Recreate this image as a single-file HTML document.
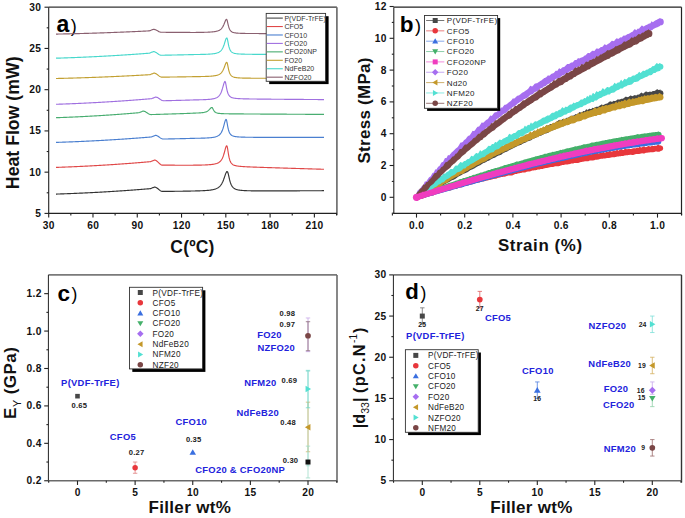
<!DOCTYPE html>
<html><head><meta charset="utf-8"><style>
html,body{margin:0;padding:0;background:#fff;}
body{width:685px;height:518px;overflow:hidden;}
svg{display:block;}
text{font-family:"Liberation Sans", sans-serif;}
</style></head><body>
<svg width="685" height="518" viewBox="0 0 685 518">
<rect width="685" height="518" fill="#fff"/>
<line x1="48.70" y1="7.20" x2="336.90" y2="7.20" stroke="#333" stroke-width="1.2"/>
<line x1="336.90" y1="7.20" x2="336.90" y2="215.20" stroke="#666" stroke-width="1.6"/>
<line x1="48.70" y1="7.20" x2="48.70" y2="213.40" stroke="#222" stroke-width="1.1"/>
<line x1="48.20" y1="213.40" x2="336.90" y2="213.40" stroke="#222" stroke-width="1.2"/>
<line x1="44.50" y1="213.40" x2="48.70" y2="213.40" stroke="#222" stroke-width="1.1"/>
<line x1="44.50" y1="172.16" x2="48.70" y2="172.16" stroke="#222" stroke-width="1.1"/>
<line x1="44.50" y1="130.92" x2="48.70" y2="130.92" stroke="#222" stroke-width="1.1"/>
<line x1="44.50" y1="89.68" x2="48.70" y2="89.68" stroke="#222" stroke-width="1.1"/>
<line x1="44.50" y1="48.44" x2="48.70" y2="48.44" stroke="#222" stroke-width="1.1"/>
<line x1="44.50" y1="7.20" x2="48.70" y2="7.20" stroke="#222" stroke-width="1.1"/>
<line x1="46.70" y1="192.78" x2="48.70" y2="192.78" stroke="#222" stroke-width="1.1"/>
<line x1="46.70" y1="151.54" x2="48.70" y2="151.54" stroke="#222" stroke-width="1.1"/>
<line x1="46.70" y1="110.30" x2="48.70" y2="110.30" stroke="#222" stroke-width="1.1"/>
<line x1="46.70" y1="69.06" x2="48.70" y2="69.06" stroke="#222" stroke-width="1.1"/>
<line x1="46.70" y1="27.82" x2="48.70" y2="27.82" stroke="#222" stroke-width="1.1"/>
<line x1="48.70" y1="213.40" x2="48.70" y2="217.60" stroke="#222" stroke-width="1.1"/>
<line x1="92.98" y1="213.40" x2="92.98" y2="217.60" stroke="#222" stroke-width="1.1"/>
<line x1="137.26" y1="213.40" x2="137.26" y2="217.60" stroke="#222" stroke-width="1.1"/>
<line x1="181.54" y1="213.40" x2="181.54" y2="217.60" stroke="#222" stroke-width="1.1"/>
<line x1="225.82" y1="213.40" x2="225.82" y2="217.60" stroke="#222" stroke-width="1.1"/>
<line x1="270.10" y1="213.40" x2="270.10" y2="217.60" stroke="#222" stroke-width="1.1"/>
<line x1="314.38" y1="213.40" x2="314.38" y2="217.60" stroke="#222" stroke-width="1.1"/>
<line x1="70.84" y1="213.40" x2="70.84" y2="215.40" stroke="#222" stroke-width="1.1"/>
<line x1="115.12" y1="213.40" x2="115.12" y2="215.40" stroke="#222" stroke-width="1.1"/>
<line x1="159.40" y1="213.40" x2="159.40" y2="215.40" stroke="#222" stroke-width="1.1"/>
<line x1="203.68" y1="213.40" x2="203.68" y2="215.40" stroke="#222" stroke-width="1.1"/>
<line x1="247.96" y1="213.40" x2="247.96" y2="215.40" stroke="#222" stroke-width="1.1"/>
<line x1="292.24" y1="213.40" x2="292.24" y2="215.40" stroke="#222" stroke-width="1.1"/>
<line x1="336.52" y1="213.40" x2="336.52" y2="215.40" stroke="#222" stroke-width="1.1"/>
<text x="41.35" y="216.90" font-size="10.2" font-weight="bold" text-anchor="end" fill="#111" letter-spacing="0.35">5</text>
<text x="41.35" y="175.66" font-size="10.2" font-weight="bold" text-anchor="end" fill="#111" letter-spacing="0.35">10</text>
<text x="41.35" y="134.42" font-size="10.2" font-weight="bold" text-anchor="end" fill="#111" letter-spacing="0.35">15</text>
<text x="41.35" y="93.18" font-size="10.2" font-weight="bold" text-anchor="end" fill="#111" letter-spacing="0.35">20</text>
<text x="41.35" y="51.94" font-size="10.2" font-weight="bold" text-anchor="end" fill="#111" letter-spacing="0.35">25</text>
<text x="41.35" y="10.70" font-size="10.2" font-weight="bold" text-anchor="end" fill="#111" letter-spacing="0.35">30</text>
<text x="48.88" y="228.90" font-size="10.2" font-weight="bold" text-anchor="middle" fill="#111" letter-spacing="0.35">30</text>
<text x="93.16" y="228.90" font-size="10.2" font-weight="bold" text-anchor="middle" fill="#111" letter-spacing="0.35">60</text>
<text x="137.44" y="228.90" font-size="10.2" font-weight="bold" text-anchor="middle" fill="#111" letter-spacing="0.35">90</text>
<text x="181.72" y="228.90" font-size="10.2" font-weight="bold" text-anchor="middle" fill="#111" letter-spacing="0.35">120</text>
<text x="226.00" y="228.90" font-size="10.2" font-weight="bold" text-anchor="middle" fill="#111" letter-spacing="0.35">150</text>
<text x="270.28" y="228.90" font-size="10.2" font-weight="bold" text-anchor="middle" fill="#111" letter-spacing="0.35">180</text>
<text x="314.56" y="228.90" font-size="10.2" font-weight="bold" text-anchor="middle" fill="#111" letter-spacing="0.35">210</text>
<text x="170.30" y="252.80" font-size="17.5" font-weight="bold" fill="#111" letter-spacing="0.194" >C(ºC)</text>
<text transform="translate(18.60,189.15) rotate(-90)" font-size="17.7" font-weight="bold" fill="#111" letter-spacing="0.007" >Heat Flow (mW)</text>
<text x="56.51" y="31.60" font-size="23" font-weight="bold" fill="#000" letter-spacing="0.000" >a</text>
<text x="70.71" y="31.90" font-size="18" font-weight="normal" fill="#000" letter-spacing="0.000" >)</text>
<path d="M56.00,194.09 L56.50,194.07 L57.00,194.06 L57.50,194.04 L58.00,194.02 L58.50,194.01 L59.00,193.99 L59.50,193.97 L60.00,193.96 L60.50,193.94 L61.00,193.92 L61.50,193.91 L62.00,193.89 L62.50,193.87 L63.00,193.85 L63.50,193.84 L64.00,193.82 L64.50,193.80 L65.00,193.78 L65.50,193.76 L66.00,193.74 L66.50,193.73 L67.00,193.71 L67.50,193.69 L68.00,193.67 L68.50,193.65 L69.00,193.63 L69.50,193.61 L70.00,193.59 L70.50,193.57 L71.00,193.55 L71.50,193.53 L72.00,193.51 L72.50,193.49 L73.00,193.47 L73.50,193.45 L74.00,193.43 L74.50,193.41 L75.00,193.39 L75.50,193.37 L76.00,193.35 L76.50,193.33 L77.00,193.30 L77.50,193.28 L78.00,193.26 L78.50,193.24 L79.00,193.22 L79.50,193.19 L80.00,193.17 L80.50,193.15 L81.00,193.13 L81.50,193.10 L82.00,193.08 L82.50,193.06 L83.00,193.04 L83.50,193.01 L84.00,192.99 L84.50,192.97 L85.00,192.94 L85.50,192.92 L86.00,192.89 L86.50,192.87 L87.00,192.85 L87.50,192.82 L88.00,192.80 L88.50,192.77 L89.00,192.75 L89.50,192.72 L90.00,192.70 L90.50,192.67 L91.00,192.65 L91.50,192.62 L92.00,192.60 L92.50,192.57 L93.00,192.54 L93.50,192.52 L94.00,192.49 L94.50,192.47 L95.00,192.44 L95.50,192.41 L96.00,192.39 L96.50,192.36 L97.00,192.33 L97.50,192.31 L98.00,192.28 L98.50,192.25 L99.00,192.22 L99.50,192.20 L100.00,192.17 L100.50,192.14 L101.00,192.11 L101.50,192.08 L102.00,192.06 L102.50,192.03 L103.00,192.00 L103.50,191.97 L104.00,191.94 L104.50,191.91 L105.00,191.88 L105.50,191.85 L106.00,191.82 L106.50,191.79 L107.00,191.76 L107.50,191.73 L108.00,191.70 L108.50,191.67 L109.00,191.64 L109.50,191.61 L110.00,191.58 L110.50,191.55 L111.00,191.52 L111.50,191.49 L112.00,191.46 L112.50,191.43 L113.00,191.40 L113.50,191.36 L114.00,191.33 L114.50,191.30 L115.00,191.27 L115.50,191.24 L116.00,191.21 L116.50,191.17 L117.00,191.14 L117.50,191.11 L118.00,191.07 L118.50,191.04 L119.00,191.01 L119.50,190.98 L120.00,190.94 L120.50,190.91 L121.00,190.88 L121.50,190.84 L122.00,190.81 L122.50,190.77 L123.00,190.74 L123.50,190.70 L124.00,190.67 L124.50,190.64 L125.00,190.60 L125.50,190.57 L126.00,190.53 L126.50,190.50 L127.00,190.46 L127.50,190.43 L128.00,190.39 L128.50,190.35 L129.00,190.32 L129.50,190.28 L130.00,190.25 L130.50,190.21 L131.00,190.17 L131.50,190.14 L132.00,190.10 L132.50,190.06 L133.00,190.03 L133.50,189.99 L134.00,189.95 L134.50,189.91 L135.00,189.88 L135.50,189.84 L136.00,189.80 L136.50,189.76 L137.00,189.72 L137.50,189.69 L138.00,189.65 L138.50,189.61 L139.00,189.57 L139.50,189.53 L140.00,189.49 L140.50,189.45 L141.00,189.41 L141.50,189.37 L142.00,189.33 L142.50,189.29 L143.00,189.25 L143.50,189.21 L144.00,189.17 L144.50,189.13 L145.00,189.09 L145.50,189.05 L146.00,189.01 L146.50,188.97 L147.00,188.93 L147.50,188.89 L148.00,188.85 L148.50,188.81 L149.00,188.76 L149.50,188.72 L150.00,188.68 L150.50,188.64 L151.00,188.44 L151.50,188.24 L152.00,188.04 L152.50,187.83 L153.00,187.63 L153.50,187.43 L154.00,187.23 L154.50,187.03 L155.00,187.08 L155.50,187.22 L156.00,187.43 L156.50,187.71 L157.00,188.05 L157.50,188.42 L158.00,188.81 L158.50,189.22 L159.00,189.63 L159.50,190.03 L160.00,190.40 L160.50,190.73 L161.00,191.01 L161.50,191.23 L162.00,191.36 L162.50,191.41 L163.00,191.41 L163.50,191.40 L164.00,191.40 L164.50,191.40 L165.00,191.39 L165.50,191.39 L166.00,191.38 L166.50,191.38 L167.00,191.37 L167.50,191.37 L168.00,191.36 L168.50,191.36 L169.00,191.35 L169.50,191.35 L170.00,191.34 L170.50,191.34 L171.00,191.33 L171.50,191.33 L172.00,191.32 L172.50,191.32 L173.00,191.31 L173.50,191.31 L174.00,191.30 L174.50,191.30 L175.00,191.29 L175.50,191.28 L176.00,191.28 L176.50,191.27 L177.00,191.27 L177.50,191.26 L178.00,191.25 L178.50,191.25 L179.00,191.24 L179.50,191.24 L180.00,191.23 L180.50,191.22 L181.00,191.22 L181.50,191.21 L182.00,191.20 L182.50,191.20 L183.00,191.19 L183.50,191.18 L184.00,191.17 L184.50,191.17 L185.00,191.16 L185.50,191.15 L186.00,191.14 L186.50,191.13 L187.00,191.13 L187.50,191.12 L188.00,191.11 L188.50,191.10 L189.00,191.09 L189.50,191.08 L190.00,191.07 L190.50,191.06 L191.00,191.05 L191.50,191.04 L192.00,191.03 L192.50,191.02 L193.00,191.00 L193.50,190.99 L194.00,190.98 L194.50,190.97 L195.00,190.95 L195.50,190.94 L196.00,190.93 L196.50,190.92 L197.00,190.91 L197.50,190.89 L198.00,190.88 L198.50,190.87 L199.00,190.85 L199.50,190.83 L200.00,190.82 L200.50,190.80 L201.00,190.78 L201.50,190.76 L202.00,190.74 L202.50,190.72 L203.00,190.69 L203.50,190.67 L204.00,190.64 L204.50,190.61 L205.00,190.58 L205.50,190.55 L206.00,190.52 L206.50,190.48 L207.00,190.44 L207.50,190.40 L208.00,190.35 L208.50,190.31 L209.00,190.25 L209.50,190.20 L210.00,190.14 L210.50,190.07 L211.00,190.00 L211.50,189.92 L212.00,189.83 L212.50,189.74 L213.00,189.64 L213.50,189.52 L214.00,189.40 L214.50,189.26 L215.00,189.11 L215.50,188.94 L216.00,188.76 L216.50,188.55 L217.00,188.31 L217.50,188.05 L218.00,187.75 L218.50,187.41 L219.00,187.03 L219.50,186.59 L220.00,186.09 L220.50,185.52 L221.00,184.87 L221.50,184.12 L222.00,183.26 L222.50,182.27 L223.00,181.16 L223.50,179.92 L224.00,178.55 L224.50,177.08 L225.00,175.59 L225.50,174.15 L226.00,172.90 L226.50,171.97 L227.00,171.50 L227.50,171.67 L228.00,172.93 L228.50,174.94 L229.00,177.21 L229.50,179.39 L230.00,181.30 L230.50,182.91 L231.00,184.22 L231.50,185.29 L232.00,186.15 L232.50,186.86 L233.00,187.43 L233.50,187.90 L234.00,188.30 L234.50,188.62 L235.00,188.90 L235.50,189.13 L236.00,189.33 L236.50,189.51 L237.00,189.66 L237.50,189.78 L238.00,189.90 L238.50,190.00 L239.00,190.08 L239.50,190.16 L240.00,190.23 L240.50,190.29 L241.00,190.35 L241.50,190.40 L242.00,190.44 L242.50,190.48 L243.00,190.52 L243.50,190.55 L244.00,190.58 L244.50,190.61 L245.00,190.63 L245.50,190.65 L246.00,190.67 L246.50,190.69 L247.00,190.71 L247.50,190.73 L248.00,190.74 L248.50,190.75 L249.00,190.77 L249.50,190.78 L250.00,190.79 L250.50,190.80 L251.00,190.81 L251.50,190.82 L252.00,190.82 L252.50,190.83 L253.00,190.84 L253.50,190.84 L254.00,190.85 L254.50,190.85 L255.00,190.86 L255.50,190.86 L256.00,190.87 L256.50,190.87 L257.00,190.87 L257.50,190.88 L258.00,190.88 L258.50,190.88 L259.00,190.88 L259.50,190.89 L260.00,190.89 L260.50,190.89 L261.00,190.89 L261.50,190.89 L262.00,190.89 L262.50,190.89 L263.00,190.89 L263.50,190.90 L264.00,190.90 L264.50,190.90 L265.00,190.90 L265.50,190.90 L266.00,190.90 L266.50,190.90 L267.00,190.90 L267.50,190.90 L268.00,190.90 L268.50,190.90 L269.00,190.90 L269.50,190.90 L270.00,190.89 L270.50,190.89 L271.00,190.89 L271.50,190.89 L272.00,190.89 L272.50,190.89 L273.00,190.89 L273.50,190.89 L274.00,190.89 L274.50,190.89 L275.00,190.89 L275.50,190.88 L276.00,190.88 L276.50,190.88 L277.00,190.88 L277.50,190.88 L278.00,190.88 L278.50,190.88 L279.00,190.87 L279.50,190.87 L280.00,190.87 L280.50,190.87 L281.00,190.87 L281.50,190.87 L282.00,190.87 L282.50,190.86 L283.00,190.86 L283.50,190.86 L284.00,190.86 L284.50,190.86 L285.00,190.86 L285.50,190.85 L286.00,190.85 L286.50,190.85 L287.00,190.85 L287.50,190.85 L288.00,190.84 L288.50,190.84 L289.00,190.84 L289.50,190.84 L290.00,190.84 L290.50,190.83 L291.00,190.83 L291.50,190.83 L292.00,190.83 L292.50,190.83 L293.00,190.82 L293.50,190.82 L294.00,190.82 L294.50,190.82 L295.00,190.82 L295.50,190.81 L296.00,190.81 L296.50,190.81 L297.00,190.81 L297.50,190.81 L298.00,190.80 L298.50,190.80 L299.00,190.80 L299.50,190.80 L300.00,190.79 L300.50,190.79 L301.00,190.79 L301.50,190.79 L302.00,190.79 L302.50,190.78 L303.00,190.78 L303.50,190.78 L304.00,190.78 L304.50,190.77 L305.00,190.77 L305.50,190.77 L306.00,190.77 L306.50,190.77 L307.00,190.76 L307.50,190.76 L308.00,190.76 L308.50,190.76 L309.00,190.75 L309.50,190.75 L310.00,190.75 L310.50,190.75 L311.00,190.75 L311.50,190.74 L312.00,190.74 L312.50,190.74 L313.00,190.74 L313.50,190.73 L314.00,190.73 L314.50,190.73 L315.00,190.73 L315.50,190.72 L316.00,190.72 L316.50,190.72 L317.00,190.72 L317.50,190.71 L318.00,190.71 L318.50,190.71 L319.00,190.71 L319.50,190.71 L320.00,190.70 L320.50,190.70 L321.00,190.70 L321.50,190.70 L322.00,190.69 L322.50,190.69 L323.00,190.69 L323.50,190.69 L324.00,190.68" fill="none" stroke="#333333" stroke-width="1.15" stroke-linejoin="round"/>
<path d="M56.00,167.39 L56.50,167.38 L57.00,167.36 L57.50,167.34 L58.00,167.32 L58.50,167.31 L59.00,167.29 L59.50,167.27 L60.00,167.25 L60.50,167.24 L61.00,167.22 L61.50,167.20 L62.00,167.18 L62.50,167.16 L63.00,167.15 L63.50,167.13 L64.00,167.11 L64.50,167.09 L65.00,167.07 L65.50,167.05 L66.00,167.03 L66.50,167.01 L67.00,166.99 L67.50,166.97 L68.00,166.95 L68.50,166.93 L69.00,166.91 L69.50,166.89 L70.00,166.87 L70.50,166.85 L71.00,166.83 L71.50,166.81 L72.00,166.79 L72.50,166.77 L73.00,166.74 L73.50,166.72 L74.00,166.70 L74.50,166.68 L75.00,166.66 L75.50,166.63 L76.00,166.61 L76.50,166.59 L77.00,166.57 L77.50,166.54 L78.00,166.52 L78.50,166.50 L79.00,166.47 L79.50,166.45 L80.00,166.43 L80.50,166.40 L81.00,166.38 L81.50,166.36 L82.00,166.33 L82.50,166.31 L83.00,166.28 L83.50,166.26 L84.00,166.24 L84.50,166.21 L85.00,166.19 L85.50,166.16 L86.00,166.14 L86.50,166.11 L87.00,166.08 L87.50,166.06 L88.00,166.03 L88.50,166.01 L89.00,165.98 L89.50,165.95 L90.00,165.93 L90.50,165.90 L91.00,165.88 L91.50,165.85 L92.00,165.82 L92.50,165.79 L93.00,165.77 L93.50,165.74 L94.00,165.71 L94.50,165.68 L95.00,165.66 L95.50,165.63 L96.00,165.60 L96.50,165.57 L97.00,165.54 L97.50,165.52 L98.00,165.49 L98.50,165.46 L99.00,165.43 L99.50,165.40 L100.00,165.37 L100.50,165.34 L101.00,165.31 L101.50,165.28 L102.00,165.25 L102.50,165.22 L103.00,165.19 L103.50,165.16 L104.00,165.13 L104.50,165.10 L105.00,165.07 L105.50,165.04 L106.00,165.01 L106.50,164.98 L107.00,164.95 L107.50,164.91 L108.00,164.88 L108.50,164.85 L109.00,164.82 L109.50,164.79 L110.00,164.75 L110.50,164.72 L111.00,164.69 L111.50,164.66 L112.00,164.62 L112.50,164.59 L113.00,164.56 L113.50,164.53 L114.00,164.49 L114.50,164.46 L115.00,164.43 L115.50,164.39 L116.00,164.36 L116.50,164.32 L117.00,164.29 L117.50,164.26 L118.00,164.22 L118.50,164.19 L119.00,164.15 L119.50,164.12 L120.00,164.08 L120.50,164.05 L121.00,164.01 L121.50,163.97 L122.00,163.94 L122.50,163.90 L123.00,163.87 L123.50,163.83 L124.00,163.80 L124.50,163.76 L125.00,163.72 L125.50,163.69 L126.00,163.65 L126.50,163.61 L127.00,163.57 L127.50,163.54 L128.00,163.50 L128.50,163.46 L129.00,163.42 L129.50,163.39 L130.00,163.35 L130.50,163.31 L131.00,163.27 L131.50,163.23 L132.00,163.20 L132.50,163.16 L133.00,163.12 L133.50,163.08 L134.00,163.04 L134.50,163.00 L135.00,162.96 L135.50,162.92 L136.00,162.88 L136.50,162.84 L137.00,162.80 L137.50,162.76 L138.00,162.72 L138.50,162.68 L139.00,162.64 L139.50,162.60 L140.00,162.56 L140.50,162.52 L141.00,162.48 L141.50,162.43 L142.00,162.39 L142.50,162.35 L143.00,162.31 L143.50,162.27 L144.00,162.22 L144.50,162.18 L145.00,162.14 L145.50,162.10 L146.00,162.05 L146.50,162.01 L147.00,161.97 L147.50,161.92 L148.00,161.88 L148.50,161.84 L149.00,161.79 L149.50,161.75 L150.00,161.71 L150.50,161.66 L151.00,161.46 L151.50,161.26 L152.00,161.06 L152.50,160.86 L153.00,160.66 L153.50,160.46 L154.00,160.26 L154.50,160.06 L155.00,160.11 L155.50,160.28 L156.00,160.53 L156.50,160.85 L157.00,161.24 L157.50,161.67 L158.00,162.13 L158.50,162.60 L159.00,163.08 L159.50,163.54 L160.00,163.97 L160.50,164.35 L161.00,164.68 L161.50,164.93 L162.00,165.09 L162.50,165.15 L163.00,165.15 L163.50,165.15 L164.00,165.15 L164.50,165.16 L165.00,165.16 L165.50,165.16 L166.00,165.16 L166.50,165.16 L167.00,165.17 L167.50,165.17 L168.00,165.17 L168.50,165.17 L169.00,165.17 L169.50,165.18 L170.00,165.18 L170.50,165.18 L171.00,165.18 L171.50,165.18 L172.00,165.19 L172.50,165.19 L173.00,165.19 L173.50,165.19 L174.00,165.19 L174.50,165.19 L175.00,165.20 L175.50,165.20 L176.00,165.20 L176.50,165.20 L177.00,165.20 L177.50,165.20 L178.00,165.20 L178.50,165.20 L179.00,165.21 L179.50,165.21 L180.00,165.21 L180.50,165.21 L181.00,165.21 L181.50,165.21 L182.00,165.21 L182.50,165.21 L183.00,165.21 L183.50,165.21 L184.00,165.21 L184.50,165.21 L185.00,165.21 L185.50,165.21 L186.00,165.21 L186.50,165.21 L187.00,165.21 L187.50,165.21 L188.00,165.21 L188.50,165.21 L189.00,165.21 L189.50,165.21 L190.00,165.21 L190.50,165.21 L191.00,165.21 L191.50,165.20 L192.00,165.20 L192.50,165.20 L193.00,165.20 L193.50,165.19 L194.00,165.19 L194.50,165.19 L195.00,165.18 L195.50,165.18 L196.00,165.17 L196.50,165.16 L197.00,165.16 L197.50,165.15 L198.00,165.14 L198.50,165.13 L199.00,165.12 L199.50,165.11 L200.00,165.10 L200.50,165.09 L201.00,165.07 L201.50,165.06 L202.00,165.05 L202.50,165.03 L203.00,165.02 L203.50,165.00 L204.00,164.99 L204.50,164.97 L205.00,164.95 L205.50,164.93 L206.00,164.90 L206.50,164.88 L207.00,164.85 L207.50,164.83 L208.00,164.80 L208.50,164.76 L209.00,164.73 L209.50,164.69 L210.00,164.65 L210.50,164.60 L211.00,164.56 L211.50,164.50 L212.00,164.44 L212.50,164.38 L213.00,164.31 L213.50,164.23 L214.00,164.14 L214.50,164.04 L215.00,163.94 L215.50,163.81 L216.00,163.68 L216.50,163.52 L217.00,163.34 L217.50,163.14 L218.00,162.91 L218.50,162.65 L219.00,162.34 L219.50,161.98 L220.00,161.56 L220.50,161.07 L221.00,160.48 L221.50,159.79 L222.00,158.96 L222.50,157.97 L223.00,156.79 L223.50,155.40 L224.00,153.79 L224.50,151.98 L225.00,150.06 L225.50,148.21 L226.00,146.69 L226.50,145.82 L227.00,145.94 L227.50,148.03 L228.00,151.26 L228.50,154.47 L229.00,157.13 L229.50,159.17 L230.00,160.71 L230.50,161.86 L231.00,162.73 L231.50,163.40 L232.00,163.92 L232.50,164.33 L233.00,164.66 L233.50,164.93 L234.00,165.16 L234.50,165.35 L235.00,165.51 L235.50,165.64 L236.00,165.76 L236.50,165.86 L237.00,165.95 L237.50,166.04 L238.00,166.11 L238.50,166.18 L239.00,166.23 L239.50,166.29 L240.00,166.34 L240.50,166.39 L241.00,166.43 L241.50,166.47 L242.00,166.51 L242.50,166.55 L243.00,166.58 L243.50,166.61 L244.00,166.64 L244.50,166.67 L245.00,166.70 L245.50,166.73 L246.00,166.76 L246.50,166.78 L247.00,166.81 L247.50,166.83 L248.00,166.85 L248.50,166.88 L249.00,166.90 L249.50,166.92 L250.00,166.94 L250.50,166.96 L251.00,166.98 L251.50,167.01 L252.00,167.03 L252.50,167.05 L253.00,167.06 L253.50,167.08 L254.00,167.10 L254.50,167.12 L255.00,167.14 L255.50,167.16 L256.00,167.18 L256.50,167.19 L257.00,167.21 L257.50,167.23 L258.00,167.25 L258.50,167.27 L259.00,167.28 L259.50,167.30 L260.00,167.32 L260.50,167.33 L261.00,167.35 L261.50,167.37 L262.00,167.39 L262.50,167.40 L263.00,167.42 L263.50,167.44 L264.00,167.45 L264.50,167.47 L265.00,167.48 L265.50,167.50 L266.00,167.52 L266.50,167.53 L267.00,167.55 L267.50,167.57 L268.00,167.58 L268.50,167.60 L269.00,167.61 L269.50,167.63 L270.00,167.65 L270.50,167.66 L271.00,167.68 L271.50,167.69 L272.00,167.71 L272.50,167.72 L273.00,167.74 L273.50,167.76 L274.00,167.77 L274.50,167.79 L275.00,167.80 L275.50,167.82 L276.00,167.83 L276.50,167.85 L277.00,167.87 L277.50,167.88 L278.00,167.90 L278.50,167.91 L279.00,167.93 L279.50,167.94 L280.00,167.96 L280.50,167.97 L281.00,167.99 L281.50,168.01 L282.00,168.02 L282.50,168.04 L283.00,168.05 L283.50,168.07 L284.00,168.08 L284.50,168.10 L285.00,168.11 L285.50,168.13 L286.00,168.14 L286.50,168.16 L287.00,168.17 L287.50,168.19 L288.00,168.20 L288.50,168.22 L289.00,168.23 L289.50,168.25 L290.00,168.27 L290.50,168.28 L291.00,168.30 L291.50,168.31 L292.00,168.33 L292.50,168.34 L293.00,168.36 L293.50,168.37 L294.00,168.39 L294.50,168.40 L295.00,168.42 L295.50,168.43 L296.00,168.45 L296.50,168.46 L297.00,168.48 L297.50,168.49 L298.00,168.51 L298.50,168.52 L299.00,168.54 L299.50,168.55 L300.00,168.57 L300.50,168.58 L301.00,168.60 L301.50,168.61 L302.00,168.63 L302.50,168.64 L303.00,168.66 L303.50,168.67 L304.00,168.69 L304.50,168.70 L305.00,168.72 L305.50,168.74 L306.00,168.75 L306.50,168.77 L307.00,168.78 L307.50,168.80 L308.00,168.81 L308.50,168.83 L309.00,168.84 L309.50,168.86 L310.00,168.87 L310.50,168.89 L311.00,168.90 L311.50,168.92 L312.00,168.93 L312.50,168.95 L313.00,168.96 L313.50,168.98 L314.00,168.99 L314.50,169.01 L315.00,169.02 L315.50,169.04 L316.00,169.05 L316.50,169.07 L317.00,169.08 L317.50,169.10 L318.00,169.11 L318.50,169.13 L319.00,169.14 L319.50,169.16 L320.00,169.17 L320.50,169.19 L321.00,169.20 L321.50,169.22 L322.00,169.23 L322.50,169.25 L323.00,169.26 L323.50,169.28 L324.00,169.29" fill="none" stroke="#e04848" stroke-width="1.15" stroke-linejoin="round"/>
<path d="M56.00,142.39 L56.50,142.38 L57.00,142.36 L57.50,142.35 L58.00,142.33 L58.50,142.31 L59.00,142.30 L59.50,142.28 L60.00,142.26 L60.50,142.25 L61.00,142.23 L61.50,142.21 L62.00,142.20 L62.50,142.18 L63.00,142.16 L63.50,142.14 L64.00,142.13 L64.50,142.11 L65.00,142.09 L65.50,142.07 L66.00,142.05 L66.50,142.04 L67.00,142.02 L67.50,142.00 L68.00,141.98 L68.50,141.96 L69.00,141.94 L69.50,141.92 L70.00,141.90 L70.50,141.88 L71.00,141.86 L71.50,141.84 L72.00,141.83 L72.50,141.81 L73.00,141.78 L73.50,141.76 L74.00,141.74 L74.50,141.72 L75.00,141.70 L75.50,141.68 L76.00,141.66 L76.50,141.64 L77.00,141.62 L77.50,141.60 L78.00,141.58 L78.50,141.56 L79.00,141.53 L79.50,141.51 L80.00,141.49 L80.50,141.47 L81.00,141.45 L81.50,141.42 L82.00,141.40 L82.50,141.38 L83.00,141.35 L83.50,141.33 L84.00,141.31 L84.50,141.29 L85.00,141.26 L85.50,141.24 L86.00,141.22 L86.50,141.19 L87.00,141.17 L87.50,141.14 L88.00,141.12 L88.50,141.10 L89.00,141.07 L89.50,141.05 L90.00,141.02 L90.50,141.00 L91.00,140.97 L91.50,140.95 L92.00,140.92 L92.50,140.90 L93.00,140.87 L93.50,140.85 L94.00,140.82 L94.50,140.79 L95.00,140.77 L95.50,140.74 L96.00,140.72 L96.50,140.69 L97.00,140.66 L97.50,140.64 L98.00,140.61 L98.50,140.58 L99.00,140.56 L99.50,140.53 L100.00,140.50 L100.50,140.47 L101.00,140.45 L101.50,140.42 L102.00,140.39 L102.50,140.36 L103.00,140.33 L103.50,140.31 L104.00,140.28 L104.50,140.25 L105.00,140.22 L105.50,140.19 L106.00,140.16 L106.50,140.13 L107.00,140.10 L107.50,140.07 L108.00,140.04 L108.50,140.02 L109.00,139.99 L109.50,139.96 L110.00,139.93 L110.50,139.90 L111.00,139.86 L111.50,139.83 L112.00,139.80 L112.50,139.77 L113.00,139.74 L113.50,139.71 L114.00,139.68 L114.50,139.65 L115.00,139.62 L115.50,139.59 L116.00,139.55 L116.50,139.52 L117.00,139.49 L117.50,139.46 L118.00,139.43 L118.50,139.39 L119.00,139.36 L119.50,139.33 L120.00,139.30 L120.50,139.26 L121.00,139.23 L121.50,139.20 L122.00,139.16 L122.50,139.13 L123.00,139.10 L123.50,139.06 L124.00,139.03 L124.50,139.00 L125.00,138.96 L125.50,138.93 L126.00,138.89 L126.50,138.86 L127.00,138.82 L127.50,138.79 L128.00,138.75 L128.50,138.72 L129.00,138.68 L129.50,138.65 L130.00,138.61 L130.50,138.58 L131.00,138.54 L131.50,138.50 L132.00,138.47 L132.50,138.43 L133.00,138.40 L133.50,138.36 L134.00,138.32 L134.50,138.29 L135.00,138.25 L135.50,138.21 L136.00,138.18 L136.50,138.14 L137.00,138.10 L137.50,138.06 L138.00,138.03 L138.50,137.99 L139.00,137.95 L139.50,137.91 L140.00,137.87 L140.50,137.84 L141.00,137.80 L141.50,137.76 L142.00,137.72 L142.50,137.68 L143.00,137.64 L143.50,137.60 L144.00,137.56 L144.50,137.52 L145.00,137.48 L145.50,137.44 L146.00,137.40 L146.50,137.36 L147.00,137.32 L147.50,137.28 L148.00,137.24 L148.50,137.20 L149.00,137.16 L149.50,137.12 L150.00,137.08 L150.50,137.04 L151.00,137.00 L151.50,136.92 L152.00,136.72 L152.50,136.52 L153.00,136.32 L153.50,136.12 L154.00,135.92 L154.50,135.72 L155.00,135.52 L155.50,135.36 L156.00,135.42 L156.50,135.55 L157.00,135.74 L157.50,135.99 L158.00,136.27 L158.50,136.59 L159.00,136.93 L159.50,137.27 L160.00,137.62 L160.50,137.95 L161.00,138.25 L161.50,138.52 L162.00,138.75 L162.50,138.92 L163.00,139.02 L163.50,139.05 L164.00,139.04 L164.50,139.03 L165.00,139.02 L165.50,139.01 L166.00,138.99 L166.50,138.98 L167.00,138.97 L167.50,138.96 L168.00,138.95 L168.50,138.94 L169.00,138.93 L169.50,138.92 L170.00,138.91 L170.50,138.90 L171.00,138.89 L171.50,138.88 L172.00,138.87 L172.50,138.86 L173.00,138.85 L173.50,138.84 L174.00,138.82 L174.50,138.81 L175.00,138.80 L175.50,138.79 L176.00,138.78 L176.50,138.77 L177.00,138.76 L177.50,138.75 L178.00,138.74 L178.50,138.72 L179.00,138.71 L179.50,138.70 L180.00,138.69 L180.50,138.68 L181.00,138.67 L181.50,138.66 L182.00,138.64 L182.50,138.63 L183.00,138.62 L183.50,138.61 L184.00,138.60 L184.50,138.58 L185.00,138.57 L185.50,138.56 L186.00,138.55 L186.50,138.53 L187.00,138.52 L187.50,138.51 L188.00,138.49 L188.50,138.48 L189.00,138.47 L189.50,138.45 L190.00,138.44 L190.50,138.43 L191.00,138.41 L191.50,138.40 L192.00,138.38 L192.50,138.37 L193.00,138.35 L193.50,138.34 L194.00,138.32 L194.50,138.31 L195.00,138.29 L195.50,138.29 L196.00,138.28 L196.50,138.27 L197.00,138.26 L197.50,138.26 L198.00,138.25 L198.50,138.24 L199.00,138.23 L199.50,138.22 L200.00,138.21 L200.50,138.20 L201.00,138.18 L201.50,138.17 L202.00,138.16 L202.50,138.14 L203.00,138.13 L203.50,138.11 L204.00,138.09 L204.50,138.08 L205.00,138.06 L205.50,138.03 L206.00,138.01 L206.50,137.99 L207.00,137.96 L207.50,137.93 L208.00,137.90 L208.50,137.87 L209.00,137.83 L209.50,137.79 L210.00,137.75 L210.50,137.70 L211.00,137.65 L211.50,137.60 L212.00,137.53 L212.50,137.47 L213.00,137.39 L213.50,137.31 L214.00,137.21 L214.50,137.11 L215.00,136.99 L215.50,136.86 L216.00,136.70 L216.50,136.53 L217.00,136.34 L217.50,136.11 L218.00,135.85 L218.50,135.54 L219.00,135.19 L219.50,134.77 L220.00,134.27 L220.50,133.68 L221.00,132.98 L221.50,132.13 L222.00,131.12 L222.50,129.92 L223.00,128.50 L223.50,126.86 L224.00,125.04 L224.50,123.16 L225.00,121.40 L225.50,120.05 L226.00,119.39 L226.50,119.99 L227.00,122.32 L227.50,125.23 L228.00,127.87 L228.50,129.96 L229.00,131.54 L229.50,132.72 L230.00,133.60 L230.50,134.27 L231.00,134.78 L231.50,135.19 L232.00,135.50 L232.50,135.76 L233.00,135.97 L233.50,136.14 L234.00,136.29 L234.50,136.41 L235.00,136.51 L235.50,136.60 L236.00,136.67 L236.50,136.74 L237.00,136.79 L237.50,136.85 L238.00,136.89 L238.50,136.93 L239.00,136.96 L239.50,136.99 L240.00,137.02 L240.50,137.05 L241.00,137.07 L241.50,137.09 L242.00,137.11 L242.50,137.13 L243.00,137.14 L243.50,137.16 L244.00,137.17 L244.50,137.18 L245.00,137.19 L245.50,137.20 L246.00,137.21 L246.50,137.22 L247.00,137.23 L247.50,137.24 L248.00,137.25 L248.50,137.25 L249.00,137.26 L249.50,137.27 L250.00,137.27 L250.50,137.28 L251.00,137.28 L251.50,137.29 L252.00,137.29 L252.50,137.29 L253.00,137.30 L253.50,137.30 L254.00,137.30 L254.50,137.31 L255.00,137.31 L255.50,137.31 L256.00,137.32 L256.50,137.32 L257.00,137.32 L257.50,137.32 L258.00,137.33 L258.50,137.33 L259.00,137.33 L259.50,137.33 L260.00,137.34 L260.50,137.34 L261.00,137.34 L261.50,137.34 L262.00,137.34 L262.50,137.34 L263.00,137.35 L263.50,137.35 L264.00,137.35 L264.50,137.35 L265.00,137.35 L265.50,137.35 L266.00,137.35 L266.50,137.35 L267.00,137.36 L267.50,137.36 L268.00,137.36 L268.50,137.36 L269.00,137.36 L269.50,137.36 L270.00,137.36 L270.50,137.36 L271.00,137.36 L271.50,137.36 L272.00,137.36 L272.50,137.37 L273.00,137.37 L273.50,137.37 L274.00,137.37 L274.50,137.37 L275.00,137.37 L275.50,137.37 L276.00,137.37 L276.50,137.37 L277.00,137.37 L277.50,137.37 L278.00,137.37 L278.50,137.37 L279.00,137.37 L279.50,137.37 L280.00,137.37 L280.50,137.37 L281.00,137.38 L281.50,137.38 L282.00,137.38 L282.50,137.38 L283.00,137.38 L283.50,137.38 L284.00,137.38 L284.50,137.38 L285.00,137.38 L285.50,137.38 L286.00,137.38 L286.50,137.38 L287.00,137.38 L287.50,137.38 L288.00,137.38 L288.50,137.38 L289.00,137.38 L289.50,137.38 L290.00,137.38 L290.50,137.38 L291.00,137.38 L291.50,137.38 L292.00,137.38 L292.50,137.38 L293.00,137.38 L293.50,137.38 L294.00,137.38 L294.50,137.38 L295.00,137.38 L295.50,137.38 L296.00,137.38 L296.50,137.39 L297.00,137.39 L297.50,137.39 L298.00,137.39 L298.50,137.39 L299.00,137.39 L299.50,137.39 L300.00,137.39 L300.50,137.39 L301.00,137.39 L301.50,137.39 L302.00,137.39 L302.50,137.39 L303.00,137.39 L303.50,137.39 L304.00,137.39 L304.50,137.39 L305.00,137.39 L305.50,137.39 L306.00,137.39 L306.50,137.39 L307.00,137.39 L307.50,137.39 L308.00,137.39 L308.50,137.39 L309.00,137.39 L309.50,137.39 L310.00,137.39 L310.50,137.39 L311.00,137.39 L311.50,137.39 L312.00,137.39 L312.50,137.39 L313.00,137.39 L313.50,137.39 L314.00,137.39 L314.50,137.39 L315.00,137.39 L315.50,137.39 L316.00,137.39 L316.50,137.39 L317.00,137.39 L317.50,137.39 L318.00,137.39 L318.50,137.39 L319.00,137.39 L319.50,137.39 L320.00,137.39 L320.50,137.39 L321.00,137.39 L321.50,137.39 L322.00,137.39 L322.50,137.39 L323.00,137.39 L323.50,137.39 L324.00,137.39" fill="none" stroke="#4a7fd0" stroke-width="1.15" stroke-linejoin="round"/>
<path d="M56.00,104.29 L56.50,104.28 L57.00,104.26 L57.50,104.24 L58.00,104.23 L58.50,104.21 L59.00,104.19 L59.50,104.18 L60.00,104.16 L60.50,104.14 L61.00,104.12 L61.50,104.11 L62.00,104.09 L62.50,104.07 L63.00,104.05 L63.50,104.04 L64.00,104.02 L64.50,104.00 L65.00,103.98 L65.50,103.96 L66.00,103.94 L66.50,103.92 L67.00,103.90 L67.50,103.89 L68.00,103.87 L68.50,103.85 L69.00,103.83 L69.50,103.81 L70.00,103.79 L70.50,103.77 L71.00,103.75 L71.50,103.73 L72.00,103.71 L72.50,103.68 L73.00,103.66 L73.50,103.64 L74.00,103.62 L74.50,103.60 L75.00,103.58 L75.50,103.56 L76.00,103.54 L76.50,103.51 L77.00,103.49 L77.50,103.47 L78.00,103.45 L78.50,103.43 L79.00,103.40 L79.50,103.38 L80.00,103.36 L80.50,103.34 L81.00,103.31 L81.50,103.29 L82.00,103.27 L82.50,103.24 L83.00,103.22 L83.50,103.20 L84.00,103.17 L84.50,103.15 L85.00,103.12 L85.50,103.10 L86.00,103.08 L86.50,103.05 L87.00,103.03 L87.50,103.00 L88.00,102.98 L88.50,102.95 L89.00,102.93 L89.50,102.90 L90.00,102.88 L90.50,102.85 L91.00,102.82 L91.50,102.80 L92.00,102.77 L92.50,102.75 L93.00,102.72 L93.50,102.69 L94.00,102.67 L94.50,102.64 L95.00,102.61 L95.50,102.59 L96.00,102.56 L96.50,102.53 L97.00,102.50 L97.50,102.48 L98.00,102.45 L98.50,102.42 L99.00,102.39 L99.50,102.36 L100.00,102.34 L100.50,102.31 L101.00,102.28 L101.50,102.25 L102.00,102.22 L102.50,102.19 L103.00,102.16 L103.50,102.13 L104.00,102.10 L104.50,102.08 L105.00,102.05 L105.50,102.02 L106.00,101.99 L106.50,101.96 L107.00,101.93 L107.50,101.90 L108.00,101.86 L108.50,101.83 L109.00,101.80 L109.50,101.77 L110.00,101.74 L110.50,101.71 L111.00,101.68 L111.50,101.65 L112.00,101.62 L112.50,101.58 L113.00,101.55 L113.50,101.52 L114.00,101.49 L114.50,101.46 L115.00,101.42 L115.50,101.39 L116.00,101.36 L116.50,101.32 L117.00,101.29 L117.50,101.26 L118.00,101.23 L118.50,101.19 L119.00,101.16 L119.50,101.12 L120.00,101.09 L120.50,101.06 L121.00,101.02 L121.50,100.99 L122.00,100.95 L122.50,100.92 L123.00,100.88 L123.50,100.85 L124.00,100.81 L124.50,100.78 L125.00,100.74 L125.50,100.71 L126.00,100.67 L126.50,100.64 L127.00,100.60 L127.50,100.57 L128.00,100.53 L128.50,100.49 L129.00,100.46 L129.50,100.42 L130.00,100.38 L130.50,100.35 L131.00,100.31 L131.50,100.27 L132.00,100.24 L132.50,100.20 L133.00,100.16 L133.50,100.12 L134.00,100.09 L134.50,100.05 L135.00,100.01 L135.50,99.97 L136.00,99.93 L136.50,99.89 L137.00,99.86 L137.50,99.82 L138.00,99.78 L138.50,99.74 L139.00,99.70 L139.50,99.66 L140.00,99.62 L140.50,99.58 L141.00,99.54 L141.50,99.50 L142.00,99.46 L142.50,99.42 L143.00,99.38 L143.50,99.34 L144.00,99.30 L144.50,99.26 L145.00,99.22 L145.50,99.18 L146.00,99.14 L146.50,99.09 L147.00,99.05 L147.50,99.01 L148.00,98.97 L148.50,98.93 L149.00,98.88 L149.50,98.84 L150.00,98.80 L150.50,98.76 L151.00,98.71 L151.50,98.67 L152.00,98.50 L152.50,98.30 L153.00,98.10 L153.50,97.90 L154.00,97.70 L154.50,97.50 L155.00,97.30 L155.50,97.10 L156.00,97.09 L156.50,97.19 L157.00,97.36 L157.50,97.58 L158.00,97.86 L158.50,98.16 L159.00,98.49 L159.50,98.83 L160.00,99.18 L160.50,99.52 L161.00,99.83 L161.50,100.12 L162.00,100.37 L162.50,100.56 L163.00,100.69 L163.50,100.75 L164.00,100.74 L164.50,100.73 L165.00,100.71 L165.50,100.70 L166.00,100.69 L166.50,100.68 L167.00,100.67 L167.50,100.65 L168.00,100.64 L168.50,100.63 L169.00,100.62 L169.50,100.60 L170.00,100.59 L170.50,100.58 L171.00,100.57 L171.50,100.56 L172.00,100.54 L172.50,100.53 L173.00,100.52 L173.50,100.51 L174.00,100.49 L174.50,100.48 L175.00,100.47 L175.50,100.45 L176.00,100.44 L176.50,100.43 L177.00,100.42 L177.50,100.40 L178.00,100.39 L178.50,100.38 L179.00,100.36 L179.50,100.35 L180.00,100.34 L180.50,100.32 L181.00,100.31 L181.50,100.30 L182.00,100.28 L182.50,100.27 L183.00,100.26 L183.50,100.24 L184.00,100.23 L184.50,100.21 L185.00,100.20 L185.50,100.19 L186.00,100.17 L186.50,100.16 L187.00,100.14 L187.50,100.13 L188.00,100.11 L188.50,100.10 L189.00,100.08 L189.50,100.07 L190.00,100.05 L190.50,100.04 L191.00,100.02 L191.50,100.00 L192.00,99.99 L192.50,99.97 L193.00,99.95 L193.50,99.94 L194.00,99.92 L194.50,99.90 L195.00,99.88 L195.50,99.88 L196.00,99.87 L196.50,99.86 L197.00,99.85 L197.50,99.84 L198.00,99.83 L198.50,99.82 L199.00,99.81 L199.50,99.80 L200.00,99.79 L200.50,99.78 L201.00,99.76 L201.50,99.75 L202.00,99.73 L202.50,99.72 L203.00,99.70 L203.50,99.68 L204.00,99.66 L204.50,99.64 L205.00,99.62 L205.50,99.60 L206.00,99.57 L206.50,99.54 L207.00,99.51 L207.50,99.48 L208.00,99.44 L208.50,99.40 L209.00,99.36 L209.50,99.32 L210.00,99.26 L210.50,99.21 L211.00,99.15 L211.50,99.08 L212.00,99.00 L212.50,98.92 L213.00,98.83 L213.50,98.72 L214.00,98.60 L214.50,98.47 L215.00,98.32 L215.50,98.15 L216.00,97.95 L216.50,97.73 L217.00,97.46 L217.50,97.16 L218.00,96.80 L218.50,96.38 L219.00,95.87 L219.50,95.28 L220.00,94.57 L220.50,93.71 L221.00,92.69 L221.50,91.48 L222.00,90.05 L222.50,88.41 L223.00,86.61 L223.50,84.78 L224.00,83.12 L224.50,81.91 L225.00,81.40 L225.50,82.37 L226.00,84.83 L226.50,87.65 L227.00,90.11 L227.50,92.04 L228.00,93.49 L228.50,94.57 L229.00,95.38 L229.50,96.00 L230.00,96.48 L230.50,96.85 L231.00,97.15 L231.50,97.40 L232.00,97.59 L232.50,97.76 L233.00,97.90 L233.50,98.01 L234.00,98.11 L234.50,98.20 L235.00,98.28 L235.50,98.34 L236.00,98.40 L236.50,98.45 L237.00,98.50 L237.50,98.54 L238.00,98.57 L238.50,98.61 L239.00,98.64 L239.50,98.66 L240.00,98.69 L240.50,98.71 L241.00,98.73 L241.50,98.75 L242.00,98.77 L242.50,98.79 L243.00,98.81 L243.50,98.82 L244.00,98.84 L244.50,98.85 L245.00,98.86 L245.50,98.87 L246.00,98.89 L246.50,98.90 L247.00,98.91 L247.50,98.92 L248.00,98.93 L248.50,98.94 L249.00,98.94 L249.50,98.95 L250.00,98.96 L250.50,98.97 L251.00,98.98 L251.50,98.98 L252.00,98.99 L252.50,99.00 L253.00,99.01 L253.50,99.01 L254.00,99.02 L254.50,99.03 L255.00,99.03 L255.50,99.04 L256.00,99.04 L256.50,99.05 L257.00,99.06 L257.50,99.06 L258.00,99.07 L258.50,99.07 L259.00,99.08 L259.50,99.08 L260.00,99.09 L260.50,99.09 L261.00,99.10 L261.50,99.10 L262.00,99.11 L262.50,99.11 L263.00,99.12 L263.50,99.12 L264.00,99.13 L264.50,99.13 L265.00,99.14 L265.50,99.14 L266.00,99.15 L266.50,99.15 L267.00,99.16 L267.50,99.16 L268.00,99.16 L268.50,99.17 L269.00,99.17 L269.50,99.18 L270.00,99.18 L270.50,99.19 L271.00,99.19 L271.50,99.20 L272.00,99.20 L272.50,99.20 L273.00,99.21 L273.50,99.21 L274.00,99.22 L274.50,99.22 L275.00,99.22 L275.50,99.23 L276.00,99.23 L276.50,99.24 L277.00,99.24 L277.50,99.24 L278.00,99.25 L278.50,99.25 L279.00,99.26 L279.50,99.26 L280.00,99.26 L280.50,99.27 L281.00,99.27 L281.50,99.28 L282.00,99.28 L282.50,99.28 L283.00,99.29 L283.50,99.29 L284.00,99.30 L284.50,99.30 L285.00,99.30 L285.50,99.31 L286.00,99.31 L286.50,99.32 L287.00,99.32 L287.50,99.32 L288.00,99.33 L288.50,99.33 L289.00,99.33 L289.50,99.34 L290.00,99.34 L290.50,99.35 L291.00,99.35 L291.50,99.35 L292.00,99.36 L292.50,99.36 L293.00,99.37 L293.50,99.37 L294.00,99.37 L294.50,99.38 L295.00,99.38 L295.50,99.38 L296.00,99.39 L296.50,99.39 L297.00,99.40 L297.50,99.40 L298.00,99.40 L298.50,99.41 L299.00,99.41 L299.50,99.41 L300.00,99.42 L300.50,99.42 L301.00,99.42 L301.50,99.43 L302.00,99.43 L302.50,99.44 L303.00,99.44 L303.50,99.44 L304.00,99.45 L304.50,99.45 L305.00,99.45 L305.50,99.46 L306.00,99.46 L306.50,99.47 L307.00,99.47 L307.50,99.47 L308.00,99.48 L308.50,99.48 L309.00,99.48 L309.50,99.49 L310.00,99.49 L310.50,99.49 L311.00,99.50 L311.50,99.50 L312.00,99.51 L312.50,99.51 L313.00,99.51 L313.50,99.52 L314.00,99.52 L314.50,99.52 L315.00,99.53 L315.50,99.53 L316.00,99.53 L316.50,99.54 L317.00,99.54 L317.50,99.55 L318.00,99.55 L318.50,99.55 L319.00,99.56 L319.50,99.56 L320.00,99.56 L320.50,99.57 L321.00,99.57 L321.50,99.57 L322.00,99.58 L322.50,99.58 L323.00,99.59 L323.50,99.59 L324.00,99.59" fill="none" stroke="#a070e0" stroke-width="1.15" stroke-linejoin="round"/>
<path d="M56.00,117.70 L56.50,117.68 L57.00,117.66 L57.50,117.65 L58.00,117.63 L58.50,117.61 L59.00,117.59 L59.50,117.58 L60.00,117.56 L60.50,117.54 L61.00,117.52 L61.50,117.51 L62.00,117.49 L62.50,117.47 L63.00,117.45 L63.50,117.43 L64.00,117.41 L64.50,117.39 L65.00,117.37 L65.50,117.35 L66.00,117.33 L66.50,117.31 L67.00,117.29 L67.50,117.27 L68.00,117.25 L68.50,117.23 L69.00,117.21 L69.50,117.19 L70.00,117.17 L70.50,117.15 L71.00,117.13 L71.50,117.11 L72.00,117.08 L72.50,117.06 L73.00,117.04 L73.50,117.02 L74.00,117.00 L74.50,116.97 L75.00,116.95 L75.50,116.93 L76.00,116.90 L76.50,116.88 L77.00,116.86 L77.50,116.83 L78.00,116.81 L78.50,116.79 L79.00,116.76 L79.50,116.74 L80.00,116.71 L80.50,116.69 L81.00,116.67 L81.50,116.64 L82.00,116.62 L82.50,116.59 L83.00,116.56 L83.50,116.54 L84.00,116.51 L84.50,116.49 L85.00,116.46 L85.50,116.44 L86.00,116.41 L86.50,116.38 L87.00,116.36 L87.50,116.33 L88.00,116.30 L88.50,116.28 L89.00,116.25 L89.50,116.22 L90.00,116.19 L90.50,116.17 L91.00,116.14 L91.50,116.11 L92.00,116.08 L92.50,116.05 L93.00,116.02 L93.50,116.00 L94.00,115.97 L94.50,115.94 L95.00,115.91 L95.50,115.88 L96.00,115.85 L96.50,115.82 L97.00,115.79 L97.50,115.76 L98.00,115.73 L98.50,115.70 L99.00,115.67 L99.50,115.64 L100.00,115.61 L100.50,115.58 L101.00,115.55 L101.50,115.51 L102.00,115.48 L102.50,115.45 L103.00,115.42 L103.50,115.39 L104.00,115.36 L104.50,115.32 L105.00,115.29 L105.50,115.26 L106.00,115.22 L106.50,115.19 L107.00,115.16 L107.50,115.13 L108.00,115.09 L108.50,115.06 L109.00,115.02 L109.50,114.99 L110.00,114.96 L110.50,114.92 L111.00,114.89 L111.50,114.85 L112.00,114.82 L112.50,114.78 L113.00,114.75 L113.50,114.71 L114.00,114.68 L114.50,114.64 L115.00,114.61 L115.50,114.57 L116.00,114.53 L116.50,114.50 L117.00,114.46 L117.50,114.43 L118.00,114.39 L118.50,114.35 L119.00,114.31 L119.50,114.28 L120.00,114.24 L120.50,114.20 L121.00,114.16 L121.50,114.13 L122.00,114.09 L122.50,114.05 L123.00,114.01 L123.50,113.97 L124.00,113.93 L124.50,113.90 L125.00,113.86 L125.50,113.82 L126.00,113.78 L126.50,113.74 L127.00,113.70 L127.50,113.66 L128.00,113.62 L128.50,113.58 L129.00,113.54 L129.50,113.50 L130.00,113.46 L130.50,113.42 L131.00,113.38 L131.50,113.33 L132.00,113.29 L132.50,113.25 L133.00,113.21 L133.50,113.17 L134.00,113.13 L134.50,113.08 L135.00,113.04 L135.50,113.00 L136.00,112.96 L136.50,112.91 L137.00,112.87 L137.50,112.83 L138.00,112.78 L138.50,112.74 L139.00,112.70 L139.50,112.53 L140.00,112.33 L140.50,112.13 L141.00,111.93 L141.50,111.73 L142.00,111.53 L142.50,111.33 L143.00,111.13 L143.50,111.11 L144.00,111.21 L144.50,111.37 L145.00,111.58 L145.50,111.84 L146.00,112.13 L146.50,112.44 L147.00,112.77 L147.50,113.10 L148.00,113.41 L148.50,113.71 L149.00,113.99 L149.50,114.22 L150.00,114.40 L150.50,114.53 L151.00,114.58 L151.50,114.57 L152.00,114.55 L152.50,114.54 L153.00,114.52 L153.50,114.51 L154.00,114.49 L154.50,114.48 L155.00,114.46 L155.50,114.45 L156.00,114.43 L156.50,114.42 L157.00,114.40 L157.50,114.39 L158.00,114.37 L158.50,114.36 L159.00,114.34 L159.50,114.33 L160.00,114.31 L160.50,114.30 L161.00,114.28 L161.50,114.27 L162.00,114.25 L162.50,114.24 L163.00,114.22 L163.50,114.20 L164.00,114.19 L164.50,114.17 L165.00,114.16 L165.50,114.14 L166.00,114.13 L166.50,114.11 L167.00,114.10 L167.50,114.08 L168.00,114.07 L168.50,114.05 L169.00,114.03 L169.50,114.02 L170.00,114.00 L170.50,113.99 L171.00,113.97 L171.50,113.96 L172.00,113.94 L172.50,113.92 L173.00,113.91 L173.50,113.89 L174.00,113.88 L174.50,113.86 L175.00,113.84 L175.50,113.83 L176.00,113.81 L176.50,113.80 L177.00,113.78 L177.50,113.76 L178.00,113.75 L178.50,113.73 L179.00,113.71 L179.50,113.70 L180.00,113.68 L180.50,113.66 L181.00,113.65 L181.50,113.63 L182.00,113.61 L182.50,113.59 L183.00,113.58 L183.50,113.56 L184.00,113.54 L184.50,113.52 L185.00,113.51 L185.50,113.49 L186.00,113.47 L186.50,113.45 L187.00,113.43 L187.50,113.41 L188.00,113.39 L188.50,113.37 L189.00,113.35 L189.50,113.33 L190.00,113.31 L190.50,113.29 L191.00,113.27 L191.50,113.25 L192.00,113.23 L192.50,113.20 L193.00,113.18 L193.50,113.15 L194.00,113.13 L194.50,113.10 L195.00,113.08 L195.50,113.06 L196.00,113.05 L196.50,113.03 L197.00,113.01 L197.50,113.00 L198.00,112.97 L198.50,112.95 L199.00,112.93 L199.50,112.90 L200.00,112.86 L200.50,112.83 L201.00,112.79 L201.50,112.74 L202.00,112.69 L202.50,112.63 L203.00,112.56 L203.50,112.49 L204.00,112.40 L204.50,112.29 L205.00,112.17 L205.50,112.03 L206.00,111.86 L206.50,111.65 L207.00,111.41 L207.50,111.13 L208.00,110.79 L208.50,110.39 L209.00,109.92 L209.50,109.39 L210.00,108.83 L210.50,108.27 L211.00,107.80 L211.50,107.51 L212.00,107.47 L212.50,108.00 L213.00,108.96 L213.50,109.96 L214.00,110.81 L214.50,111.47 L215.00,111.97 L215.50,112.34 L216.00,112.62 L216.50,112.83 L217.00,113.00 L217.50,113.13 L218.00,113.23 L218.50,113.32 L219.00,113.38 L219.50,113.44 L220.00,113.49 L220.50,113.53 L221.00,113.57 L221.50,113.60 L222.00,113.62 L222.50,113.65 L223.00,113.67 L223.50,113.69 L224.00,113.70 L224.50,113.72 L225.00,113.73 L225.50,113.74 L226.00,113.76 L226.50,113.77 L227.00,113.78 L227.50,113.78 L228.00,113.79 L228.50,113.80 L229.00,113.81 L229.50,113.82 L230.00,113.82 L230.50,113.83 L231.00,113.84 L231.50,113.84 L232.00,113.85 L232.50,113.85 L233.00,113.86 L233.50,113.86 L234.00,113.87 L234.50,113.87 L235.00,113.88 L235.50,113.88 L236.00,113.89 L236.50,113.89 L237.00,113.90 L237.50,113.90 L238.00,113.90 L238.50,113.91 L239.00,113.91 L239.50,113.92 L240.00,113.92 L240.50,113.92 L241.00,113.93 L241.50,113.93 L242.00,113.93 L242.50,113.94 L243.00,113.94 L243.50,113.94 L244.00,113.95 L244.50,113.95 L245.00,113.95 L245.50,113.96 L246.00,113.96 L246.50,113.96 L247.00,113.97 L247.50,113.97 L248.00,113.97 L248.50,113.98 L249.00,113.98 L249.50,113.98 L250.00,113.99 L250.50,113.99 L251.00,113.99 L251.50,114.00 L252.00,114.00 L252.50,114.00 L253.00,114.01 L253.50,114.01 L254.00,114.01 L254.50,114.01 L255.00,114.02 L255.50,114.02 L256.00,114.02 L256.50,114.03 L257.00,114.03 L257.50,114.03 L258.00,114.04 L258.50,114.04 L259.00,114.04 L259.50,114.04 L260.00,114.05 L260.50,114.05 L261.00,114.05 L261.50,114.06 L262.00,114.06 L262.50,114.06 L263.00,114.06 L263.50,114.07 L264.00,114.07 L264.50,114.07 L265.00,114.08 L265.50,114.08 L266.00,114.08 L266.50,114.08 L267.00,114.09 L267.50,114.09 L268.00,114.09 L268.50,114.10 L269.00,114.10 L269.50,114.10 L270.00,114.10 L270.50,114.11 L271.00,114.11 L271.50,114.11 L272.00,114.11 L272.50,114.12 L273.00,114.12 L273.50,114.12 L274.00,114.13 L274.50,114.13 L275.00,114.13 L275.50,114.13 L276.00,114.14 L276.50,114.14 L277.00,114.14 L277.50,114.15 L278.00,114.15 L278.50,114.15 L279.00,114.15 L279.50,114.16 L280.00,114.16 L280.50,114.16 L281.00,114.16 L281.50,114.17 L282.00,114.17 L282.50,114.17 L283.00,114.18 L283.50,114.18 L284.00,114.18 L284.50,114.18 L285.00,114.19 L285.50,114.19 L286.00,114.19 L286.50,114.19 L287.00,114.20 L287.50,114.20 L288.00,114.20 L288.50,114.21 L289.00,114.21 L289.50,114.21 L290.00,114.21 L290.50,114.22 L291.00,114.22 L291.50,114.22 L292.00,114.22 L292.50,114.23 L293.00,114.23 L293.50,114.23 L294.00,114.24 L294.50,114.24 L295.00,114.24 L295.50,114.24 L296.00,114.25 L296.50,114.25 L297.00,114.25 L297.50,114.25 L298.00,114.26 L298.50,114.26 L299.00,114.26 L299.50,114.27 L300.00,114.27 L300.50,114.27 L301.00,114.27 L301.50,114.28 L302.00,114.28 L302.50,114.28 L303.00,114.28 L303.50,114.29 L304.00,114.29 L304.50,114.29 L305.00,114.30 L305.50,114.30 L306.00,114.30 L306.50,114.30 L307.00,114.31 L307.50,114.31 L308.00,114.31 L308.50,114.31 L309.00,114.32 L309.50,114.32 L310.00,114.32 L310.50,114.33 L311.00,114.33 L311.50,114.33 L312.00,114.33 L312.50,114.34 L313.00,114.34 L313.50,114.34 L314.00,114.34 L314.50,114.35 L315.00,114.35 L315.50,114.35 L316.00,114.35 L316.50,114.36 L317.00,114.36 L317.50,114.36 L318.00,114.37 L318.50,114.37 L319.00,114.37 L319.50,114.37 L320.00,114.38 L320.50,114.38 L321.00,114.38 L321.50,114.38 L322.00,114.39 L322.50,114.39 L323.00,114.39 L323.50,114.40 L324.00,114.40" fill="none" stroke="#48ad70" stroke-width="1.15" stroke-linejoin="round"/>
<path d="M56.00,78.49 L56.50,78.48 L57.00,78.47 L57.50,78.46 L58.00,78.45 L58.50,78.44 L59.00,78.43 L59.50,78.41 L60.00,78.40 L60.50,78.39 L61.00,78.38 L61.50,78.37 L62.00,78.35 L62.50,78.34 L63.00,78.33 L63.50,78.32 L64.00,78.30 L64.50,78.29 L65.00,78.28 L65.50,78.26 L66.00,78.25 L66.50,78.24 L67.00,78.23 L67.50,78.21 L68.00,78.20 L68.50,78.19 L69.00,78.17 L69.50,78.16 L70.00,78.14 L70.50,78.13 L71.00,78.12 L71.50,78.10 L72.00,78.09 L72.50,78.07 L73.00,78.06 L73.50,78.04 L74.00,78.03 L74.50,78.02 L75.00,78.00 L75.50,77.99 L76.00,77.97 L76.50,77.96 L77.00,77.94 L77.50,77.93 L78.00,77.91 L78.50,77.89 L79.00,77.88 L79.50,77.86 L80.00,77.85 L80.50,77.83 L81.00,77.82 L81.50,77.80 L82.00,77.78 L82.50,77.77 L83.00,77.75 L83.50,77.73 L84.00,77.72 L84.50,77.70 L85.00,77.68 L85.50,77.67 L86.00,77.65 L86.50,77.63 L87.00,77.62 L87.50,77.60 L88.00,77.58 L88.50,77.56 L89.00,77.55 L89.50,77.53 L90.00,77.51 L90.50,77.49 L91.00,77.48 L91.50,77.46 L92.00,77.44 L92.50,77.42 L93.00,77.40 L93.50,77.38 L94.00,77.37 L94.50,77.35 L95.00,77.33 L95.50,77.31 L96.00,77.29 L96.50,77.27 L97.00,77.25 L97.50,77.23 L98.00,77.21 L98.50,77.20 L99.00,77.18 L99.50,77.16 L100.00,77.14 L100.50,77.12 L101.00,77.10 L101.50,77.08 L102.00,77.06 L102.50,77.04 L103.00,77.02 L103.50,77.00 L104.00,76.98 L104.50,76.96 L105.00,76.93 L105.50,76.91 L106.00,76.89 L106.50,76.87 L107.00,76.85 L107.50,76.83 L108.00,76.81 L108.50,76.79 L109.00,76.77 L109.50,76.74 L110.00,76.72 L110.50,76.70 L111.00,76.68 L111.50,76.66 L112.00,76.64 L112.50,76.61 L113.00,76.59 L113.50,76.57 L114.00,76.55 L114.50,76.52 L115.00,76.50 L115.50,76.48 L116.00,76.46 L116.50,76.43 L117.00,76.41 L117.50,76.39 L118.00,76.36 L118.50,76.34 L119.00,76.32 L119.50,76.29 L120.00,76.27 L120.50,76.25 L121.00,76.22 L121.50,76.20 L122.00,76.17 L122.50,76.15 L123.00,76.13 L123.50,76.10 L124.00,76.08 L124.50,76.05 L125.00,76.03 L125.50,76.00 L126.00,75.98 L126.50,75.95 L127.00,75.93 L127.50,75.90 L128.00,75.88 L128.50,75.85 L129.00,75.83 L129.50,75.80 L130.00,75.78 L130.50,75.75 L131.00,75.73 L131.50,75.70 L132.00,75.67 L132.50,75.65 L133.00,75.62 L133.50,75.60 L134.00,75.57 L134.50,75.54 L135.00,75.52 L135.50,75.49 L136.00,75.46 L136.50,75.44 L137.00,75.41 L137.50,75.38 L138.00,75.35 L138.50,75.33 L139.00,75.30 L139.50,75.27 L140.00,75.24 L140.50,75.22 L141.00,75.19 L141.50,75.16 L142.00,75.13 L142.50,75.11 L143.00,75.08 L143.50,75.05 L144.00,75.02 L144.50,74.99 L145.00,74.96 L145.50,74.93 L146.00,74.91 L146.50,74.88 L147.00,74.85 L147.50,74.82 L148.00,74.79 L148.50,74.76 L149.00,74.73 L149.50,74.70 L150.00,74.67 L150.50,74.47 L151.00,74.27 L151.50,74.07 L152.00,73.87 L152.50,73.67 L153.00,73.47 L153.50,73.27 L154.00,73.07 L154.50,73.11 L155.00,73.24 L155.50,73.45 L156.00,73.71 L156.50,74.02 L157.00,74.36 L157.50,74.73 L158.00,75.11 L158.50,75.50 L159.00,75.87 L159.50,76.21 L160.00,76.52 L160.50,76.78 L161.00,76.99 L161.50,77.11 L162.00,77.16 L162.50,77.15 L163.00,77.15 L163.50,77.14 L164.00,77.13 L164.50,77.13 L165.00,77.12 L165.50,77.11 L166.00,77.11 L166.50,77.10 L167.00,77.09 L167.50,77.09 L168.00,77.08 L168.50,77.07 L169.00,77.07 L169.50,77.06 L170.00,77.05 L170.50,77.04 L171.00,77.04 L171.50,77.03 L172.00,77.02 L172.50,77.02 L173.00,77.01 L173.50,77.00 L174.00,77.00 L174.50,76.99 L175.00,76.98 L175.50,76.97 L176.00,76.97 L176.50,76.96 L177.00,76.95 L177.50,76.94 L178.00,76.94 L178.50,76.93 L179.00,76.92 L179.50,76.91 L180.00,76.91 L180.50,76.90 L181.00,76.89 L181.50,76.88 L182.00,76.88 L182.50,76.87 L183.00,76.86 L183.50,76.85 L184.00,76.84 L184.50,76.83 L185.00,76.83 L185.50,76.82 L186.00,76.81 L186.50,76.80 L187.00,76.79 L187.50,76.78 L188.00,76.77 L188.50,76.77 L189.00,76.76 L189.50,76.75 L190.00,76.74 L190.50,76.73 L191.00,76.72 L191.50,76.71 L192.00,76.70 L192.50,76.69 L193.00,76.68 L193.50,76.67 L194.00,76.66 L194.50,76.65 L195.00,76.64 L195.50,76.63 L196.00,76.63 L196.50,76.62 L197.00,76.61 L197.50,76.61 L198.00,76.60 L198.50,76.59 L199.00,76.59 L199.50,76.58 L200.00,76.57 L200.50,76.56 L201.00,76.55 L201.50,76.54 L202.00,76.53 L202.50,76.52 L203.00,76.51 L203.50,76.50 L204.00,76.49 L204.50,76.47 L205.00,76.46 L205.50,76.44 L206.00,76.42 L206.50,76.41 L207.00,76.39 L207.50,76.37 L208.00,76.34 L208.50,76.32 L209.00,76.29 L209.50,76.26 L210.00,76.23 L210.50,76.20 L211.00,76.16 L211.50,76.12 L212.00,76.08 L212.50,76.03 L213.00,75.97 L213.50,75.91 L214.00,75.85 L214.50,75.77 L215.00,75.69 L215.50,75.60 L216.00,75.49 L216.50,75.38 L217.00,75.24 L217.50,75.09 L218.00,74.92 L218.50,74.72 L219.00,74.49 L219.50,74.22 L220.00,73.90 L220.50,73.53 L221.00,73.09 L221.50,72.57 L222.00,71.95 L222.50,71.21 L223.00,70.33 L223.50,69.30 L224.00,68.11 L224.50,66.77 L225.00,65.36 L225.50,64.00 L226.00,62.90 L226.50,62.30 L227.00,62.45 L227.50,64.09 L228.00,66.58 L228.50,69.05 L229.00,71.10 L229.50,72.67 L230.00,73.84 L230.50,74.72 L231.00,75.39 L231.50,75.89 L232.00,76.28 L232.50,76.59 L233.00,76.83 L233.50,77.03 L234.00,77.19 L234.50,77.32 L235.00,77.43 L235.50,77.53 L236.00,77.61 L236.50,77.67 L237.00,77.73 L237.50,77.78 L238.00,77.83 L238.50,77.87 L239.00,77.90 L239.50,77.93 L240.00,77.96 L240.50,77.98 L241.00,78.00 L241.50,78.02 L242.00,78.04 L242.50,78.06 L243.00,78.07 L243.50,78.08 L244.00,78.10 L244.50,78.11 L245.00,78.12 L245.50,78.13 L246.00,78.14 L246.50,78.14 L247.00,78.15 L247.50,78.16 L248.00,78.17 L248.50,78.17 L249.00,78.18 L249.50,78.18 L250.00,78.19 L250.50,78.19 L251.00,78.20 L251.50,78.20 L252.00,78.20 L252.50,78.21 L253.00,78.21 L253.50,78.21 L254.00,78.22 L254.50,78.22 L255.00,78.22 L255.50,78.23 L256.00,78.23 L256.50,78.23 L257.00,78.23 L257.50,78.24 L258.00,78.24 L258.50,78.24 L259.00,78.24 L259.50,78.24 L260.00,78.24 L260.50,78.25 L261.00,78.25 L261.50,78.25 L262.00,78.25 L262.50,78.25 L263.00,78.25 L263.50,78.25 L264.00,78.26 L264.50,78.26 L265.00,78.26 L265.50,78.26 L266.00,78.26 L266.50,78.26 L267.00,78.26 L267.50,78.26 L268.00,78.26 L268.50,78.26 L269.00,78.27 L269.50,78.27 L270.00,78.27 L270.50,78.27 L271.00,78.27 L271.50,78.27 L272.00,78.27 L272.50,78.27 L273.00,78.27 L273.50,78.27 L274.00,78.27 L274.50,78.27 L275.00,78.27 L275.50,78.27 L276.00,78.27 L276.50,78.28 L277.00,78.28 L277.50,78.28 L278.00,78.28 L278.50,78.28 L279.00,78.28 L279.50,78.28 L280.00,78.28 L280.50,78.28 L281.00,78.28 L281.50,78.28 L282.00,78.28 L282.50,78.28 L283.00,78.28 L283.50,78.28 L284.00,78.28 L284.50,78.28 L285.00,78.28 L285.50,78.28 L286.00,78.28 L286.50,78.28 L287.00,78.28 L287.50,78.28 L288.00,78.28 L288.50,78.28 L289.00,78.28 L289.50,78.28 L290.00,78.28 L290.50,78.28 L291.00,78.29 L291.50,78.29 L292.00,78.29 L292.50,78.29 L293.00,78.29 L293.50,78.29 L294.00,78.29 L294.50,78.29 L295.00,78.29 L295.50,78.29 L296.00,78.29 L296.50,78.29 L297.00,78.29 L297.50,78.29 L298.00,78.29 L298.50,78.29 L299.00,78.29 L299.50,78.29 L300.00,78.29 L300.50,78.29 L301.00,78.29 L301.50,78.29 L302.00,78.29 L302.50,78.29 L303.00,78.29 L303.50,78.29 L304.00,78.29 L304.50,78.29 L305.00,78.29 L305.50,78.29 L306.00,78.29 L306.50,78.29 L307.00,78.29 L307.50,78.29 L308.00,78.29 L308.50,78.29 L309.00,78.29 L309.50,78.29 L310.00,78.29 L310.50,78.29 L311.00,78.29 L311.50,78.29 L312.00,78.29 L312.50,78.29 L313.00,78.29 L313.50,78.29 L314.00,78.29 L314.50,78.29 L315.00,78.29 L315.50,78.29 L316.00,78.29 L316.50,78.29 L317.00,78.29 L317.50,78.29 L318.00,78.29 L318.50,78.29 L319.00,78.29 L319.50,78.29 L320.00,78.29 L320.50,78.29 L321.00,78.29 L321.50,78.29 L322.00,78.29 L322.50,78.29 L323.00,78.29 L323.50,78.29 L324.00,78.29" fill="none" stroke="#c2a032" stroke-width="1.15" stroke-linejoin="round"/>
<path d="M56.00,58.19 L56.50,58.18 L57.00,58.16 L57.50,58.15 L58.00,58.13 L58.50,58.12 L59.00,58.10 L59.50,58.09 L60.00,58.07 L60.50,58.06 L61.00,58.04 L61.50,58.02 L62.00,58.01 L62.50,57.99 L63.00,57.97 L63.50,57.96 L64.00,57.94 L64.50,57.92 L65.00,57.91 L65.50,57.89 L66.00,57.87 L66.50,57.86 L67.00,57.84 L67.50,57.82 L68.00,57.80 L68.50,57.78 L69.00,57.77 L69.50,57.75 L70.00,57.73 L70.50,57.71 L71.00,57.69 L71.50,57.67 L72.00,57.66 L72.50,57.64 L73.00,57.62 L73.50,57.60 L74.00,57.58 L74.50,57.56 L75.00,57.54 L75.50,57.52 L76.00,57.50 L76.50,57.48 L77.00,57.46 L77.50,57.44 L78.00,57.42 L78.50,57.40 L79.00,57.38 L79.50,57.36 L80.00,57.34 L80.50,57.32 L81.00,57.29 L81.50,57.27 L82.00,57.25 L82.50,57.23 L83.00,57.21 L83.50,57.19 L84.00,57.16 L84.50,57.14 L85.00,57.12 L85.50,57.10 L86.00,57.08 L86.50,57.05 L87.00,57.03 L87.50,57.01 L88.00,56.98 L88.50,56.96 L89.00,56.94 L89.50,56.91 L90.00,56.89 L90.50,56.87 L91.00,56.84 L91.50,56.82 L92.00,56.80 L92.50,56.77 L93.00,56.75 L93.50,56.72 L94.00,56.70 L94.50,56.67 L95.00,56.65 L95.50,56.62 L96.00,56.60 L96.50,56.57 L97.00,56.55 L97.50,56.52 L98.00,56.50 L98.50,56.47 L99.00,56.45 L99.50,56.42 L100.00,56.39 L100.50,56.37 L101.00,56.34 L101.50,56.31 L102.00,56.29 L102.50,56.26 L103.00,56.23 L103.50,56.21 L104.00,56.18 L104.50,56.15 L105.00,56.13 L105.50,56.10 L106.00,56.07 L106.50,56.04 L107.00,56.01 L107.50,55.99 L108.00,55.96 L108.50,55.93 L109.00,55.90 L109.50,55.87 L110.00,55.84 L110.50,55.82 L111.00,55.79 L111.50,55.76 L112.00,55.73 L112.50,55.70 L113.00,55.67 L113.50,55.64 L114.00,55.61 L114.50,55.58 L115.00,55.55 L115.50,55.52 L116.00,55.49 L116.50,55.46 L117.00,55.43 L117.50,55.40 L118.00,55.37 L118.50,55.34 L119.00,55.31 L119.50,55.27 L120.00,55.24 L120.50,55.21 L121.00,55.18 L121.50,55.15 L122.00,55.12 L122.50,55.08 L123.00,55.05 L123.50,55.02 L124.00,54.99 L124.50,54.96 L125.00,54.92 L125.50,54.89 L126.00,54.86 L126.50,54.82 L127.00,54.79 L127.50,54.76 L128.00,54.72 L128.50,54.69 L129.00,54.66 L129.50,54.62 L130.00,54.59 L130.50,54.56 L131.00,54.52 L131.50,54.49 L132.00,54.45 L132.50,54.42 L133.00,54.38 L133.50,54.35 L134.00,54.31 L134.50,54.28 L135.00,54.24 L135.50,54.21 L136.00,54.17 L136.50,54.14 L137.00,54.10 L137.50,54.06 L138.00,54.03 L138.50,53.99 L139.00,53.96 L139.50,53.92 L140.00,53.88 L140.50,53.85 L141.00,53.81 L141.50,53.77 L142.00,53.74 L142.50,53.70 L143.00,53.66 L143.50,53.62 L144.00,53.59 L144.50,53.55 L145.00,53.51 L145.50,53.47 L146.00,53.43 L146.50,53.39 L147.00,53.36 L147.50,53.32 L148.00,53.28 L148.50,53.24 L149.00,53.20 L149.50,53.13 L150.00,52.93 L150.50,52.73 L151.00,52.53 L151.50,52.33 L152.00,52.13 L152.50,51.93 L153.00,51.73 L153.50,51.57 L154.00,51.63 L154.50,51.76 L155.00,51.95 L155.50,52.20 L156.00,52.48 L156.50,52.80 L157.00,53.14 L157.50,53.48 L158.00,53.82 L158.50,54.15 L159.00,54.46 L159.50,54.73 L160.00,54.96 L160.50,55.13 L161.00,55.23 L161.50,55.26 L162.00,55.25 L162.50,55.24 L163.00,55.23 L163.50,55.22 L164.00,55.21 L164.50,55.20 L165.00,55.19 L165.50,55.18 L166.00,55.17 L166.50,55.16 L167.00,55.15 L167.50,55.14 L168.00,55.13 L168.50,55.12 L169.00,55.11 L169.50,55.10 L170.00,55.09 L170.50,55.08 L171.00,55.07 L171.50,55.06 L172.00,55.05 L172.50,55.04 L173.00,55.03 L173.50,55.02 L174.00,55.01 L174.50,55.00 L175.00,54.99 L175.50,54.98 L176.00,54.97 L176.50,54.96 L177.00,54.95 L177.50,54.94 L178.00,54.93 L178.50,54.92 L179.00,54.91 L179.50,54.90 L180.00,54.89 L180.50,54.87 L181.00,54.86 L181.50,54.85 L182.00,54.84 L182.50,54.83 L183.00,54.82 L183.50,54.81 L184.00,54.80 L184.50,54.79 L185.00,54.78 L185.50,54.76 L186.00,54.75 L186.50,54.74 L187.00,54.73 L187.50,54.72 L188.00,54.71 L188.50,54.69 L189.00,54.68 L189.50,54.67 L190.00,54.66 L190.50,54.64 L191.00,54.63 L191.50,54.62 L192.00,54.60 L192.50,54.59 L193.00,54.58 L193.50,54.56 L194.00,54.55 L194.50,54.54 L195.00,54.52 L195.50,54.52 L196.00,54.51 L196.50,54.50 L197.00,54.50 L197.50,54.49 L198.00,54.48 L198.50,54.48 L199.00,54.47 L199.50,54.46 L200.00,54.45 L200.50,54.44 L201.00,54.43 L201.50,54.42 L202.00,54.41 L202.50,54.40 L203.00,54.38 L203.50,54.37 L204.00,54.36 L204.50,54.34 L205.00,54.33 L205.50,54.31 L206.00,54.29 L206.50,54.27 L207.00,54.25 L207.50,54.23 L208.00,54.20 L208.50,54.17 L209.00,54.15 L209.50,54.11 L210.00,54.08 L210.50,54.04 L211.00,54.00 L211.50,53.96 L212.00,53.91 L212.50,53.86 L213.00,53.80 L213.50,53.73 L214.00,53.66 L214.50,53.58 L215.00,53.49 L215.50,53.39 L216.00,53.27 L216.50,53.15 L217.00,53.00 L217.50,52.83 L218.00,52.64 L218.50,52.42 L219.00,52.16 L219.50,51.86 L220.00,51.51 L220.50,51.10 L221.00,50.61 L221.50,50.03 L222.00,49.33 L222.50,48.49 L223.00,47.50 L223.50,46.32 L224.00,44.95 L224.50,43.41 L225.00,41.76 L225.50,40.15 L226.00,38.82 L226.50,38.00 L227.00,38.01 L227.50,39.64 L228.00,42.21 L228.50,44.78 L229.00,46.90 L229.50,48.53 L230.00,49.74 L230.50,50.65 L231.00,51.33 L231.50,51.85 L232.00,52.26 L232.50,52.58 L233.00,52.83 L233.50,53.04 L234.00,53.21 L234.50,53.35 L235.00,53.46 L235.50,53.56 L236.00,53.65 L236.50,53.72 L237.00,53.78 L237.50,53.84 L238.00,53.88 L238.50,53.93 L239.00,53.96 L239.50,54.00 L240.00,54.03 L240.50,54.05 L241.00,54.08 L241.50,54.10 L242.00,54.12 L242.50,54.13 L243.00,54.15 L243.50,54.16 L244.00,54.18 L244.50,54.19 L245.00,54.20 L245.50,54.21 L246.00,54.22 L246.50,54.23 L247.00,54.24 L247.50,54.25 L248.00,54.25 L248.50,54.26 L249.00,54.27 L249.50,54.27 L250.00,54.28 L250.50,54.28 L251.00,54.29 L251.50,54.29 L252.00,54.30 L252.50,54.30 L253.00,54.30 L253.50,54.31 L254.00,54.31 L254.50,54.31 L255.00,54.32 L255.50,54.32 L256.00,54.32 L256.50,54.32 L257.00,54.33 L257.50,54.33 L258.00,54.33 L258.50,54.33 L259.00,54.34 L259.50,54.34 L260.00,54.34 L260.50,54.34 L261.00,54.34 L261.50,54.34 L262.00,54.35 L262.50,54.35 L263.00,54.35 L263.50,54.35 L264.00,54.35 L264.50,54.35 L265.00,54.35 L265.50,54.36 L266.00,54.36 L266.50,54.36 L267.00,54.36 L267.50,54.36 L268.00,54.36 L268.50,54.36 L269.00,54.36 L269.50,54.36 L270.00,54.36 L270.50,54.37 L271.00,54.37 L271.50,54.37 L272.00,54.37 L272.50,54.37 L273.00,54.37 L273.50,54.37 L274.00,54.37 L274.50,54.37 L275.00,54.37 L275.50,54.37 L276.00,54.37 L276.50,54.37 L277.00,54.37 L277.50,54.37 L278.00,54.37 L278.50,54.38 L279.00,54.38 L279.50,54.38 L280.00,54.38 L280.50,54.38 L281.00,54.38 L281.50,54.38 L282.00,54.38 L282.50,54.38 L283.00,54.38 L283.50,54.38 L284.00,54.38 L284.50,54.38 L285.00,54.38 L285.50,54.38 L286.00,54.38 L286.50,54.38 L287.00,54.38 L287.50,54.38 L288.00,54.38 L288.50,54.38 L289.00,54.38 L289.50,54.38 L290.00,54.38 L290.50,54.38 L291.00,54.38 L291.50,54.38 L292.00,54.38 L292.50,54.38 L293.00,54.38 L293.50,54.38 L294.00,54.39 L294.50,54.39 L295.00,54.39 L295.50,54.39 L296.00,54.39 L296.50,54.39 L297.00,54.39 L297.50,54.39 L298.00,54.39 L298.50,54.39 L299.00,54.39 L299.50,54.39 L300.00,54.39 L300.50,54.39 L301.00,54.39 L301.50,54.39 L302.00,54.39 L302.50,54.39 L303.00,54.39 L303.50,54.39 L304.00,54.39 L304.50,54.39 L305.00,54.39 L305.50,54.39 L306.00,54.39 L306.50,54.39 L307.00,54.39 L307.50,54.39 L308.00,54.39 L308.50,54.39 L309.00,54.39 L309.50,54.39 L310.00,54.39 L310.50,54.39 L311.00,54.39 L311.50,54.39 L312.00,54.39 L312.50,54.39 L313.00,54.39 L313.50,54.39 L314.00,54.39 L314.50,54.39 L315.00,54.39 L315.50,54.39 L316.00,54.39 L316.50,54.39 L317.00,54.39 L317.50,54.39 L318.00,54.39 L318.50,54.39 L319.00,54.39 L319.50,54.39 L320.00,54.39 L320.50,54.39 L321.00,54.39 L321.50,54.39 L322.00,54.39 L322.50,54.39 L323.00,54.39 L323.50,54.39 L324.00,54.39" fill="none" stroke="#48d8cc" stroke-width="1.15" stroke-linejoin="round"/>
<path d="M56.00,34.09 L56.50,34.09 L57.00,34.08 L57.50,34.07 L58.00,34.06 L58.50,34.05 L59.00,34.04 L59.50,34.03 L60.00,34.02 L60.50,34.01 L61.00,34.00 L61.50,33.99 L62.00,33.98 L62.50,33.96 L63.00,33.95 L63.50,33.94 L64.00,33.93 L64.50,33.92 L65.00,33.91 L65.50,33.90 L66.00,33.89 L66.50,33.88 L67.00,33.87 L67.50,33.86 L68.00,33.84 L68.50,33.83 L69.00,33.82 L69.50,33.81 L70.00,33.80 L70.50,33.79 L71.00,33.77 L71.50,33.76 L72.00,33.75 L72.50,33.74 L73.00,33.73 L73.50,33.71 L74.00,33.70 L74.50,33.69 L75.00,33.68 L75.50,33.66 L76.00,33.65 L76.50,33.64 L77.00,33.62 L77.50,33.61 L78.00,33.60 L78.50,33.59 L79.00,33.57 L79.50,33.56 L80.00,33.55 L80.50,33.53 L81.00,33.52 L81.50,33.51 L82.00,33.49 L82.50,33.48 L83.00,33.46 L83.50,33.45 L84.00,33.44 L84.50,33.42 L85.00,33.41 L85.50,33.39 L86.00,33.38 L86.50,33.36 L87.00,33.35 L87.50,33.33 L88.00,33.32 L88.50,33.31 L89.00,33.29 L89.50,33.28 L90.00,33.26 L90.50,33.25 L91.00,33.23 L91.50,33.21 L92.00,33.20 L92.50,33.18 L93.00,33.17 L93.50,33.15 L94.00,33.14 L94.50,33.12 L95.00,33.11 L95.50,33.09 L96.00,33.07 L96.50,33.06 L97.00,33.04 L97.50,33.02 L98.00,33.01 L98.50,32.99 L99.00,32.98 L99.50,32.96 L100.00,32.94 L100.50,32.93 L101.00,32.91 L101.50,32.89 L102.00,32.87 L102.50,32.86 L103.00,32.84 L103.50,32.82 L104.00,32.81 L104.50,32.79 L105.00,32.77 L105.50,32.75 L106.00,32.73 L106.50,32.72 L107.00,32.70 L107.50,32.68 L108.00,32.66 L108.50,32.64 L109.00,32.63 L109.50,32.61 L110.00,32.59 L110.50,32.57 L111.00,32.55 L111.50,32.53 L112.00,32.52 L112.50,32.50 L113.00,32.48 L113.50,32.46 L114.00,32.44 L114.50,32.42 L115.00,32.40 L115.50,32.38 L116.00,32.36 L116.50,32.34 L117.00,32.32 L117.50,32.30 L118.00,32.28 L118.50,32.26 L119.00,32.24 L119.50,32.22 L120.00,32.20 L120.50,32.18 L121.00,32.16 L121.50,32.14 L122.00,32.12 L122.50,32.10 L123.00,32.08 L123.50,32.06 L124.00,32.04 L124.50,32.02 L125.00,32.00 L125.50,31.98 L126.00,31.96 L126.50,31.94 L127.00,31.91 L127.50,31.89 L128.00,31.87 L128.50,31.85 L129.00,31.83 L129.50,31.81 L130.00,31.79 L130.50,31.76 L131.00,31.74 L131.50,31.72 L132.00,31.70 L132.50,31.68 L133.00,31.65 L133.50,31.63 L134.00,31.61 L134.50,31.59 L135.00,31.56 L135.50,31.54 L136.00,31.52 L136.50,31.49 L137.00,31.47 L137.50,31.45 L138.00,31.43 L138.50,31.40 L139.00,31.38 L139.50,31.36 L140.00,31.33 L140.50,31.31 L141.00,31.29 L141.50,31.26 L142.00,31.24 L142.50,31.21 L143.00,31.19 L143.50,31.17 L144.00,31.14 L144.50,31.12 L145.00,31.09 L145.50,31.07 L146.00,31.04 L146.50,31.02 L147.00,30.99 L147.50,30.97 L148.00,30.94 L148.50,30.92 L149.00,30.89 L149.50,30.83 L150.00,30.63 L150.50,30.43 L151.00,30.23 L151.50,30.03 L152.00,29.83 L152.50,29.63 L153.00,29.43 L153.50,29.27 L154.00,29.32 L154.50,29.43 L155.00,29.58 L155.50,29.78 L156.00,30.01 L156.50,30.27 L157.00,30.54 L157.50,30.82 L158.00,31.10 L158.50,31.37 L159.00,31.62 L159.50,31.84 L160.00,32.02 L160.50,32.16 L161.00,32.24 L161.50,32.27 L162.00,32.27 L162.50,32.27 L163.00,32.28 L163.50,32.28 L164.00,32.28 L164.50,32.29 L165.00,32.29 L165.50,32.30 L166.00,32.30 L166.50,32.30 L167.00,32.31 L167.50,32.31 L168.00,32.32 L168.50,32.32 L169.00,32.32 L169.50,32.33 L170.00,32.33 L170.50,32.33 L171.00,32.34 L171.50,32.34 L172.00,32.34 L172.50,32.35 L173.00,32.35 L173.50,32.35 L174.00,32.36 L174.50,32.36 L175.00,32.37 L175.50,32.37 L176.00,32.37 L176.50,32.38 L177.00,32.38 L177.50,32.38 L178.00,32.38 L178.50,32.39 L179.00,32.39 L179.50,32.39 L180.00,32.40 L180.50,32.40 L181.00,32.40 L181.50,32.41 L182.00,32.41 L182.50,32.41 L183.00,32.41 L183.50,32.42 L184.00,32.42 L184.50,32.42 L185.00,32.42 L185.50,32.43 L186.00,32.43 L186.50,32.43 L187.00,32.43 L187.50,32.44 L188.00,32.44 L188.50,32.44 L189.00,32.44 L189.50,32.44 L190.00,32.44 L190.50,32.45 L191.00,32.45 L191.50,32.45 L192.00,32.45 L192.50,32.45 L193.00,32.45 L193.50,32.45 L194.00,32.45 L194.50,32.45 L195.00,32.45 L195.50,32.45 L196.00,32.44 L196.50,32.44 L197.00,32.43 L197.50,32.42 L198.00,32.42 L198.50,32.41 L199.00,32.41 L199.50,32.40 L200.00,32.39 L200.50,32.38 L201.00,32.37 L201.50,32.37 L202.00,32.36 L202.50,32.35 L203.00,32.34 L203.50,32.32 L204.00,32.31 L204.50,32.30 L205.00,32.29 L205.50,32.27 L206.00,32.25 L206.50,32.24 L207.00,32.22 L207.50,32.20 L208.00,32.18 L208.50,32.16 L209.00,32.13 L209.50,32.10 L210.00,32.08 L210.50,32.04 L211.00,32.01 L211.50,31.97 L212.00,31.93 L212.50,31.88 L213.00,31.83 L213.50,31.78 L214.00,31.71 L214.50,31.64 L215.00,31.57 L215.50,31.48 L216.00,31.38 L216.50,31.27 L217.00,31.14 L217.50,31.00 L218.00,30.83 L218.50,30.64 L219.00,30.42 L219.50,30.16 L220.00,29.85 L220.50,29.49 L221.00,29.07 L221.50,28.56 L222.00,27.96 L222.50,27.24 L223.00,26.38 L223.50,25.38 L224.00,24.24 L224.50,22.98 L225.00,21.68 L225.50,20.50 L226.00,19.64 L226.50,19.30 L227.00,19.90 L227.50,21.77 L228.00,24.06 L228.50,26.13 L229.00,27.78 L229.50,29.03 L230.00,29.96 L230.50,30.66 L231.00,31.19 L231.50,31.59 L232.00,31.91 L232.50,32.16 L233.00,32.36 L233.50,32.52 L234.00,32.65 L234.50,32.76 L235.00,32.86 L235.50,32.93 L236.00,33.00 L236.50,33.06 L237.00,33.11 L237.50,33.15 L238.00,33.19 L238.50,33.22 L239.00,33.25 L239.50,33.28 L240.00,33.30 L240.50,33.32 L241.00,33.34 L241.50,33.36 L242.00,33.37 L242.50,33.39 L243.00,33.40 L243.50,33.41 L244.00,33.42 L244.50,33.43 L245.00,33.44 L245.50,33.45 L246.00,33.45 L246.50,33.46 L247.00,33.47 L247.50,33.47 L248.00,33.48 L248.50,33.49 L249.00,33.49 L249.50,33.50 L250.00,33.50 L250.50,33.50 L251.00,33.51 L251.50,33.51 L252.00,33.51 L252.50,33.52 L253.00,33.52 L253.50,33.52 L254.00,33.53 L254.50,33.53 L255.00,33.53 L255.50,33.53 L256.00,33.54 L256.50,33.54 L257.00,33.54 L257.50,33.54 L258.00,33.54 L258.50,33.55 L259.00,33.55 L259.50,33.55 L260.00,33.55 L260.50,33.55 L261.00,33.55 L261.50,33.55 L262.00,33.56 L262.50,33.56 L263.00,33.56 L263.50,33.56 L264.00,33.56 L264.50,33.56 L265.00,33.56 L265.50,33.56 L266.00,33.56 L266.50,33.57 L267.00,33.57 L267.50,33.57 L268.00,33.57 L268.50,33.57 L269.00,33.57 L269.50,33.57 L270.00,33.57 L270.50,33.57 L271.00,33.57 L271.50,33.57 L272.00,33.57 L272.50,33.57 L273.00,33.57 L273.50,33.57 L274.00,33.58 L274.50,33.58 L275.00,33.58 L275.50,33.58 L276.00,33.58 L276.50,33.58 L277.00,33.58 L277.50,33.58 L278.00,33.58 L278.50,33.58 L279.00,33.58 L279.50,33.58 L280.00,33.58 L280.50,33.58 L281.00,33.58 L281.50,33.58 L282.00,33.58 L282.50,33.58 L283.00,33.58 L283.50,33.58 L284.00,33.58 L284.50,33.58 L285.00,33.58 L285.50,33.58 L286.00,33.58 L286.50,33.58 L287.00,33.58 L287.50,33.59 L288.00,33.59 L288.50,33.59 L289.00,33.59 L289.50,33.59 L290.00,33.59 L290.50,33.59 L291.00,33.59 L291.50,33.59 L292.00,33.59 L292.50,33.59 L293.00,33.59 L293.50,33.59 L294.00,33.59 L294.50,33.59 L295.00,33.59 L295.50,33.59 L296.00,33.59 L296.50,33.59 L297.00,33.59 L297.50,33.59 L298.00,33.59 L298.50,33.59 L299.00,33.59 L299.50,33.59 L300.00,33.59 L300.50,33.59 L301.00,33.59 L301.50,33.59 L302.00,33.59 L302.50,33.59 L303.00,33.59 L303.50,33.59 L304.00,33.59 L304.50,33.59 L305.00,33.59 L305.50,33.59 L306.00,33.59 L306.50,33.59 L307.00,33.59 L307.50,33.59 L308.00,33.59 L308.50,33.59 L309.00,33.59 L309.50,33.59 L310.00,33.59 L310.50,33.59 L311.00,33.59 L311.50,33.59 L312.00,33.59 L312.50,33.59 L313.00,33.59 L313.50,33.59 L314.00,33.59 L314.50,33.59 L315.00,33.59 L315.50,33.59 L316.00,33.59 L316.50,33.59 L317.00,33.59 L317.50,33.59 L318.00,33.59 L318.50,33.59 L319.00,33.59 L319.50,33.59 L320.00,33.59 L320.50,33.59 L321.00,33.59 L321.50,33.59 L322.00,33.59 L322.50,33.59 L323.00,33.59 L323.50,33.59 L324.00,33.59" fill="none" stroke="#8a6070" stroke-width="1.15" stroke-linejoin="round"/>
<rect x="269.2" y="16.2" width="59.400000000000034" height="67.89999999999999" fill="#000"/>
<rect x="266.2" y="13.4" width="59.400000000000034" height="67.89999999999999" fill="#fff" stroke="#333" stroke-width="0.9"/>
<line x1="266.80" y1="18.10" x2="282.80" y2="18.10" stroke="#444444" stroke-width="1.1"/>
<text x="284.40" y="20.70" font-size="7.0" font-weight="normal" text-anchor="start" fill="#333" letter-spacing="0.05">P(VDF-TrFE)</text>
<line x1="266.80" y1="26.54" x2="282.80" y2="26.54" stroke="#e04848" stroke-width="1.1"/>
<text x="284.40" y="29.14" font-size="7.0" font-weight="normal" text-anchor="start" fill="#333" letter-spacing="0.05">CFO5</text>
<line x1="266.80" y1="34.98" x2="282.80" y2="34.98" stroke="#4a7fd0" stroke-width="1.1"/>
<text x="284.40" y="37.58" font-size="7.0" font-weight="normal" text-anchor="start" fill="#333" letter-spacing="0.05">CFO10</text>
<line x1="266.80" y1="43.42" x2="282.80" y2="43.42" stroke="#a070e0" stroke-width="1.1"/>
<text x="284.40" y="46.02" font-size="7.0" font-weight="normal" text-anchor="start" fill="#333" letter-spacing="0.05">CFO20</text>
<line x1="266.80" y1="51.86" x2="282.80" y2="51.86" stroke="#48ad70" stroke-width="1.1"/>
<text x="284.40" y="54.46" font-size="7.0" font-weight="normal" text-anchor="start" fill="#333" letter-spacing="0.05">CFO20NP</text>
<line x1="266.80" y1="60.30" x2="282.80" y2="60.30" stroke="#c2a032" stroke-width="1.1"/>
<text x="284.40" y="62.90" font-size="7.0" font-weight="normal" text-anchor="start" fill="#333" letter-spacing="0.05">FO20</text>
<line x1="266.80" y1="68.74" x2="282.80" y2="68.74" stroke="#48d8cc" stroke-width="1.1"/>
<text x="284.40" y="71.34" font-size="7.0" font-weight="normal" text-anchor="start" fill="#333" letter-spacing="0.05">NdFeB20</text>
<line x1="266.80" y1="77.18" x2="282.80" y2="77.18" stroke="#8a6070" stroke-width="1.1"/>
<text x="284.40" y="79.78" font-size="7.0" font-weight="normal" text-anchor="start" fill="#333" letter-spacing="0.05">NZFO20</text>
<line x1="393.80" y1="7.20" x2="681.50" y2="7.20" stroke="#222" stroke-width="1.2"/>
<line x1="681.50" y1="7.20" x2="681.50" y2="215.20" stroke="#222" stroke-width="1.2"/>
<line x1="393.80" y1="7.20" x2="393.80" y2="213.40" stroke="#222" stroke-width="1.1"/>
<line x1="393.30" y1="213.40" x2="681.50" y2="213.40" stroke="#222" stroke-width="1.2"/>
<line x1="389.60" y1="197.30" x2="393.80" y2="197.30" stroke="#222" stroke-width="1.1"/>
<line x1="389.60" y1="165.50" x2="393.80" y2="165.50" stroke="#222" stroke-width="1.1"/>
<line x1="389.60" y1="133.70" x2="393.80" y2="133.70" stroke="#222" stroke-width="1.1"/>
<line x1="389.60" y1="101.90" x2="393.80" y2="101.90" stroke="#222" stroke-width="1.1"/>
<line x1="389.60" y1="70.10" x2="393.80" y2="70.10" stroke="#222" stroke-width="1.1"/>
<line x1="389.60" y1="38.30" x2="393.80" y2="38.30" stroke="#222" stroke-width="1.1"/>
<line x1="389.60" y1="6.50" x2="393.80" y2="6.50" stroke="#222" stroke-width="1.1"/>
<line x1="391.80" y1="213.20" x2="393.80" y2="213.20" stroke="#222" stroke-width="1.1"/>
<line x1="391.80" y1="181.40" x2="393.80" y2="181.40" stroke="#222" stroke-width="1.1"/>
<line x1="391.80" y1="149.60" x2="393.80" y2="149.60" stroke="#222" stroke-width="1.1"/>
<line x1="391.80" y1="117.80" x2="393.80" y2="117.80" stroke="#222" stroke-width="1.1"/>
<line x1="391.80" y1="86.00" x2="393.80" y2="86.00" stroke="#222" stroke-width="1.1"/>
<line x1="391.80" y1="54.20" x2="393.80" y2="54.20" stroke="#222" stroke-width="1.1"/>
<line x1="391.80" y1="22.40" x2="393.80" y2="22.40" stroke="#222" stroke-width="1.1"/>
<line x1="416.50" y1="213.40" x2="416.50" y2="217.60" stroke="#222" stroke-width="1.1"/>
<line x1="464.70" y1="213.40" x2="464.70" y2="217.60" stroke="#222" stroke-width="1.1"/>
<line x1="512.90" y1="213.40" x2="512.90" y2="217.60" stroke="#222" stroke-width="1.1"/>
<line x1="561.10" y1="213.40" x2="561.10" y2="217.60" stroke="#222" stroke-width="1.1"/>
<line x1="609.30" y1="213.40" x2="609.30" y2="217.60" stroke="#222" stroke-width="1.1"/>
<line x1="657.50" y1="213.40" x2="657.50" y2="217.60" stroke="#222" stroke-width="1.1"/>
<line x1="392.40" y1="213.40" x2="392.40" y2="215.40" stroke="#222" stroke-width="1.1"/>
<line x1="440.60" y1="213.40" x2="440.60" y2="215.40" stroke="#222" stroke-width="1.1"/>
<line x1="488.80" y1="213.40" x2="488.80" y2="215.40" stroke="#222" stroke-width="1.1"/>
<line x1="537.00" y1="213.40" x2="537.00" y2="215.40" stroke="#222" stroke-width="1.1"/>
<line x1="585.20" y1="213.40" x2="585.20" y2="215.40" stroke="#222" stroke-width="1.1"/>
<line x1="633.40" y1="213.40" x2="633.40" y2="215.40" stroke="#222" stroke-width="1.1"/>
<line x1="681.60" y1="213.40" x2="681.60" y2="215.40" stroke="#222" stroke-width="1.1"/>
<text x="386.75" y="200.80" font-size="10.2" font-weight="bold" text-anchor="end" fill="#111" letter-spacing="0.35">0</text>
<text x="386.75" y="169.00" font-size="10.2" font-weight="bold" text-anchor="end" fill="#111" letter-spacing="0.35">2</text>
<text x="386.75" y="137.20" font-size="10.2" font-weight="bold" text-anchor="end" fill="#111" letter-spacing="0.35">4</text>
<text x="386.75" y="105.40" font-size="10.2" font-weight="bold" text-anchor="end" fill="#111" letter-spacing="0.35">6</text>
<text x="386.75" y="73.60" font-size="10.2" font-weight="bold" text-anchor="end" fill="#111" letter-spacing="0.35">8</text>
<text x="386.75" y="41.80" font-size="10.2" font-weight="bold" text-anchor="end" fill="#111" letter-spacing="0.35">10</text>
<text x="386.75" y="10.00" font-size="10.2" font-weight="bold" text-anchor="end" fill="#111" letter-spacing="0.35">12</text>
<text x="416.68" y="228.90" font-size="10.2" font-weight="bold" text-anchor="middle" fill="#111" letter-spacing="0.35">0.0</text>
<text x="464.88" y="228.90" font-size="10.2" font-weight="bold" text-anchor="middle" fill="#111" letter-spacing="0.35">0.2</text>
<text x="513.07" y="228.90" font-size="10.2" font-weight="bold" text-anchor="middle" fill="#111" letter-spacing="0.35">0.4</text>
<text x="561.27" y="228.90" font-size="10.2" font-weight="bold" text-anchor="middle" fill="#111" letter-spacing="0.35">0.6</text>
<text x="609.47" y="228.90" font-size="10.2" font-weight="bold" text-anchor="middle" fill="#111" letter-spacing="0.35">0.8</text>
<text x="657.67" y="228.90" font-size="10.2" font-weight="bold" text-anchor="middle" fill="#111" letter-spacing="0.35">1.0</text>
<text x="497.89" y="251.00" font-size="16.9" font-weight="bold" fill="#111" letter-spacing="0.592" >Strain (%)</text>
<text transform="translate(369.60,163.51) rotate(-90)" font-size="17.0" font-weight="bold" fill="#111" letter-spacing="0.276" >Stress (MPa)</text>
<text x="399.64" y="31.90" font-size="22.5" font-weight="bold" fill="#000" letter-spacing="0.000" >b</text>
<text x="414.91" y="32.00" font-size="18" font-weight="normal" fill="#000" letter-spacing="0.000" >)</text>
<path d="M416.5,194.0 L417.0,193.5 L417.5,193.1 L418.0,192.9 L418.5,192.8 L419.0,192.4 L419.5,191.9 L420.0,191.3 L420.5,190.9 L421.0,191.0 L421.5,191.2 L422.0,190.6 L422.5,190.0 L423.0,189.4 L423.5,189.5 L424.0,189.8 L424.5,189.6 L425.0,189.2 L425.5,188.8 L426.0,188.4 L426.5,188.1 L427.0,188.0 L427.5,187.8 L428.0,187.4 L428.5,186.7 L429.0,186.0 L429.5,185.4 L430.0,185.0 L430.5,185.3 L431.0,185.6 L431.5,185.4 L432.0,184.8 L432.5,184.1 L433.0,183.5 L433.5,183.4 L434.0,183.5 L434.5,183.4 L435.0,183.0 L435.5,182.6 L436.0,182.2 L436.5,181.8 L437.0,181.6 L437.5,181.5 L438.0,181.4 L438.5,181.0 L439.0,180.3 L439.5,179.6 L440.0,179.4 L440.5,179.8 L441.0,180.0 L441.5,179.6 L442.0,179.2 L442.5,178.8 L443.0,178.7 L443.5,178.6 L444.0,178.3 L444.5,177.9 L445.0,177.6 L445.5,177.2 L446.0,176.8 L446.5,176.5 L447.0,176.3 L447.5,176.1 L448.1,175.9 L448.6,175.6 L449.1,175.2 L449.6,174.8 L450.1,174.4 L450.6,174.0 L451.1,173.8 L451.6,173.7 L452.1,173.6 L452.6,173.5 L453.1,173.1 L453.6,172.8 L454.1,172.5 L454.6,172.4 L455.1,172.3 L455.6,171.8 L456.1,171.3 L456.6,170.9 L457.1,170.4 L457.6,170.0 L458.1,169.9 L458.6,169.9 L459.1,169.9 L459.6,169.6 L460.1,169.2 L460.6,168.7 L461.1,168.2 L461.6,167.7 L462.1,167.7 L462.6,167.7 L463.1,167.7 L463.6,167.4 L464.1,166.9 L464.6,166.4 L465.1,165.8 L465.6,165.3 L466.1,165.0 L466.6,165.1 L467.1,165.2 L467.6,165.3 L468.1,165.0 L468.6,164.5 L469.1,164.0 L469.6,163.5 L470.1,163.0 L470.6,163.0 L471.1,163.0 L471.6,162.9 L472.1,162.6 L472.6,162.3 L473.1,161.9 L473.6,161.6 L474.1,161.2 L474.6,161.0 L475.1,160.9 L475.6,160.7 L476.1,160.5 L476.6,160.0 L477.1,159.6 L477.6,159.2 L478.1,159.2 L478.6,159.2 L479.1,158.9 L479.6,158.4 L480.1,157.9 L480.6,157.6 L481.1,157.8 L481.6,158.0 L482.1,157.5 L482.6,156.9 L483.1,156.3 L483.6,155.8 L484.1,155.2 L484.6,155.3 L485.1,155.4 L485.6,155.5 L486.1,155.4 L486.6,155.0 L487.1,154.6 L487.6,154.3 L488.1,153.9 L488.6,153.5 L489.1,153.4 L489.6,153.3 L490.1,153.2 L490.6,153.0 L491.1,152.5 L491.6,152.1 L492.1,151.6 L492.6,151.2 L493.1,151.0 L493.6,151.0 L494.1,151.1 L494.6,151.0 L495.1,150.5 L495.6,149.9 L496.1,149.4 L496.6,148.8 L497.1,148.3 L497.6,148.3 L498.1,148.5 L498.6,148.7 L499.1,148.8 L499.6,148.5 L500.1,148.2 L500.6,147.9 L501.1,147.6 L501.6,147.3 L502.1,147.1 L502.6,146.9 L503.1,146.7 L503.6,146.2 L504.1,145.6 L504.6,145.1 L505.1,144.5 L505.6,143.9 L506.1,144.0 L506.6,144.2 L507.1,144.4 L507.6,144.3 L508.1,143.9 L508.6,143.5 L509.1,143.1 L509.6,143.0 L510.2,143.0 L510.7,142.9 L511.2,142.5 L511.7,142.0 L512.2,141.5 L512.7,141.8 L513.2,142.0 L513.7,141.6 L514.2,141.3 L514.7,140.9 L515.2,140.7 L515.7,140.5 L516.2,140.2 L516.7,139.9 L517.2,139.5 L517.7,139.2 L518.2,139.2 L518.7,139.2 L519.2,139.0 L519.7,138.7 L520.2,138.4 L520.7,138.1 L521.2,137.8 L521.7,137.5 L522.2,137.4 L522.7,137.2 L523.2,137.0 L523.7,136.7 L524.2,136.1 L524.7,135.6 L525.2,135.0 L525.7,134.4 L526.2,134.5 L526.7,134.7 L527.2,134.9 L527.7,134.7 L528.2,134.4 L528.7,134.1 L529.2,133.8 L529.7,133.5 L530.2,133.3 L530.7,133.2 L531.2,133.1 L531.7,133.1 L532.2,132.7 L532.7,132.1 L533.2,131.5 L533.7,130.9 L534.2,130.6 L534.7,130.9 L535.2,131.1 L535.7,131.0 L536.2,130.7 L536.7,130.5 L537.2,130.2 L537.7,130.3 L538.2,130.3 L538.7,129.8 L539.2,129.3 L539.7,128.8 L540.2,128.5 L540.7,128.6 L541.2,128.7 L541.7,128.5 L542.2,128.3 L542.7,128.0 L543.2,127.8 L543.7,127.6 L544.2,127.5 L544.7,127.2 L545.2,126.7 L545.7,126.2 L546.2,125.8 L546.7,125.5 L547.2,125.6 L547.7,125.6 L548.2,125.4 L548.7,125.1 L549.2,124.7 L549.7,124.4 L550.2,124.0 L550.7,123.9 L551.2,123.9 L551.7,124.0 L552.2,124.0 L552.7,123.7 L553.2,123.5 L553.7,123.2 L554.2,123.0 L554.7,122.8 L555.2,122.6 L555.7,122.4 L556.2,122.2 L556.7,121.8 L557.2,121.3 L557.7,120.9 L558.2,120.4 L558.7,120.0 L559.2,119.8 L559.7,120.0 L560.2,120.2 L560.7,120.3 L561.2,120.0 L561.7,119.7 L562.2,119.3 L562.7,119.0 L563.2,119.0 L563.7,119.1 L564.2,119.2 L564.7,119.0 L565.2,118.7 L565.7,118.4 L566.2,118.1 L566.7,117.8 L567.2,117.8 L567.7,117.7 L568.2,117.6 L568.7,117.3 L569.2,117.0 L569.7,116.6 L570.2,116.3 L570.7,116.3 L571.2,116.3 L571.7,116.1 L572.3,115.8 L572.8,115.6 L573.3,115.5 L573.8,115.4 L574.3,115.1 L574.8,114.7 L575.3,114.2 L575.8,113.9 L576.3,114.2 L576.8,114.4 L577.3,114.0 L577.8,113.5 L578.3,113.1 L578.8,112.7 L579.3,112.3 L579.8,112.1 L580.3,112.2 L580.8,112.4 L581.3,112.5 L581.8,112.3 L582.3,111.9 L582.8,111.5 L583.3,111.1 L583.8,111.1 L584.3,111.3 L584.8,111.1 L585.3,110.4 L585.8,109.8 L586.3,109.2 L586.8,109.6 L587.3,109.9 L587.8,109.7 L588.3,109.4 L588.8,109.1 L589.3,108.8 L589.8,108.7 L590.3,108.9 L590.8,109.0 L591.3,108.9 L591.8,108.5 L592.3,108.0 L592.8,107.7 L593.3,107.9 L593.8,108.1 L594.3,107.8 L594.8,107.6 L595.3,107.3 L595.8,107.0 L596.3,106.8 L596.8,106.7 L597.3,106.7 L597.8,106.7 L598.3,106.7 L598.8,106.3 L599.3,106.0 L599.8,105.6 L600.3,105.2 L600.8,104.9 L601.3,104.5 L601.8,104.6 L602.3,104.8 L602.8,104.9 L603.3,104.9 L603.8,104.7 L604.3,104.5 L604.8,104.2 L605.3,104.0 L605.8,103.8 L606.3,103.7 L606.8,103.6 L607.3,103.4 L607.8,103.0 L608.3,102.6 L608.8,102.2 L609.3,101.8 L609.8,101.4 L610.3,101.3 L610.8,101.5 L611.3,101.7 L611.8,101.8 L612.3,101.8 L612.8,101.4 L613.3,101.1 L613.8,100.8 L614.3,100.9 L614.8,101.1 L615.3,101.1 L615.8,100.8 L616.3,100.4 L616.8,100.1 L617.3,99.7 L617.8,99.3 L618.3,99.4 L618.8,99.5 L619.3,99.6 L619.8,99.5 L620.3,99.3 L620.8,99.1 L621.3,98.8 L621.8,98.7 L622.3,98.7 L622.8,98.7 L623.3,98.4 L623.8,98.0 L624.3,97.7 L624.8,97.3 L625.3,97.0 L625.8,96.6 L626.3,96.7 L626.8,96.9 L627.3,97.1 L627.8,97.3 L628.3,97.0 L628.8,96.7 L629.3,96.3 L629.8,96.0 L630.3,95.6 L630.8,95.6 L631.3,95.8 L631.8,96.1 L632.3,96.3 L632.8,96.1 L633.3,95.8 L633.8,95.5 L634.4,95.2 L634.9,95.0 L635.4,95.2 L635.9,95.4 L636.4,95.4 L636.9,95.0 L637.4,94.7 L637.9,94.4 L638.4,94.6 L638.9,94.7 L639.4,94.3 L639.9,93.8 L640.4,93.3 L640.9,92.9 L641.4,92.4 L641.9,92.8 L642.4,93.2 L642.9,93.5 L643.4,93.4 L643.9,93.0 L644.4,92.6 L644.9,92.2 L645.4,91.8 L645.9,91.4 L646.4,91.5 L646.9,91.8 L647.4,92.0 L647.9,92.3 L648.4,92.1 L648.9,92.0 L649.4,91.8 L649.9,91.6 L650.4,91.7 L650.9,91.8 L651.4,91.9 L651.9,91.6 L652.4,91.3 L652.9,91.1 L653.4,91.0 L653.9,91.0 L654.4,91.0 L654.9,90.7 L655.4,90.4 L655.9,90.0 L656.4,89.7 L656.9,89.3 L657.4,89.3 L657.9,89.6 L658.4,89.9 L658.9,90.1 L659.4,90.0 L659.9,89.6 L660.4,89.2 L660.4,96.5 L659.9,96.8 L659.4,97.0 L658.9,97.1 L658.4,97.1 L657.9,97.2 L657.4,97.2 L656.9,97.2 L656.4,97.2 L655.9,97.3 L655.4,97.4 L654.9,97.5 L654.4,97.7 L653.9,97.7 L653.4,97.8 L652.9,97.9 L652.4,98.0 L651.9,98.1 L651.4,98.4 L650.9,98.7 L650.4,99.0 L649.9,99.1 L649.4,99.1 L648.9,99.0 L648.4,99.0 L647.9,99.0 L647.4,98.9 L646.9,99.1 L646.4,99.3 L645.9,99.4 L645.4,99.6 L644.9,99.8 L644.4,99.9 L643.9,99.9 L643.4,100.0 L642.9,100.1 L642.4,100.1 L641.9,100.2 L641.4,100.3 L640.9,100.5 L640.4,100.7 L639.9,101.0 L639.4,101.1 L638.9,101.2 L638.4,101.2 L637.9,101.3 L637.4,101.5 L636.9,101.8 L636.4,102.0 L635.9,102.2 L635.4,102.4 L634.9,102.6 L634.4,102.6 L633.8,102.7 L633.3,102.7 L632.8,102.7 L632.3,102.8 L631.8,102.8 L631.3,102.9 L630.8,102.9 L630.3,103.2 L629.8,103.4 L629.3,103.7 L628.8,103.9 L628.3,104.1 L627.8,104.1 L627.3,104.2 L626.8,104.3 L626.3,104.3 L625.8,104.4 L625.3,104.5 L624.8,104.6 L624.3,104.8 L623.8,105.0 L623.3,105.1 L622.8,105.3 L622.3,105.4 L621.8,105.5 L621.3,105.7 L620.8,105.8 L620.3,105.9 L619.8,106.1 L619.3,106.3 L618.8,106.4 L618.3,106.6 L617.8,106.7 L617.3,106.8 L616.8,107.0 L616.3,107.1 L615.8,107.2 L615.3,107.4 L614.8,107.5 L614.3,107.7 L613.8,107.9 L613.3,108.1 L612.8,108.3 L612.3,108.4 L611.8,108.6 L611.3,108.7 L610.8,108.8 L610.3,108.9 L609.8,109.2 L609.3,109.5 L608.8,109.7 L608.3,109.8 L607.8,109.9 L607.3,110.0 L606.8,110.1 L606.3,110.4 L605.8,110.7 L605.3,111.1 L604.8,111.4 L604.3,111.5 L603.8,111.5 L603.3,111.5 L602.8,111.6 L602.3,111.6 L601.8,111.6 L601.3,112.0 L600.8,112.4 L600.3,112.8 L599.8,112.9 L599.3,113.0 L598.8,113.0 L598.3,113.0 L597.8,113.1 L597.3,113.5 L596.8,113.9 L596.3,114.1 L595.8,114.1 L595.3,114.2 L594.8,114.2 L594.3,114.2 L593.8,114.6 L593.3,114.9 L592.8,115.2 L592.3,115.3 L591.8,115.4 L591.3,115.4 L590.8,115.5 L590.3,115.7 L589.8,116.0 L589.3,116.3 L588.8,116.6 L588.3,116.9 L587.8,116.9 L587.3,117.0 L586.8,117.1 L586.3,117.2 L585.8,117.2 L585.3,117.3 L584.8,117.5 L584.3,117.8 L583.8,118.1 L583.3,118.3 L582.8,118.4 L582.3,118.5 L581.8,118.6 L581.3,118.9 L580.8,119.1 L580.3,119.3 L579.8,119.5 L579.3,119.7 L578.8,119.9 L578.3,120.0 L577.8,120.3 L577.3,120.7 L576.8,121.0 L576.3,121.4 L575.8,121.6 L575.3,121.6 L574.8,121.7 L574.3,121.7 L573.8,121.8 L573.3,121.9 L572.8,122.0 L572.3,122.4 L571.7,122.7 L571.2,123.1 L570.7,123.4 L570.2,123.8 L569.7,123.9 L569.2,124.0 L568.7,124.1 L568.2,124.2 L567.7,124.3 L567.2,124.4 L566.7,124.5 L566.2,124.7 L565.7,125.1 L565.2,125.5 L564.7,125.9 L564.2,126.1 L563.7,126.2 L563.2,126.3 L562.7,126.3 L562.2,126.4 L561.7,126.5 L561.2,126.7 L560.7,127.0 L560.2,127.3 L559.7,127.6 L559.2,127.8 L558.7,128.0 L558.2,128.1 L557.7,128.3 L557.2,128.5 L556.7,128.6 L556.2,128.8 L555.7,128.9 L555.2,129.2 L554.7,129.5 L554.2,129.8 L553.7,130.1 L553.2,130.3 L552.7,130.5 L552.2,130.6 L551.7,130.8 L551.2,130.9 L550.7,131.1 L550.2,131.2 L549.7,131.6 L549.2,132.0 L548.7,132.4 L548.2,132.7 L547.7,133.0 L547.2,133.1 L546.7,133.2 L546.2,133.4 L545.7,133.5 L545.2,133.6 L544.7,133.7 L544.2,133.9 L543.7,134.2 L543.2,134.5 L542.7,134.8 L542.2,135.1 L541.7,135.4 L541.2,135.5 L540.7,135.7 L540.2,135.8 L539.7,136.0 L539.2,136.1 L538.7,136.3 L538.2,136.5 L537.7,136.7 L537.2,137.0 L536.7,137.3 L536.2,137.6 L535.7,137.8 L535.2,138.0 L534.7,138.2 L534.2,138.4 L533.7,138.5 L533.2,138.7 L532.7,139.0 L532.2,139.4 L531.7,139.8 L531.2,140.2 L530.7,140.5 L530.2,140.6 L529.7,140.8 L529.2,140.9 L528.7,141.0 L528.2,141.2 L527.7,141.3 L527.2,141.6 L526.7,141.9 L526.2,142.2 L525.7,142.5 L525.2,142.7 L524.7,142.9 L524.2,143.1 L523.7,143.3 L523.2,143.5 L522.7,143.7 L522.2,144.0 L521.7,144.4 L521.2,144.7 L520.7,144.9 L520.2,145.1 L519.7,145.3 L519.2,145.4 L518.7,145.6 L518.2,145.8 L517.7,146.1 L517.2,146.3 L516.7,146.5 L516.2,146.8 L515.7,147.0 L515.2,147.2 L514.7,147.5 L514.2,147.7 L513.7,148.0 L513.2,148.3 L512.7,148.5 L512.2,148.7 L511.7,149.0 L511.2,149.2 L510.7,149.4 L510.2,149.7 L509.6,150.0 L509.1,150.3 L508.6,150.6 L508.1,150.9 L507.6,151.3 L507.1,151.5 L506.6,151.7 L506.1,151.9 L505.6,152.1 L505.1,152.3 L504.6,152.5 L504.1,152.7 L503.6,152.9 L503.1,153.2 L502.6,153.6 L502.1,154.0 L501.6,154.4 L501.1,154.8 L500.6,155.0 L500.1,155.1 L499.6,155.3 L499.1,155.4 L498.6,155.5 L498.1,155.7 L497.6,155.9 L497.1,156.2 L496.6,156.6 L496.1,156.9 L495.6,157.2 L495.1,157.5 L494.6,157.7 L494.1,157.9 L493.6,158.1 L493.1,158.3 L492.6,158.5 L492.1,158.7 L491.6,158.9 L491.1,159.2 L490.6,159.6 L490.1,160.0 L489.6,160.3 L489.1,160.5 L488.6,160.7 L488.1,160.9 L487.6,161.1 L487.1,161.3 L486.6,161.7 L486.1,162.0 L485.6,162.3 L485.1,162.5 L484.6,162.7 L484.1,162.9 L483.6,163.1 L483.1,163.3 L482.6,163.6 L482.1,164.0 L481.6,164.3 L481.1,164.6 L480.6,164.9 L480.1,165.2 L479.6,165.4 L479.1,165.6 L478.6,165.9 L478.1,166.1 L477.6,166.4 L477.1,166.6 L476.6,166.9 L476.1,167.2 L475.6,167.6 L475.1,167.9 L474.6,168.2 L474.1,168.5 L473.6,168.7 L473.1,169.0 L472.6,169.2 L472.1,169.4 L471.6,169.6 L471.1,169.9 L470.6,170.1 L470.1,170.3 L469.6,170.7 L469.1,171.0 L468.6,171.4 L468.1,171.8 L467.6,172.1 L467.1,172.4 L466.6,172.6 L466.1,172.8 L465.6,173.0 L465.1,173.2 L464.6,173.4 L464.1,173.6 L463.6,173.8 L463.1,174.0 L462.6,174.3 L462.1,174.7 L461.6,175.0 L461.1,175.3 L460.6,175.6 L460.1,175.8 L459.6,176.1 L459.1,176.3 L458.6,176.6 L458.1,176.8 L457.6,177.2 L457.1,177.5 L456.6,177.9 L456.1,178.3 L455.6,178.7 L455.1,179.0 L454.6,179.2 L454.1,179.5 L453.6,179.7 L453.1,179.9 L452.6,180.1 L452.1,180.3 L451.6,180.6 L451.1,180.8 L450.6,181.1 L450.1,181.4 L449.6,181.7 L449.1,182.0 L448.6,182.3 L448.1,182.5 L447.5,182.8 L447.0,183.1 L446.5,183.4 L446.0,183.6 L445.5,183.9 L445.0,184.2 L444.5,184.5 L444.0,184.8 L443.5,185.1 L443.0,185.3 L442.5,185.5 L442.0,185.8 L441.5,186.0 L441.0,186.3 L440.5,186.7 L440.0,187.1 L439.5,187.5 L439.0,187.9 L438.5,188.3 L438.0,188.5 L437.5,188.7 L437.0,188.9 L436.5,189.2 L436.0,189.4 L435.5,189.6 L435.0,189.8 L434.5,190.0 L434.0,190.4 L433.5,190.7 L433.0,191.1 L432.5,191.4 L432.0,191.8 L431.5,192.1 L431.0,192.3 L430.5,192.6 L430.0,192.8 L429.5,193.1 L429.0,193.3 L428.5,193.6 L428.0,193.8 L427.5,194.1 L427.0,194.5 L426.5,194.8 L426.0,195.1 L425.5,195.5 L425.0,195.8 L424.5,196.0 L424.0,196.2 L423.5,196.5 L423.0,196.7 L422.5,197.0 L422.0,197.2 L421.5,197.4 L421.0,197.8 L420.5,198.2 L420.0,198.6 L419.5,199.0 L419.0,199.4 L418.5,199.6 L418.0,199.8 L417.5,200.0 L417.0,200.2 L416.5,200.4Z" fill="#474747"/>
<circle cx="416.5" cy="197.3" r="2.4" fill="#474747"/>
<circle cx="660.4" cy="93.2" r="3.0" fill="#474747"/>
<path d="M416.5,194.4 L417.0,194.2 L417.5,193.9 L418.0,193.7 L418.5,193.5 L419.0,193.4 L419.5,193.2 L420.0,193.1 L420.5,192.6 L421.0,192.1 L421.5,191.6 L422.0,191.8 L422.5,192.3 L423.0,192.2 L423.5,191.8 L424.0,191.4 L424.5,191.0 L425.0,191.0 L425.5,191.1 L426.0,191.2 L426.5,191.0 L427.0,190.8 L427.5,190.6 L428.0,190.5 L428.5,190.4 L429.0,190.4 L429.5,190.2 L430.0,190.0 L430.5,189.8 L431.0,189.6 L431.5,189.6 L432.0,189.6 L432.5,189.5 L433.0,189.1 L433.5,188.8 L434.0,188.6 L434.5,188.7 L435.0,188.6 L435.5,188.2 L436.0,187.7 L436.5,187.2 L437.0,187.0 L437.5,187.4 L438.0,187.7 L438.5,187.6 L439.0,187.4 L439.5,187.1 L440.0,186.9 L440.5,186.7 L441.0,186.7 L441.5,186.7 L442.0,186.6 L442.5,186.3 L443.0,186.0 L443.5,185.7 L444.0,185.9 L444.5,186.0 L445.0,185.7 L445.5,185.3 L446.0,185.0 L446.5,184.6 L447.0,184.3 L447.5,184.4 L448.1,184.6 L448.6,184.7 L449.1,184.5 L449.6,184.1 L450.1,183.6 L450.6,183.1 L451.1,182.7 L451.6,183.1 L452.1,183.5 L452.6,183.7 L453.1,183.4 L453.6,183.1 L454.1,182.8 L454.6,182.5 L455.1,182.2 L455.6,182.2 L456.1,182.3 L456.6,182.3 L457.1,182.4 L457.6,182.1 L458.1,181.8 L458.6,181.6 L459.1,181.3 L459.6,181.1 L460.1,181.0 L460.6,181.0 L461.1,181.1 L461.6,181.1 L462.1,180.8 L462.6,180.3 L463.1,179.9 L463.6,179.5 L464.1,179.1 L464.6,179.3 L465.1,179.6 L465.6,179.9 L466.1,179.9 L466.6,179.6 L467.1,179.2 L467.6,178.9 L468.1,178.6 L468.6,178.2 L469.1,178.4 L469.6,178.5 L470.1,178.7 L470.6,178.7 L471.1,178.4 L471.6,178.2 L472.1,177.9 L472.6,177.7 L473.1,177.9 L473.6,178.0 L474.1,178.0 L474.6,177.8 L475.1,177.5 L475.6,177.3 L476.1,177.2 L476.6,177.1 L477.1,177.0 L477.6,176.8 L478.1,176.6 L478.6,176.4 L479.1,176.5 L479.6,176.6 L480.1,176.5 L480.6,176.1 L481.1,175.7 L481.6,175.3 L482.1,174.9 L482.6,174.5 L483.1,174.6 L483.6,174.9 L484.1,175.1 L484.6,175.2 L485.1,175.0 L485.6,174.8 L486.1,174.5 L486.6,174.4 L487.1,174.5 L487.6,174.6 L488.1,174.5 L488.6,174.2 L489.1,174.0 L489.6,173.8 L490.1,173.7 L490.6,173.7 L491.1,173.7 L491.6,173.4 L492.1,172.9 L492.6,172.4 L493.1,171.9 L493.6,172.1 L494.1,172.5 L494.6,172.7 L495.1,172.5 L495.6,172.4 L496.1,172.2 L496.6,172.0 L497.1,171.9 L497.6,171.9 L498.1,171.9 L498.6,171.7 L499.1,171.5 L499.6,171.3 L500.1,171.1 L500.6,171.1 L501.1,171.3 L501.6,171.5 L502.1,171.2 L502.6,170.8 L503.1,170.5 L503.6,170.1 L504.1,170.2 L504.6,170.4 L505.1,170.5 L505.6,170.2 L506.1,169.8 L506.6,169.5 L507.1,169.5 L507.6,169.8 L508.1,170.1 L508.6,169.8 L509.1,169.6 L509.6,169.4 L510.2,169.2 L510.7,169.2 L511.2,169.2 L511.7,169.1 L512.2,168.9 L512.7,168.8 L513.2,168.7 L513.7,168.7 L514.2,168.5 L514.7,168.1 L515.2,167.7 L515.7,167.4 L516.2,167.5 L516.7,167.8 L517.2,167.8 L517.7,167.5 L518.2,167.2 L518.7,166.9 L519.2,166.7 L519.7,166.4 L520.2,166.6 L520.7,166.8 L521.2,166.9 L521.7,166.8 L522.2,166.6 L522.7,166.4 L523.2,166.2 L523.7,166.0 L524.2,165.8 L524.7,165.9 L525.2,166.0 L525.7,166.1 L526.2,166.1 L526.7,166.0 L527.2,165.8 L527.7,165.6 L528.2,165.5 L528.7,165.3 L529.2,165.2 L529.7,165.1 L530.2,165.1 L530.7,165.0 L531.2,165.0 L531.7,164.9 L532.2,164.7 L532.7,164.6 L533.2,164.5 L533.7,164.4 L534.2,164.3 L534.7,164.2 L535.2,164.1 L535.7,163.9 L536.2,163.6 L536.7,163.4 L537.2,163.1 L537.7,162.9 L538.2,162.8 L538.7,163.0 L539.2,163.1 L539.7,163.3 L540.2,163.2 L540.7,163.1 L541.2,162.9 L541.7,162.8 L542.2,162.7 L542.7,162.6 L543.2,162.6 L543.7,162.5 L544.2,162.5 L544.7,162.3 L545.2,161.9 L545.7,161.5 L546.2,161.2 L546.7,160.9 L547.2,161.2 L547.7,161.5 L548.2,161.7 L548.7,161.4 L549.2,161.2 L549.7,161.0 L550.2,160.7 L550.7,160.5 L551.2,160.5 L551.7,160.6 L552.2,160.7 L552.7,160.8 L553.2,160.6 L553.7,160.3 L554.2,160.0 L554.7,159.7 L555.2,159.5 L555.7,159.8 L556.2,160.0 L556.7,160.3 L557.2,160.2 L557.7,160.0 L558.2,159.8 L558.7,159.7 L559.2,159.8 L559.7,159.6 L560.2,159.1 L560.7,158.6 L561.2,158.3 L561.7,158.8 L562.2,159.3 L562.7,159.0 L563.2,158.7 L563.7,158.5 L564.2,158.2 L564.7,157.9 L565.2,158.1 L565.7,158.3 L566.2,158.5 L566.7,158.5 L567.2,158.4 L567.7,158.3 L568.2,158.2 L568.7,158.1 L569.2,158.0 L569.7,157.9 L570.2,157.8 L570.7,157.6 L571.2,157.3 L571.7,157.1 L572.3,156.9 L572.8,156.8 L573.3,156.9 L573.8,157.1 L574.3,157.2 L574.8,157.2 L575.3,157.0 L575.8,156.9 L576.3,156.8 L576.8,156.7 L577.3,156.6 L577.8,156.6 L578.3,156.5 L578.8,156.4 L579.3,156.3 L579.8,156.2 L580.3,156.1 L580.8,156.1 L581.3,156.2 L581.8,156.2 L582.3,156.0 L582.8,155.8 L583.3,155.6 L583.8,155.5 L584.3,155.3 L584.8,155.3 L585.3,155.3 L585.8,155.3 L586.3,155.2 L586.8,155.0 L587.3,154.8 L587.8,154.6 L588.3,154.4 L588.8,154.2 L589.3,154.2 L589.8,154.4 L590.3,154.5 L590.8,154.7 L591.3,154.5 L591.8,154.1 L592.3,153.8 L592.8,153.5 L593.3,153.3 L593.8,153.6 L594.3,153.8 L594.8,153.9 L595.3,153.6 L595.8,153.4 L596.3,153.1 L596.8,152.9 L597.3,152.8 L597.8,153.1 L598.3,153.4 L598.8,153.6 L599.3,153.3 L599.8,153.1 L600.3,152.8 L600.8,152.8 L601.3,152.9 L601.8,152.8 L602.3,152.5 L602.8,152.3 L603.3,152.0 L603.8,152.1 L604.3,152.4 L604.8,152.8 L605.3,152.5 L605.8,152.2 L606.3,151.9 L606.8,152.0 L607.3,152.1 L607.8,151.9 L608.3,151.7 L608.8,151.4 L609.3,151.1 L609.8,150.9 L610.3,150.9 L610.8,151.2 L611.3,151.5 L611.8,151.6 L612.3,151.4 L612.8,151.1 L613.3,150.8 L613.8,150.6 L614.3,150.6 L614.8,150.8 L615.3,151.0 L615.8,150.8 L616.3,150.3 L616.8,149.8 L617.3,149.7 L617.8,150.3 L618.3,150.8 L618.8,150.4 L619.3,150.1 L619.8,149.8 L620.3,149.5 L620.8,149.1 L621.3,148.9 L621.8,149.3 L622.3,149.6 L622.8,149.9 L623.3,150.1 L623.8,149.7 L624.3,149.3 L624.8,148.9 L625.3,148.5 L625.8,148.7 L626.3,149.0 L626.8,149.3 L627.3,149.2 L627.8,149.1 L628.3,148.9 L628.8,148.8 L629.3,148.8 L629.8,149.0 L630.3,149.1 L630.8,149.0 L631.3,148.9 L631.8,148.7 L632.3,148.6 L632.8,148.4 L633.3,148.3 L633.8,148.3 L634.4,148.3 L634.9,148.3 L635.4,148.4 L635.9,148.1 L636.4,147.8 L636.9,147.5 L637.4,147.5 L637.9,147.7 L638.4,147.7 L638.9,147.4 L639.4,147.0 L639.9,146.6 L640.4,147.0 L640.9,147.5 L641.4,147.5 L641.9,147.3 L642.4,147.0 L642.9,146.7 L643.4,146.5 L643.9,146.2 L644.4,146.5 L644.9,146.7 L645.4,147.0 L645.9,147.2 L646.4,146.9 L646.9,146.7 L647.4,146.5 L647.9,146.3 L648.4,146.0 L648.9,146.0 L649.4,146.2 L649.9,146.4 L650.4,146.6 L650.9,146.4 L651.4,146.0 L651.9,145.6 L652.4,145.8 L652.9,146.1 L653.4,146.1 L653.9,146.0 L654.4,145.8 L654.9,145.7 L655.4,145.7 L655.9,145.8 L656.4,145.8 L656.9,145.4 L657.4,145.0 L657.9,144.6 L658.4,144.4 L658.9,144.9 L659.4,145.4 L659.9,145.4 L660.4,145.0 L660.4,151.3 L659.9,151.5 L659.4,151.7 L658.9,151.8 L658.4,151.8 L657.9,151.7 L657.4,151.7 L656.9,151.6 L656.4,151.6 L655.9,151.5 L655.4,151.6 L654.9,151.8 L654.4,151.9 L653.9,152.1 L653.4,152.2 L652.9,152.2 L652.4,152.2 L651.9,152.2 L651.4,152.2 L650.9,152.2 L650.4,152.3 L649.9,152.3 L649.4,152.4 L648.9,152.5 L648.4,152.5 L647.9,152.6 L647.4,152.7 L646.9,152.7 L646.4,152.8 L645.9,152.8 L645.4,153.1 L644.9,153.3 L644.4,153.6 L643.9,153.6 L643.4,153.5 L642.9,153.4 L642.4,153.3 L641.9,153.2 L641.4,153.4 L640.9,153.5 L640.4,153.7 L639.9,153.8 L639.4,154.0 L638.9,154.0 L638.4,154.0 L637.9,154.0 L637.4,154.1 L636.9,154.1 L636.4,154.1 L635.9,154.1 L635.4,154.2 L634.9,154.4 L634.4,154.6 L633.8,154.8 L633.3,155.1 L632.8,155.0 L632.3,154.9 L631.8,154.9 L631.3,154.8 L630.8,154.8 L630.3,154.7 L629.8,154.8 L629.3,154.9 L628.8,155.0 L628.3,155.1 L627.8,155.2 L627.3,155.2 L626.8,155.2 L626.3,155.3 L625.8,155.3 L625.3,155.4 L624.8,155.5 L624.3,155.6 L623.8,155.8 L623.3,155.9 L622.8,156.1 L622.3,156.1 L621.8,156.1 L621.3,156.1 L620.8,156.2 L620.3,156.2 L619.8,156.2 L619.3,156.3 L618.8,156.4 L618.3,156.5 L617.8,156.5 L617.3,156.6 L616.8,156.7 L616.3,156.7 L615.8,156.9 L615.3,157.1 L614.8,157.3 L614.3,157.3 L613.8,157.3 L613.3,157.2 L612.8,157.2 L612.3,157.2 L611.8,157.3 L611.3,157.4 L610.8,157.6 L610.3,157.7 L609.8,157.8 L609.3,157.9 L608.8,157.9 L608.3,158.0 L607.8,158.0 L607.3,158.1 L606.8,158.1 L606.3,158.2 L605.8,158.3 L605.3,158.4 L604.8,158.5 L604.3,158.6 L603.8,158.6 L603.3,158.6 L602.8,158.7 L602.3,158.7 L601.8,158.7 L601.3,158.8 L600.8,158.8 L600.3,158.9 L599.8,159.1 L599.3,159.3 L598.8,159.6 L598.3,159.6 L597.8,159.6 L597.3,159.7 L596.8,159.7 L596.3,159.7 L595.8,159.7 L595.3,159.8 L594.8,160.0 L594.3,160.2 L593.8,160.3 L593.3,160.5 L592.8,160.5 L592.3,160.5 L591.8,160.5 L591.3,160.6 L590.8,160.6 L590.3,160.6 L589.8,160.6 L589.3,160.8 L588.8,161.0 L588.3,161.2 L587.8,161.3 L587.3,161.3 L586.8,161.3 L586.3,161.3 L585.8,161.3 L585.3,161.3 L584.8,161.3 L584.3,161.4 L583.8,161.5 L583.3,161.7 L582.8,161.8 L582.3,161.8 L581.8,161.9 L581.3,162.0 L580.8,162.1 L580.3,162.2 L579.8,162.4 L579.3,162.6 L578.8,162.8 L578.3,163.0 L577.8,163.0 L577.3,163.0 L576.8,163.0 L576.3,163.0 L575.8,163.0 L575.3,163.0 L574.8,163.1 L574.3,163.1 L573.8,163.3 L573.3,163.5 L572.8,163.5 L572.3,163.5 L571.7,163.5 L571.2,163.6 L570.7,163.7 L570.2,163.9 L569.7,164.0 L569.2,164.2 L568.7,164.3 L568.2,164.3 L567.7,164.4 L567.2,164.4 L566.7,164.5 L566.2,164.5 L565.7,164.6 L565.2,164.6 L564.7,164.7 L564.2,164.8 L563.7,164.9 L563.2,164.9 L562.7,165.0 L562.2,165.1 L561.7,165.2 L561.2,165.4 L560.7,165.6 L560.2,165.8 L559.7,166.0 L559.2,166.1 L558.7,166.2 L558.2,166.2 L557.7,166.2 L557.2,166.2 L556.7,166.3 L556.2,166.3 L555.7,166.3 L555.2,166.3 L554.7,166.4 L554.2,166.6 L553.7,166.8 L553.2,166.9 L552.7,166.9 L552.2,167.0 L551.7,167.0 L551.2,167.0 L550.7,167.1 L550.2,167.2 L549.7,167.3 L549.2,167.5 L548.7,167.6 L548.2,167.7 L547.7,167.8 L547.2,167.9 L546.7,167.9 L546.2,168.0 L545.7,168.1 L545.2,168.2 L544.7,168.2 L544.2,168.4 L543.7,168.6 L543.2,168.8 L542.7,168.9 L542.2,168.9 L541.7,168.9 L541.2,169.0 L540.7,169.1 L540.2,169.2 L539.7,169.4 L539.2,169.4 L538.7,169.4 L538.2,169.5 L537.7,169.5 L537.2,169.7 L536.7,169.9 L536.2,170.0 L535.7,170.2 L535.2,170.3 L534.7,170.3 L534.2,170.3 L533.7,170.4 L533.2,170.4 L532.7,170.5 L532.2,170.6 L531.7,170.8 L531.2,171.0 L530.7,171.2 L530.2,171.3 L529.7,171.4 L529.2,171.4 L528.7,171.5 L528.2,171.6 L527.7,171.6 L527.2,171.7 L526.7,171.8 L526.2,172.0 L525.7,172.2 L525.2,172.4 L524.7,172.4 L524.2,172.5 L523.7,172.5 L523.2,172.5 L522.7,172.5 L522.2,172.6 L521.7,172.8 L521.2,172.9 L520.7,173.0 L520.2,173.1 L519.7,173.2 L519.2,173.2 L518.7,173.3 L518.2,173.4 L517.7,173.6 L517.2,173.8 L516.7,173.9 L516.2,174.0 L515.7,174.0 L515.2,174.1 L514.7,174.2 L514.2,174.4 L513.7,174.7 L513.2,174.9 L512.7,175.2 L512.2,175.4 L511.7,175.5 L511.2,175.5 L510.7,175.5 L510.2,175.5 L509.6,175.5 L509.1,175.5 L508.6,175.5 L508.1,175.5 L507.6,175.7 L507.1,175.9 L506.6,176.1 L506.1,176.3 L505.6,176.5 L505.1,176.6 L504.6,176.7 L504.1,176.7 L503.6,176.8 L503.1,176.8 L502.6,176.9 L502.1,176.9 L501.6,177.0 L501.1,177.1 L500.6,177.3 L500.1,177.5 L499.6,177.6 L499.1,177.7 L498.6,177.8 L498.1,177.8 L497.6,178.0 L497.1,178.2 L496.6,178.5 L496.1,178.7 L495.6,178.7 L495.1,178.8 L494.6,178.8 L494.1,178.9 L493.6,178.9 L493.1,179.0 L492.6,179.2 L492.1,179.4 L491.6,179.5 L491.1,179.7 L490.6,179.8 L490.1,179.9 L489.6,180.0 L489.1,180.1 L488.6,180.2 L488.1,180.3 L487.6,180.4 L487.1,180.5 L486.6,180.6 L486.1,180.8 L485.6,180.9 L485.1,181.1 L484.6,181.2 L484.1,181.3 L483.6,181.4 L483.1,181.4 L482.6,181.5 L482.1,181.6 L481.6,181.8 L481.1,181.9 L480.6,182.1 L480.1,182.2 L479.6,182.4 L479.1,182.5 L478.6,182.6 L478.1,182.7 L477.6,182.8 L477.1,182.8 L476.6,182.9 L476.1,183.0 L475.6,183.1 L475.1,183.3 L474.6,183.5 L474.1,183.7 L473.6,184.0 L473.1,184.1 L472.6,184.2 L472.1,184.3 L471.6,184.4 L471.1,184.5 L470.6,184.6 L470.1,184.7 L469.6,184.9 L469.1,185.1 L468.6,185.3 L468.1,185.4 L467.6,185.6 L467.1,185.7 L466.6,185.8 L466.1,185.8 L465.6,185.9 L465.1,186.0 L464.6,186.0 L464.1,186.1 L463.6,186.4 L463.1,186.7 L462.6,187.0 L462.1,187.2 L461.6,187.3 L461.1,187.4 L460.6,187.5 L460.1,187.5 L459.6,187.6 L459.1,187.6 L458.6,187.8 L458.1,188.1 L457.6,188.4 L457.1,188.6 L456.6,188.8 L456.1,188.9 L455.6,188.9 L455.1,189.0 L454.6,189.0 L454.1,189.1 L453.6,189.1 L453.1,189.3 L452.6,189.6 L452.1,189.8 L451.6,190.0 L451.1,190.3 L450.6,190.5 L450.1,190.6 L449.6,190.6 L449.1,190.7 L448.6,190.7 L448.1,190.8 L447.5,190.9 L447.0,190.9 L446.5,191.0 L446.0,191.2 L445.5,191.4 L445.0,191.6 L444.5,191.8 L444.0,191.9 L443.5,192.0 L443.0,192.1 L442.5,192.2 L442.0,192.3 L441.5,192.4 L441.0,192.6 L440.5,192.8 L440.0,193.0 L439.5,193.2 L439.0,193.4 L438.5,193.5 L438.0,193.6 L437.5,193.8 L437.0,193.9 L436.5,194.0 L436.0,194.1 L435.5,194.2 L435.0,194.3 L434.5,194.6 L434.0,195.0 L433.5,195.4 L433.0,195.4 L432.5,195.4 L432.0,195.4 L431.5,195.4 L431.0,195.5 L430.5,195.8 L430.0,196.0 L429.5,196.3 L429.0,196.4 L428.5,196.5 L428.0,196.6 L427.5,196.7 L427.0,196.8 L426.5,196.9 L426.0,197.2 L425.5,197.4 L425.0,197.7 L424.5,197.9 L424.0,198.1 L423.5,198.3 L423.0,198.4 L422.5,198.5 L422.0,198.6 L421.5,198.7 L421.0,198.8 L420.5,198.9 L420.0,199.0 L419.5,199.1 L419.0,199.4 L418.5,199.7 L418.0,199.9 L417.5,200.0 L417.0,200.1 L416.5,200.2Z" fill="#e8373c"/>
<circle cx="416.5" cy="197.3" r="2.2" fill="#e8373c"/>
<circle cx="660.4" cy="148.2" r="2.7" fill="#e8373c"/>
<path d="M416.5,194.6 L417.0,194.4 L417.5,194.2 L418.0,194.0 L418.5,193.9 L419.0,193.8 L419.5,193.8 L420.0,193.7 L420.5,193.5 L421.0,193.3 L421.5,193.1 L422.0,193.0 L422.5,192.8 L423.0,192.6 L423.5,192.5 L424.0,192.4 L424.5,192.3 L425.0,192.2 L425.5,192.0 L426.0,191.9 L426.5,191.7 L427.0,191.6 L427.5,191.5 L428.0,191.3 L428.5,191.1 L429.0,190.8 L429.5,190.6 L430.0,190.4 L430.5,190.5 L431.0,190.5 L431.5,190.4 L432.0,190.2 L432.5,190.0 L433.0,189.9 L433.5,189.8 L434.0,189.7 L434.5,189.5 L435.0,189.3 L435.5,189.0 L436.0,188.8 L436.5,188.5 L437.0,188.5 L437.5,188.6 L438.0,188.6 L438.5,188.5 L439.0,188.3 L439.5,188.1 L440.0,187.9 L440.5,187.7 L441.0,187.6 L441.5,187.5 L442.0,187.4 L442.5,187.2 L443.0,187.1 L443.5,187.0 L444.0,186.9 L444.5,186.8 L445.0,186.6 L445.5,186.3 L446.0,186.0 L446.5,185.8 L447.0,185.7 L447.5,185.7 L448.0,185.7 L448.5,185.5 L449.0,185.3 L449.5,185.0 L450.0,184.8 L450.5,184.6 L451.0,184.5 L451.5,184.5 L452.0,184.5 L452.5,184.4 L453.0,184.3 L453.5,184.1 L454.0,183.9 L454.5,183.8 L455.0,183.7 L455.5,183.6 L456.0,183.4 L456.5,183.3 L457.0,183.2 L457.5,183.0 L458.0,182.9 L458.5,182.7 L459.0,182.6 L459.5,182.5 L460.0,182.3 L460.5,182.2 L461.0,182.0 L461.5,181.8 L462.0,181.6 L462.5,181.5 L463.0,181.5 L463.5,181.4 L464.0,181.2 L464.5,181.1 L465.0,180.9 L465.5,180.8 L466.0,180.7 L466.5,180.5 L467.0,180.3 L467.5,180.0 L468.0,179.7 L468.5,179.5 L469.0,179.6 L469.5,179.7 L470.0,179.6 L470.5,179.4 L471.0,179.3 L471.5,179.1 L472.0,178.9 L472.5,178.7 L473.0,178.6 L473.5,178.5 L474.0,178.4 L474.5,178.3 L475.0,178.1 L475.5,177.9 L476.1,177.7 L476.6,177.5 L477.1,177.3 L477.6,177.1 L478.1,177.1 L478.6,177.0 L479.1,177.0 L479.6,176.9 L480.1,176.6 L480.6,176.4 L481.1,176.3 L481.6,176.3 L482.1,176.2 L482.6,176.1 L483.1,175.9 L483.6,175.7 L484.1,175.6 L484.6,175.4 L485.1,175.3 L485.6,175.2 L486.1,175.1 L486.6,175.0 L487.1,174.8 L487.6,174.7 L488.1,174.5 L488.6,174.4 L489.1,174.2 L489.6,174.1 L490.1,174.0 L490.6,173.9 L491.1,173.7 L491.6,173.6 L492.1,173.4 L492.6,173.2 L493.1,173.0 L493.6,172.7 L494.1,172.5 L494.6,172.5 L495.1,172.5 L495.6,172.5 L496.1,172.4 L496.6,172.2 L497.1,172.1 L497.6,171.9 L498.1,171.8 L498.6,171.6 L499.1,171.4 L499.6,171.2 L500.1,171.0 L500.6,170.8 L501.1,170.8 L501.6,170.8 L502.1,170.7 L502.6,170.5 L503.1,170.3 L503.6,170.2 L504.1,170.1 L504.6,170.0 L505.1,169.9 L505.6,169.7 L506.1,169.6 L506.6,169.4 L507.1,169.3 L507.6,169.1 L508.1,169.0 L508.6,168.9 L509.1,168.8 L509.6,168.7 L510.1,168.5 L510.6,168.3 L511.1,168.2 L511.6,168.1 L512.1,168.1 L512.6,168.0 L513.1,167.7 L513.6,167.5 L514.1,167.3 L514.6,167.0 L515.1,166.8 L515.6,166.8 L516.1,166.8 L516.6,166.8 L517.1,166.7 L517.6,166.6 L518.1,166.5 L518.6,166.3 L519.1,166.2 L519.6,166.1 L520.1,165.9 L520.6,165.8 L521.1,165.7 L521.6,165.6 L522.1,165.4 L522.6,165.1 L523.1,164.9 L523.6,164.7 L524.1,164.5 L524.6,164.5 L525.1,164.6 L525.6,164.5 L526.1,164.3 L526.6,164.2 L527.1,164.0 L527.6,163.9 L528.1,163.8 L528.6,163.8 L529.1,163.6 L529.6,163.4 L530.1,163.1 L530.6,162.9 L531.1,162.7 L531.6,162.8 L532.1,162.8 L532.6,162.8 L533.1,162.6 L533.6,162.4 L534.1,162.2 L534.6,162.0 L535.1,161.8 L535.6,161.7 L536.1,161.7 L536.6,161.7 L537.1,161.6 L537.6,161.4 L538.1,161.2 L538.6,161.1 L539.1,160.9 L539.6,160.7 L540.1,160.7 L540.6,160.6 L541.1,160.6 L541.6,160.5 L542.1,160.4 L542.6,160.2 L543.1,160.0 L543.6,159.9 L544.1,159.8 L544.6,159.7 L545.1,159.6 L545.6,159.5 L546.1,159.3 L546.6,159.2 L547.1,159.1 L547.6,159.0 L548.1,158.9 L548.6,158.8 L549.1,158.7 L549.6,158.6 L550.1,158.5 L550.6,158.4 L551.1,158.2 L551.6,158.1 L552.1,157.9 L552.6,157.7 L553.1,157.6 L553.6,157.5 L554.1,157.4 L554.6,157.3 L555.1,157.1 L555.6,156.9 L556.1,156.7 L556.6,156.6 L557.1,156.4 L557.6,156.3 L558.1,156.3 L558.6,156.4 L559.1,156.4 L559.6,156.3 L560.1,156.1 L560.6,155.9 L561.1,155.8 L561.6,155.8 L562.1,155.7 L562.6,155.5 L563.1,155.3 L563.6,155.2 L564.1,155.0 L564.6,154.9 L565.1,154.9 L565.6,154.8 L566.1,154.8 L566.6,154.6 L567.1,154.4 L567.6,154.2 L568.1,154.0 L568.6,154.0 L569.1,154.0 L569.6,154.0 L570.1,153.8 L570.6,153.6 L571.1,153.4 L571.6,153.2 L572.1,153.0 L572.6,153.0 L573.1,153.0 L573.6,153.0 L574.1,153.0 L574.6,152.7 L575.1,152.5 L575.6,152.3 L576.1,152.3 L576.6,152.4 L577.1,152.4 L577.6,152.2 L578.1,152.1 L578.6,151.9 L579.1,151.7 L579.6,151.7 L580.1,151.6 L580.6,151.6 L581.1,151.5 L581.6,151.3 L582.1,151.2 L582.6,151.1 L583.1,151.0 L583.6,151.0 L584.1,150.8 L584.6,150.6 L585.1,150.3 L585.6,150.2 L586.1,150.3 L586.6,150.4 L587.1,150.2 L587.6,150.1 L588.1,149.9 L588.6,149.8 L589.1,149.7 L589.6,149.7 L590.1,149.6 L590.6,149.5 L591.1,149.4 L591.6,149.3 L592.1,149.1 L592.6,149.1 L593.1,149.0 L593.6,148.9 L594.2,148.8 L594.7,148.6 L595.2,148.4 L595.7,148.2 L596.2,148.0 L596.7,148.1 L597.2,148.1 L597.7,148.2 L598.2,148.1 L598.7,147.9 L599.2,147.7 L599.7,147.5 L600.2,147.4 L600.7,147.4 L601.2,147.4 L601.7,147.4 L602.2,147.3 L602.7,147.2 L603.2,147.1 L603.7,147.0 L604.2,147.0 L604.7,146.9 L605.2,146.8 L605.7,146.7 L606.2,146.7 L606.7,146.6 L607.2,146.4 L607.7,146.3 L608.2,146.2 L608.7,146.1 L609.2,146.1 L609.7,145.9 L610.2,145.7 L610.7,145.5 L611.2,145.4 L611.7,145.3 L612.2,145.3 L612.7,145.4 L613.2,145.4 L613.7,145.3 L614.2,145.2 L614.7,145.0 L615.2,144.9 L615.7,144.8 L616.2,144.7 L616.7,144.7 L617.2,144.7 L617.7,144.7 L618.2,144.5 L618.7,144.4 L619.2,144.2 L619.7,144.0 L620.2,143.8 L620.7,143.8 L621.2,143.9 L621.7,143.9 L622.2,144.0 L622.7,143.9 L623.2,143.7 L623.7,143.5 L624.2,143.4 L624.7,143.2 L625.2,143.3 L625.7,143.3 L626.2,143.4 L626.7,143.3 L627.2,143.1 L627.7,143.0 L628.2,142.9 L628.7,142.9 L629.2,142.9 L629.7,142.8 L630.2,142.7 L630.7,142.5 L631.2,142.3 L631.7,142.2 L632.2,142.3 L632.7,142.3 L633.2,142.3 L633.7,142.2 L634.2,142.1 L634.7,142.0 L635.2,142.0 L635.7,142.0 L636.2,141.9 L636.7,141.8 L637.2,141.7 L637.7,141.6 L638.2,141.5 L638.7,141.4 L639.2,141.4 L639.7,141.4 L640.2,141.3 L640.7,141.1 L641.2,140.9 L641.7,140.8 L642.2,140.8 L642.7,140.9 L643.2,140.9 L643.7,140.8 L644.2,140.8 L644.7,140.7 L645.2,140.7 L645.7,140.6 L646.2,140.5 L646.7,140.4 L647.2,140.2 L647.7,140.1 L648.2,140.1 L648.7,140.1 L649.2,140.2 L649.7,140.2 L650.2,140.0 L650.7,139.8 L651.2,139.6 L651.7,139.7 L652.2,139.8 L652.7,139.8 L653.2,139.7 L653.7,139.6 L654.2,139.5 L654.7,139.4 L655.2,139.4 L655.7,139.4 L656.2,139.3 L656.7,139.2 L657.2,139.1 L657.7,139.0 L658.2,139.1 L658.7,139.1 L658.7,144.5 L658.2,144.6 L657.7,144.6 L657.2,144.7 L656.7,144.7 L656.2,144.7 L655.7,144.8 L655.2,144.8 L654.7,144.9 L654.2,144.9 L653.7,145.0 L653.2,145.1 L652.7,145.2 L652.2,145.3 L651.7,145.3 L651.2,145.4 L650.7,145.4 L650.2,145.5 L649.7,145.5 L649.2,145.5 L648.7,145.6 L648.2,145.6 L647.7,145.7 L647.2,145.8 L646.7,145.9 L646.2,146.0 L645.7,146.1 L645.2,146.1 L644.7,146.2 L644.2,146.2 L643.7,146.3 L643.2,146.3 L642.7,146.4 L642.2,146.4 L641.7,146.4 L641.2,146.5 L640.7,146.6 L640.2,146.8 L639.7,146.9 L639.2,146.9 L638.7,147.0 L638.2,147.0 L637.7,147.0 L637.2,147.1 L636.7,147.1 L636.2,147.3 L635.7,147.4 L635.2,147.5 L634.7,147.5 L634.2,147.6 L633.7,147.6 L633.2,147.6 L632.7,147.7 L632.2,147.8 L631.7,147.9 L631.2,148.0 L630.7,148.1 L630.2,148.1 L629.7,148.2 L629.2,148.2 L628.7,148.3 L628.2,148.4 L627.7,148.4 L627.2,148.5 L626.7,148.6 L626.2,148.7 L625.7,148.8 L625.2,148.9 L624.7,148.9 L624.2,149.0 L623.7,149.1 L623.2,149.1 L622.7,149.2 L622.2,149.3 L621.7,149.4 L621.2,149.4 L620.7,149.5 L620.2,149.6 L619.7,149.7 L619.2,149.8 L618.7,149.8 L618.2,149.9 L617.7,150.0 L617.2,150.1 L616.7,150.1 L616.2,150.2 L615.7,150.4 L615.2,150.5 L614.7,150.6 L614.2,150.8 L613.7,150.8 L613.2,150.9 L612.7,151.0 L612.2,151.0 L611.7,151.1 L611.2,151.1 L610.7,151.2 L610.2,151.3 L609.7,151.4 L609.2,151.5 L608.7,151.5 L608.2,151.6 L607.7,151.7 L607.2,151.8 L606.7,151.9 L606.2,152.0 L605.7,152.1 L605.2,152.2 L604.7,152.3 L604.2,152.4 L603.7,152.5 L603.2,152.5 L602.7,152.6 L602.2,152.7 L601.7,152.8 L601.2,152.9 L600.7,153.0 L600.2,153.1 L599.7,153.2 L599.2,153.3 L598.7,153.4 L598.2,153.5 L597.7,153.6 L597.2,153.7 L596.7,153.7 L596.2,153.8 L595.7,153.9 L595.2,154.0 L594.7,154.1 L594.2,154.2 L593.6,154.3 L593.1,154.4 L592.6,154.5 L592.1,154.6 L591.6,154.7 L591.1,154.8 L590.6,154.9 L590.1,155.0 L589.6,155.1 L589.1,155.2 L588.6,155.3 L588.1,155.5 L587.6,155.7 L587.1,155.8 L586.6,155.8 L586.1,155.9 L585.6,155.9 L585.1,156.0 L584.6,156.2 L584.1,156.3 L583.6,156.4 L583.1,156.5 L582.6,156.6 L582.1,156.6 L581.6,156.8 L581.1,157.0 L580.6,157.1 L580.1,157.2 L579.6,157.3 L579.1,157.3 L578.6,157.4 L578.1,157.5 L577.6,157.7 L577.1,157.8 L576.6,158.0 L576.1,158.1 L575.6,158.2 L575.1,158.2 L574.6,158.3 L574.1,158.4 L573.6,158.5 L573.1,158.6 L572.6,158.7 L572.1,158.8 L571.6,158.9 L571.1,159.0 L570.6,159.1 L570.1,159.2 L569.6,159.3 L569.1,159.4 L568.6,159.6 L568.1,159.7 L567.6,159.8 L567.1,159.9 L566.6,160.0 L566.1,160.2 L565.6,160.3 L565.1,160.5 L564.6,160.6 L564.1,160.7 L563.6,160.8 L563.1,160.9 L562.6,161.0 L562.1,161.0 L561.6,161.1 L561.1,161.2 L560.6,161.3 L560.1,161.5 L559.6,161.7 L559.1,161.9 L558.6,162.0 L558.1,162.1 L557.6,162.1 L557.1,162.2 L556.6,162.3 L556.1,162.4 L555.6,162.5 L555.1,162.6 L554.6,162.7 L554.1,162.9 L553.6,163.0 L553.1,163.1 L552.6,163.2 L552.1,163.3 L551.6,163.4 L551.1,163.6 L550.6,163.8 L550.1,163.9 L549.6,164.1 L549.1,164.1 L548.6,164.2 L548.1,164.3 L547.6,164.4 L547.1,164.5 L546.6,164.6 L546.1,164.8 L545.6,164.9 L545.1,165.0 L544.6,165.1 L544.1,165.2 L543.6,165.4 L543.1,165.5 L542.6,165.6 L542.1,165.7 L541.6,165.9 L541.1,166.0 L540.6,166.1 L540.1,166.2 L539.6,166.3 L539.1,166.5 L538.6,166.6 L538.1,166.7 L537.6,166.8 L537.1,167.0 L536.6,167.1 L536.1,167.2 L535.6,167.4 L535.1,167.5 L534.6,167.6 L534.1,167.7 L533.6,167.8 L533.1,167.9 L532.6,168.1 L532.1,168.3 L531.6,168.4 L531.1,168.6 L530.6,168.7 L530.1,168.8 L529.6,168.9 L529.1,169.0 L528.6,169.2 L528.1,169.3 L527.6,169.4 L527.1,169.5 L526.6,169.6 L526.1,169.8 L525.6,169.9 L525.1,170.1 L524.6,170.2 L524.1,170.3 L523.6,170.4 L523.1,170.5 L522.6,170.7 L522.1,170.8 L521.6,170.9 L521.1,171.0 L520.6,171.2 L520.1,171.3 L519.6,171.4 L519.1,171.6 L518.6,171.7 L518.1,171.8 L517.6,171.9 L517.1,172.1 L516.6,172.3 L516.1,172.4 L515.6,172.6 L515.1,172.7 L514.6,172.8 L514.1,172.9 L513.6,173.0 L513.1,173.1 L512.6,173.3 L512.1,173.4 L511.6,173.6 L511.1,173.8 L510.6,173.9 L510.1,174.0 L509.6,174.1 L509.1,174.2 L508.6,174.3 L508.1,174.5 L507.6,174.6 L507.1,174.8 L506.6,175.0 L506.1,175.1 L505.6,175.2 L505.1,175.3 L504.6,175.4 L504.1,175.5 L503.6,175.6 L503.1,175.8 L502.6,176.0 L502.1,176.2 L501.6,176.4 L501.1,176.4 L500.6,176.5 L500.1,176.6 L499.6,176.8 L499.1,177.0 L498.6,177.1 L498.1,177.2 L497.6,177.3 L497.1,177.4 L496.6,177.6 L496.1,177.8 L495.6,178.0 L495.1,178.1 L494.6,178.2 L494.1,178.3 L493.6,178.4 L493.1,178.5 L492.6,178.6 L492.1,178.8 L491.6,179.0 L491.1,179.1 L490.6,179.3 L490.1,179.4 L489.6,179.5 L489.1,179.6 L488.6,179.8 L488.1,179.9 L487.6,180.0 L487.1,180.2 L486.6,180.3 L486.1,180.5 L485.6,180.6 L485.1,180.7 L484.6,180.9 L484.1,181.0 L483.6,181.2 L483.1,181.4 L482.6,181.6 L482.1,181.7 L481.6,181.8 L481.1,181.9 L480.6,182.0 L480.1,182.1 L479.6,182.2 L479.1,182.4 L478.6,182.6 L478.1,182.8 L477.6,182.9 L477.1,183.0 L476.6,183.1 L476.1,183.2 L475.5,183.4 L475.0,183.5 L474.5,183.7 L474.0,183.9 L473.5,184.0 L473.0,184.2 L472.5,184.3 L472.0,184.4 L471.5,184.5 L471.0,184.7 L470.5,184.8 L470.0,184.9 L469.5,185.0 L469.0,185.2 L468.5,185.4 L468.0,185.6 L467.5,185.8 L467.0,185.8 L466.5,185.9 L466.0,186.0 L465.5,186.2 L465.0,186.3 L464.5,186.5 L464.0,186.7 L463.5,186.9 L463.0,187.1 L462.5,187.2 L462.0,187.3 L461.5,187.4 L461.0,187.5 L460.5,187.6 L460.0,187.7 L459.5,187.8 L459.0,187.9 L458.5,188.1 L458.0,188.2 L457.5,188.4 L457.0,188.6 L456.5,188.7 L456.0,188.9 L455.5,189.0 L455.0,189.1 L454.5,189.3 L454.0,189.4 L453.5,189.5 L453.0,189.7 L452.5,189.8 L452.0,190.0 L451.5,190.2 L451.0,190.3 L450.5,190.5 L450.0,190.6 L449.5,190.7 L449.0,190.8 L448.5,191.0 L448.0,191.1 L447.5,191.3 L447.0,191.5 L446.5,191.6 L446.0,191.7 L445.5,191.8 L445.0,191.9 L444.5,192.0 L444.0,192.2 L443.5,192.4 L443.0,192.6 L442.5,192.7 L442.0,192.8 L441.5,193.0 L441.0,193.1 L440.5,193.2 L440.0,193.3 L439.5,193.5 L439.0,193.6 L438.5,193.8 L438.0,193.9 L437.5,194.1 L437.0,194.2 L436.5,194.3 L436.0,194.5 L435.5,194.6 L435.0,194.8 L434.5,194.9 L434.0,195.0 L433.5,195.2 L433.0,195.4 L432.5,195.6 L432.0,195.7 L431.5,195.8 L431.0,195.9 L430.5,196.0 L430.0,196.1 L429.5,196.3 L429.0,196.5 L428.5,196.7 L428.0,196.8 L427.5,197.0 L427.0,197.1 L426.5,197.2 L426.0,197.3 L425.5,197.5 L425.0,197.6 L424.5,197.7 L424.0,197.8 L423.5,198.0 L423.0,198.2 L422.5,198.4 L422.0,198.6 L421.5,198.7 L421.0,198.8 L420.5,198.9 L420.0,199.0 L419.5,199.1 L419.0,199.3 L418.5,199.4 L418.0,199.5 L417.5,199.7 L417.0,199.8 L416.5,199.9Z" fill="#3a6fe0"/>
<circle cx="416.5" cy="197.3" r="2.1" fill="#3a6fe0"/>
<circle cx="658.7" cy="141.8" r="2.6" fill="#3a6fe0"/>
<path d="M416.5,194.3 L417.0,194.1 L417.5,194.0 L418.0,193.9 L418.5,193.6 L419.0,193.4 L419.5,193.1 L420.0,192.9 L420.5,192.7 L421.0,192.6 L421.5,192.5 L422.0,192.4 L422.5,192.2 L423.0,192.0 L423.5,191.8 L424.0,191.6 L424.5,191.4 L425.0,191.3 L425.5,191.1 L426.0,191.0 L426.5,190.9 L427.0,190.7 L427.5,190.5 L428.0,190.3 L428.5,190.1 L429.0,189.9 L429.5,189.8 L430.0,189.6 L430.5,189.5 L431.0,189.3 L431.5,189.1 L432.0,188.9 L432.5,188.7 L433.0,188.5 L433.5,188.4 L434.0,188.3 L434.5,188.1 L435.0,187.8 L435.5,187.5 L436.0,187.3 L436.5,187.2 L437.0,187.1 L437.5,187.0 L438.0,186.8 L438.5,186.5 L439.0,186.2 L439.5,186.1 L440.0,186.1 L440.5,186.0 L441.0,185.7 L441.5,185.4 L442.0,185.1 L442.5,185.1 L443.0,185.1 L443.5,185.0 L444.0,184.8 L444.5,184.6 L445.0,184.4 L445.5,184.3 L446.0,184.1 L446.5,183.9 L447.0,183.7 L447.5,183.4 L448.0,183.2 L448.5,183.0 L449.0,182.8 L449.5,182.7 L450.0,182.7 L450.5,182.6 L451.0,182.5 L451.5,182.3 L452.0,182.1 L452.5,181.9 L453.0,181.8 L453.5,181.6 L454.0,181.5 L454.5,181.3 L455.0,181.0 L455.5,180.8 L456.0,180.6 L456.5,180.5 L457.0,180.4 L457.5,180.3 L458.0,180.1 L458.5,179.8 L459.0,179.6 L459.5,179.3 L460.0,179.0 L460.5,179.0 L461.0,179.0 L461.5,179.0 L462.0,178.7 L462.5,178.4 L463.0,178.1 L463.5,178.0 L464.0,178.0 L464.5,178.1 L465.0,177.9 L465.5,177.6 L466.0,177.4 L466.5,177.2 L467.0,177.0 L467.5,176.9 L468.0,176.9 L468.5,176.7 L469.0,176.4 L469.5,176.1 L470.0,175.9 L470.5,175.9 L471.0,176.0 L471.5,175.7 L472.0,175.4 L472.5,175.1 L473.0,174.9 L473.5,174.7 L474.0,174.7 L474.5,174.7 L475.0,174.7 L475.5,174.4 L476.1,174.1 L476.6,173.9 L477.1,173.8 L477.6,173.7 L478.1,173.6 L478.6,173.4 L479.1,173.2 L479.6,172.9 L480.1,172.7 L480.6,172.5 L481.1,172.5 L481.6,172.5 L482.1,172.4 L482.6,172.2 L483.1,172.0 L483.6,171.8 L484.1,171.6 L484.6,171.5 L485.1,171.5 L485.6,171.3 L486.1,171.1 L486.6,170.8 L487.1,170.6 L487.6,170.4 L488.1,170.1 L488.6,170.1 L489.1,170.0 L489.6,169.9 L490.1,169.9 L490.6,169.6 L491.1,169.3 L491.6,169.0 L492.1,169.1 L492.6,169.1 L493.1,168.9 L493.6,168.6 L494.1,168.4 L494.6,168.2 L495.1,168.1 L495.6,168.1 L496.1,168.0 L496.6,167.9 L497.1,167.7 L497.6,167.5 L498.1,167.4 L498.6,167.3 L499.1,167.2 L499.6,167.0 L500.1,166.8 L500.6,166.5 L501.1,166.4 L501.6,166.3 L502.1,166.2 L502.6,165.9 L503.1,165.7 L503.6,165.5 L504.1,165.3 L504.6,165.1 L505.1,165.1 L505.6,165.0 L506.1,165.0 L506.6,164.8 L507.1,164.6 L507.6,164.4 L508.1,164.2 L508.6,164.1 L509.1,164.1 L509.6,164.0 L510.1,163.8 L510.6,163.6 L511.1,163.4 L511.6,163.2 L512.1,163.0 L512.6,163.0 L513.1,162.9 L513.6,162.8 L514.1,162.6 L514.6,162.4 L515.1,162.1 L515.6,161.9 L516.1,161.6 L516.6,161.6 L517.1,161.6 L517.6,161.6 L518.1,161.6 L518.6,161.4 L519.1,161.2 L519.6,161.1 L520.1,160.9 L520.6,160.8 L521.1,160.6 L521.6,160.5 L522.1,160.4 L522.6,160.3 L523.1,160.0 L523.6,159.8 L524.1,159.5 L524.6,159.4 L525.1,159.3 L525.6,159.3 L526.1,159.2 L526.6,159.0 L527.1,158.8 L527.6,158.7 L528.1,158.5 L528.6,158.4 L529.1,158.3 L529.6,158.2 L530.1,158.1 L530.6,157.9 L531.1,157.8 L531.6,157.6 L532.1,157.4 L532.6,157.3 L533.1,157.2 L533.6,157.1 L534.1,156.9 L534.6,156.7 L535.1,156.5 L535.6,156.3 L536.1,156.2 L536.6,156.2 L537.1,156.1 L537.6,156.1 L538.1,155.9 L538.6,155.7 L539.1,155.5 L539.6,155.4 L540.1,155.2 L540.6,155.1 L541.1,155.0 L541.6,154.9 L542.1,154.8 L542.6,154.7 L543.1,154.5 L543.6,154.3 L544.1,154.0 L544.6,153.8 L545.1,153.7 L545.6,153.7 L546.1,153.7 L546.6,153.7 L547.1,153.5 L547.6,153.3 L548.1,153.1 L548.6,152.9 L549.1,152.8 L549.6,152.7 L550.1,152.7 L550.6,152.6 L551.1,152.5 L551.6,152.3 L552.1,152.1 L552.6,151.8 L553.1,151.8 L553.6,151.9 L554.1,151.8 L554.6,151.7 L555.1,151.5 L555.6,151.4 L556.1,151.2 L556.6,151.0 L557.1,150.9 L557.6,150.9 L558.1,150.8 L558.6,150.7 L559.1,150.4 L559.6,150.2 L560.1,149.9 L560.6,149.8 L561.1,149.9 L561.6,149.9 L562.1,149.8 L562.6,149.6 L563.1,149.5 L563.6,149.4 L564.1,149.3 L564.6,149.2 L565.1,149.0 L565.6,148.8 L566.1,148.6 L566.6,148.4 L567.1,148.3 L567.6,148.2 L568.1,148.2 L568.6,148.2 L569.1,148.0 L569.6,147.9 L570.1,147.8 L570.6,147.7 L571.1,147.5 L571.6,147.4 L572.1,147.3 L572.6,147.2 L573.1,147.1 L573.6,146.9 L574.1,146.7 L574.6,146.4 L575.1,146.3 L575.6,146.3 L576.1,146.4 L576.6,146.3 L577.1,146.2 L577.6,146.0 L578.1,145.9 L578.6,145.8 L579.1,145.7 L579.6,145.6 L580.1,145.5 L580.6,145.4 L581.1,145.2 L581.6,145.1 L582.1,144.9 L582.6,144.7 L583.1,144.5 L583.6,144.3 L584.1,144.2 L584.6,144.3 L585.1,144.3 L585.6,144.3 L586.1,144.2 L586.6,144.1 L587.1,143.9 L587.6,143.8 L588.1,143.7 L588.6,143.7 L589.1,143.6 L589.6,143.4 L590.1,143.2 L590.6,143.0 L591.1,142.8 L591.6,142.6 L592.1,142.6 L592.6,142.6 L593.1,142.6 L593.6,142.6 L594.2,142.4 L594.7,142.2 L595.2,142.1 L595.7,141.9 L596.2,141.7 L596.7,141.7 L597.2,141.7 L597.7,141.7 L598.2,141.7 L598.7,141.5 L599.2,141.4 L599.7,141.3 L600.2,141.2 L600.7,141.1 L601.2,141.0 L601.7,140.8 L602.2,140.7 L602.7,140.6 L603.2,140.6 L603.7,140.6 L604.2,140.4 L604.7,140.3 L605.2,140.1 L605.7,140.1 L606.2,140.1 L606.7,140.0 L607.2,139.8 L607.7,139.7 L608.2,139.5 L608.7,139.4 L609.2,139.3 L609.7,139.3 L610.2,139.3 L610.7,139.2 L611.2,139.1 L611.7,138.9 L612.2,138.8 L612.7,138.7 L613.2,138.5 L613.7,138.4 L614.2,138.4 L614.7,138.3 L615.2,138.3 L615.7,138.2 L616.2,138.1 L616.7,138.0 L617.2,138.0 L617.7,137.9 L618.2,137.8 L618.7,137.7 L619.2,137.6 L619.7,137.6 L620.2,137.4 L620.7,137.2 L621.2,137.0 L621.7,136.8 L622.2,136.9 L622.7,136.9 L623.2,137.0 L623.7,136.8 L624.2,136.7 L624.7,136.5 L625.2,136.4 L625.7,136.2 L626.2,136.2 L626.7,136.3 L627.2,136.3 L627.7,136.2 L628.2,136.1 L628.7,136.0 L629.2,135.9 L629.7,135.8 L630.2,135.7 L630.7,135.6 L631.2,135.6 L631.7,135.5 L632.2,135.4 L632.7,135.3 L633.2,135.3 L633.7,135.2 L634.2,135.1 L634.7,135.1 L635.2,135.0 L635.7,134.8 L636.2,134.6 L636.7,134.5 L637.2,134.3 L637.7,134.1 L638.2,134.2 L638.7,134.3 L639.2,134.4 L639.7,134.3 L640.2,134.2 L640.7,134.0 L641.2,133.9 L641.7,133.7 L642.2,133.7 L642.7,133.7 L643.2,133.7 L643.7,133.6 L644.2,133.5 L644.7,133.3 L645.2,133.3 L645.7,133.4 L646.2,133.4 L646.7,133.3 L647.2,133.2 L647.7,133.1 L648.2,133.0 L648.7,132.9 L649.2,132.8 L649.7,132.8 L650.2,132.7 L650.7,132.7 L651.2,132.6 L651.7,132.5 L652.2,132.4 L652.7,132.3 L653.2,132.3 L653.7,132.3 L654.2,132.2 L654.7,132.2 L655.2,132.1 L655.7,132.0 L656.2,131.9 L656.7,131.9 L657.2,131.9 L657.7,131.8 L658.2,131.6 L658.7,131.4 L658.7,137.7 L658.2,137.8 L657.7,137.8 L657.2,137.9 L656.7,137.9 L656.2,138.0 L655.7,138.0 L655.2,138.1 L654.7,138.2 L654.2,138.3 L653.7,138.4 L653.2,138.4 L652.7,138.5 L652.2,138.5 L651.7,138.5 L651.2,138.6 L650.7,138.7 L650.2,138.8 L649.7,138.9 L649.2,138.9 L648.7,139.0 L648.2,139.1 L647.7,139.1 L647.2,139.2 L646.7,139.2 L646.2,139.3 L645.7,139.3 L645.2,139.4 L644.7,139.5 L644.2,139.6 L643.7,139.7 L643.2,139.8 L642.7,139.9 L642.2,139.9 L641.7,140.0 L641.2,140.1 L640.7,140.1 L640.2,140.2 L639.7,140.2 L639.2,140.3 L638.7,140.4 L638.2,140.5 L637.7,140.6 L637.2,140.7 L636.7,140.7 L636.2,140.8 L635.7,140.8 L635.2,140.9 L634.7,141.0 L634.2,141.1 L633.7,141.2 L633.2,141.3 L632.7,141.4 L632.2,141.5 L631.7,141.5 L631.2,141.6 L630.7,141.6 L630.2,141.7 L629.7,141.8 L629.2,141.9 L628.7,141.9 L628.2,142.0 L627.7,142.1 L627.2,142.2 L626.7,142.3 L626.2,142.3 L625.7,142.4 L625.2,142.5 L624.7,142.6 L624.2,142.7 L623.7,142.8 L623.2,142.9 L622.7,143.0 L622.2,143.1 L621.7,143.2 L621.2,143.2 L620.7,143.3 L620.2,143.4 L619.7,143.5 L619.2,143.6 L618.7,143.7 L618.2,143.8 L617.7,143.9 L617.2,143.9 L616.7,144.0 L616.2,144.1 L615.7,144.2 L615.2,144.3 L614.7,144.4 L614.2,144.5 L613.7,144.7 L613.2,144.8 L612.7,144.9 L612.2,144.9 L611.7,145.0 L611.2,145.1 L610.7,145.2 L610.2,145.3 L609.7,145.4 L609.2,145.5 L608.7,145.6 L608.2,145.7 L607.7,145.8 L607.2,145.8 L606.7,145.9 L606.2,146.0 L605.7,146.1 L605.2,146.3 L604.7,146.4 L604.2,146.5 L603.7,146.6 L603.2,146.7 L602.7,146.8 L602.2,146.8 L601.7,146.9 L601.2,147.0 L600.7,147.1 L600.2,147.2 L599.7,147.4 L599.2,147.5 L598.7,147.6 L598.2,147.7 L597.7,147.7 L597.2,147.8 L596.7,147.9 L596.2,148.0 L595.7,148.1 L595.2,148.2 L594.7,148.3 L594.2,148.5 L593.6,148.6 L593.1,148.7 L592.6,148.8 L592.1,148.9 L591.6,149.0 L591.1,149.1 L590.6,149.2 L590.1,149.3 L589.6,149.4 L589.1,149.5 L588.6,149.6 L588.1,149.7 L587.6,149.8 L587.1,149.9 L586.6,150.0 L586.1,150.1 L585.6,150.2 L585.1,150.3 L584.6,150.4 L584.1,150.5 L583.6,150.6 L583.1,150.8 L582.6,151.0 L582.1,151.2 L581.6,151.3 L581.1,151.4 L580.6,151.5 L580.1,151.5 L579.6,151.6 L579.1,151.7 L578.6,151.8 L578.1,151.9 L577.6,152.1 L577.1,152.3 L576.6,152.4 L576.1,152.5 L575.6,152.6 L575.1,152.7 L574.6,152.8 L574.1,152.9 L573.6,152.9 L573.1,153.0 L572.6,153.2 L572.1,153.4 L571.6,153.5 L571.1,153.7 L570.6,153.8 L570.1,153.9 L569.6,154.0 L569.1,154.1 L568.6,154.2 L568.1,154.3 L567.6,154.3 L567.1,154.5 L566.6,154.7 L566.1,154.8 L565.6,155.0 L565.1,155.1 L564.6,155.2 L564.1,155.3 L563.6,155.4 L563.1,155.5 L562.6,155.6 L562.1,155.7 L561.6,155.8 L561.1,156.0 L560.6,156.1 L560.1,156.2 L559.6,156.4 L559.1,156.5 L558.6,156.6 L558.1,156.7 L557.6,156.8 L557.1,156.9 L556.6,157.1 L556.1,157.3 L555.6,157.5 L555.1,157.6 L554.6,157.7 L554.1,157.8 L553.6,157.9 L553.1,158.0 L552.6,158.0 L552.1,158.2 L551.6,158.4 L551.1,158.6 L550.6,158.7 L550.1,158.8 L549.6,158.9 L549.1,159.0 L548.6,159.1 L548.1,159.2 L547.6,159.4 L547.1,159.6 L546.6,159.7 L546.1,159.9 L545.6,160.0 L545.1,160.1 L544.6,160.2 L544.1,160.4 L543.6,160.5 L543.1,160.6 L542.6,160.7 L542.1,160.8 L541.6,161.0 L541.1,161.2 L540.6,161.3 L540.1,161.5 L539.6,161.6 L539.1,161.7 L538.6,161.8 L538.1,162.0 L537.6,162.1 L537.1,162.2 L536.6,162.3 L536.1,162.5 L535.6,162.6 L535.1,162.8 L534.6,163.0 L534.1,163.1 L533.6,163.2 L533.1,163.3 L532.6,163.4 L532.1,163.5 L531.6,163.7 L531.1,163.9 L530.6,164.1 L530.1,164.2 L529.6,164.3 L529.1,164.4 L528.6,164.5 L528.1,164.7 L527.6,164.8 L527.1,164.9 L526.6,165.1 L526.1,165.3 L525.6,165.5 L525.1,165.6 L524.6,165.8 L524.1,165.9 L523.6,166.0 L523.1,166.1 L522.6,166.2 L522.1,166.3 L521.6,166.5 L521.1,166.6 L520.6,166.8 L520.1,167.0 L519.6,167.1 L519.1,167.2 L518.6,167.4 L518.1,167.5 L517.6,167.6 L517.1,167.8 L516.6,168.0 L516.1,168.1 L515.6,168.3 L515.1,168.4 L514.6,168.6 L514.1,168.7 L513.6,168.8 L513.1,168.9 L512.6,169.1 L512.1,169.2 L511.6,169.4 L511.1,169.6 L510.6,169.8 L510.1,169.9 L509.6,170.0 L509.1,170.1 L508.6,170.2 L508.1,170.3 L507.6,170.5 L507.1,170.7 L506.6,170.9 L506.1,171.0 L505.6,171.1 L505.1,171.3 L504.6,171.4 L504.1,171.5 L503.6,171.8 L503.1,172.0 L502.6,172.1 L502.1,172.3 L501.6,172.4 L501.1,172.5 L500.6,172.6 L500.1,172.8 L499.6,173.0 L499.1,173.1 L498.6,173.3 L498.1,173.5 L497.6,173.7 L497.1,173.8 L496.6,173.9 L496.1,174.1 L495.6,174.2 L495.1,174.3 L494.6,174.5 L494.1,174.6 L493.6,174.8 L493.1,175.0 L492.6,175.1 L492.1,175.3 L491.6,175.4 L491.1,175.5 L490.6,175.7 L490.1,175.8 L489.6,176.0 L489.1,176.2 L488.6,176.3 L488.1,176.5 L487.6,176.6 L487.1,176.8 L486.6,176.9 L486.1,177.1 L485.6,177.2 L485.1,177.4 L484.6,177.6 L484.1,177.7 L483.6,177.9 L483.1,178.0 L482.6,178.2 L482.1,178.3 L481.6,178.5 L481.1,178.6 L480.6,178.8 L480.1,179.0 L479.6,179.2 L479.1,179.4 L478.6,179.5 L478.1,179.7 L477.6,179.8 L477.1,179.9 L476.6,180.0 L476.1,180.2 L475.5,180.4 L475.0,180.6 L474.5,180.7 L474.0,180.9 L473.5,181.0 L473.0,181.2 L472.5,181.4 L472.0,181.6 L471.5,181.8 L471.0,182.0 L470.5,182.1 L470.0,182.2 L469.5,182.4 L469.0,182.5 L468.5,182.6 L468.0,182.8 L467.5,183.0 L467.0,183.1 L466.5,183.3 L466.0,183.5 L465.5,183.7 L465.0,183.8 L464.5,184.0 L464.0,184.1 L463.5,184.3 L463.0,184.4 L462.5,184.6 L462.0,184.7 L461.5,184.9 L461.0,185.1 L460.5,185.3 L460.0,185.4 L459.5,185.6 L459.0,185.8 L458.5,185.9 L458.0,186.1 L457.5,186.3 L457.0,186.4 L456.5,186.6 L456.0,186.8 L455.5,187.0 L455.0,187.2 L454.5,187.3 L454.0,187.5 L453.5,187.6 L453.0,187.7 L452.5,187.9 L452.0,188.1 L451.5,188.3 L451.0,188.5 L450.5,188.7 L450.0,188.9 L449.5,189.0 L449.0,189.2 L448.5,189.3 L448.0,189.4 L447.5,189.6 L447.0,189.7 L446.5,189.9 L446.0,190.1 L445.5,190.3 L445.0,190.5 L444.5,190.7 L444.0,190.8 L443.5,191.0 L443.0,191.1 L442.5,191.3 L442.0,191.5 L441.5,191.7 L441.0,191.9 L440.5,192.1 L440.0,192.3 L439.5,192.4 L439.0,192.6 L438.5,192.7 L438.0,192.9 L437.5,193.0 L437.0,193.2 L436.5,193.3 L436.0,193.5 L435.5,193.7 L435.0,193.9 L434.5,194.1 L434.0,194.3 L433.5,194.4 L433.0,194.6 L432.5,194.7 L432.0,194.9 L431.5,195.1 L431.0,195.3 L430.5,195.5 L430.0,195.6 L429.5,195.8 L429.0,196.0 L428.5,196.1 L428.0,196.3 L427.5,196.4 L427.0,196.6 L426.5,196.8 L426.0,197.0 L425.5,197.2 L425.0,197.3 L424.5,197.5 L424.0,197.6 L423.5,197.8 L423.0,198.0 L422.5,198.3 L422.0,198.5 L421.5,198.6 L421.0,198.8 L420.5,198.9 L420.0,199.0 L419.5,199.2 L419.0,199.4 L418.5,199.6 L418.0,199.8 L417.5,200.0 L417.0,200.1 L416.5,200.3Z" fill="#44b06a"/>
<circle cx="416.5" cy="197.3" r="2.3" fill="#44b06a"/>
<circle cx="658.7" cy="134.7" r="2.9" fill="#44b06a"/>
<path d="M416.5,193.0 L417.0,192.0 L417.5,190.9 L418.0,189.9 L418.5,189.8 L419.0,189.6 L419.5,189.5 L420.0,188.9 L420.5,188.1 L421.0,187.3 L421.5,186.6 L422.0,186.0 L422.5,185.6 L423.0,185.3 L423.5,184.5 L424.0,183.4 L424.5,182.2 L425.0,181.2 L425.5,181.5 L426.0,181.7 L426.5,181.1 L427.0,180.4 L427.5,179.6 L428.0,178.9 L428.5,178.1 L429.0,177.5 L429.5,177.1 L430.0,176.7 L430.5,176.4 L431.0,175.7 L431.5,174.8 L432.0,173.9 L432.5,173.0 L433.0,172.8 L433.5,172.8 L434.0,172.3 L434.5,171.1 L435.0,169.9 L435.5,169.3 L436.0,169.6 L436.5,169.5 L437.0,168.6 L437.5,167.8 L438.0,167.0 L438.5,166.6 L439.0,166.3 L439.5,166.0 L440.0,165.1 L440.5,164.2 L441.0,163.3 L441.5,162.4 L442.0,162.2 L442.5,162.1 L443.0,162.0 L443.5,161.0 L444.0,160.0 L444.5,159.0 L445.0,158.0 L445.5,158.0 L446.0,158.2 L446.5,158.0 L447.0,157.0 L447.5,156.0 L448.1,155.0 L448.6,155.2 L449.1,155.4 L449.6,154.9 L450.1,154.3 L450.6,153.8 L451.1,153.2 L451.6,152.6 L452.1,152.1 L452.6,151.7 L453.1,151.3 L453.6,150.8 L454.1,150.3 L454.6,149.8 L455.1,149.3 L455.6,148.8 L456.1,148.3 L456.6,147.9 L457.1,147.6 L457.6,147.2 L458.1,146.5 L458.6,145.7 L459.1,144.9 L459.6,144.1 L460.1,143.3 L460.6,142.5 L461.1,142.4 L461.6,142.4 L462.1,142.3 L462.6,142.1 L463.1,141.5 L463.6,140.8 L464.1,140.1 L464.6,139.8 L465.1,139.6 L465.6,139.1 L466.1,138.5 L466.6,137.8 L467.1,137.1 L467.6,136.5 L468.1,136.0 L468.6,135.8 L469.1,135.6 L469.6,135.5 L470.1,134.8 L470.6,134.0 L471.1,133.2 L471.6,132.4 L472.1,131.6 L472.6,130.8 L473.1,130.9 L473.6,130.9 L474.1,131.0 L474.6,130.8 L475.1,130.1 L475.6,129.4 L476.1,128.6 L476.6,127.9 L477.1,127.2 L477.6,126.8 L478.1,126.7 L478.6,126.6 L479.1,126.5 L479.6,125.8 L480.1,125.0 L480.6,124.2 L481.1,123.4 L481.6,122.6 L482.1,122.6 L482.6,122.7 L483.1,122.8 L483.6,122.6 L484.1,122.1 L484.6,121.6 L485.1,121.1 L485.6,120.6 L486.1,120.1 L486.6,119.8 L487.1,119.5 L487.6,119.2 L488.1,118.7 L488.6,118.0 L489.1,117.2 L489.6,116.5 L490.1,115.7 L490.6,115.6 L491.1,115.8 L491.6,115.9 L492.1,115.5 L492.6,114.9 L493.1,114.2 L493.6,113.6 L494.1,113.0 L494.6,112.4 L495.1,112.3 L495.6,112.3 L496.1,112.3 L496.6,112.1 L497.1,111.6 L497.6,111.0 L498.1,110.4 L498.6,110.1 L499.1,109.9 L499.6,109.6 L500.1,108.9 L500.6,108.1 L501.1,107.4 L501.6,107.6 L502.1,107.8 L502.6,107.3 L503.1,106.6 L503.6,105.9 L504.1,105.2 L504.6,104.8 L505.1,104.8 L505.6,104.8 L506.1,104.6 L506.6,104.2 L507.1,103.8 L507.6,103.4 L508.1,103.0 L508.6,102.6 L509.1,102.2 L509.6,101.8 L510.2,101.5 L510.7,101.1 L511.2,100.5 L511.7,99.9 L512.2,99.2 L512.7,98.6 L513.2,98.5 L513.7,98.5 L514.2,98.6 L514.7,98.2 L515.2,97.7 L515.7,97.2 L516.2,96.7 L516.7,96.2 L517.2,95.8 L517.7,95.7 L518.2,95.6 L518.7,95.5 L519.2,95.2 L519.7,94.8 L520.2,94.4 L520.7,94.0 L521.2,93.6 L521.7,93.2 L522.2,92.8 L522.7,92.6 L523.2,92.3 L523.7,92.0 L524.2,91.7 L524.7,91.3 L525.2,90.9 L525.7,90.5 L526.2,90.2 L526.7,89.9 L527.2,89.6 L527.7,89.3 L528.2,88.8 L528.7,88.0 L529.2,87.3 L529.7,86.6 L530.2,85.9 L530.7,85.8 L531.2,86.1 L531.7,86.4 L532.2,86.5 L532.7,85.9 L533.2,85.4 L533.7,84.9 L534.2,84.3 L534.7,83.8 L535.2,83.4 L535.7,83.4 L536.2,83.3 L536.7,83.3 L537.2,83.2 L537.7,82.8 L538.2,82.5 L538.7,82.1 L539.2,81.7 L539.7,81.4 L540.2,81.1 L540.7,80.8 L541.2,80.5 L541.7,80.2 L542.2,79.8 L542.7,79.3 L543.2,78.9 L543.7,78.4 L544.2,78.0 L544.7,77.9 L545.2,77.7 L545.7,77.6 L546.2,77.2 L546.7,76.7 L547.2,76.2 L547.7,75.6 L548.2,75.5 L548.7,75.6 L549.2,75.7 L549.7,75.4 L550.2,75.0 L550.7,74.5 L551.2,74.1 L551.7,73.7 L552.2,73.5 L552.7,73.4 L553.2,73.3 L553.7,73.1 L554.2,72.5 L554.7,71.9 L555.2,71.3 L555.7,70.7 L556.2,70.7 L556.7,70.8 L557.2,70.9 L557.7,70.2 L558.2,69.5 L558.7,68.7 L559.2,68.2 L559.7,68.6 L560.2,69.1 L560.7,69.0 L561.2,68.6 L561.7,68.1 L562.2,67.6 L562.7,67.2 L563.2,67.2 L563.7,67.1 L564.2,67.1 L564.7,66.5 L565.2,66.0 L565.7,65.5 L566.2,64.9 L566.7,64.4 L567.2,63.9 L567.7,64.0 L568.2,64.1 L568.7,64.1 L569.2,64.1 L569.7,63.6 L570.2,63.2 L570.7,62.8 L571.2,62.4 L571.7,62.5 L572.3,62.6 L572.8,62.3 L573.3,61.7 L573.8,61.1 L574.3,60.5 L574.8,59.9 L575.3,59.9 L575.8,60.0 L576.3,60.1 L576.8,59.7 L577.3,59.0 L577.8,58.3 L578.3,58.1 L578.8,58.5 L579.3,58.6 L579.8,58.3 L580.3,58.1 L580.8,57.8 L581.3,57.5 L581.8,57.4 L582.3,57.2 L582.8,57.1 L583.3,56.7 L583.8,56.2 L584.3,55.7 L584.8,55.5 L585.3,55.4 L585.8,55.0 L586.3,54.5 L586.8,54.0 L587.3,53.5 L587.8,52.9 L588.3,53.0 L588.8,53.1 L589.3,53.3 L589.8,53.0 L590.3,52.6 L590.8,52.1 L591.3,51.6 L591.8,51.2 L592.3,50.7 L592.8,50.7 L593.3,50.8 L593.8,50.9 L594.3,50.9 L594.8,50.4 L595.3,49.8 L595.8,49.2 L596.3,48.7 L596.8,48.3 L597.3,48.5 L597.8,48.7 L598.3,48.9 L598.8,48.6 L599.3,48.2 L599.8,47.9 L600.3,47.5 L600.8,47.1 L601.3,47.0 L601.8,46.9 L602.3,46.8 L602.8,46.4 L603.3,45.8 L603.8,45.2 L604.3,44.6 L604.8,44.2 L605.3,44.6 L605.8,45.0 L606.3,45.2 L606.8,44.8 L607.3,44.4 L607.8,44.0 L608.3,43.8 L608.8,43.5 L609.3,43.2 L609.8,42.7 L610.3,42.3 L610.8,41.8 L611.3,41.3 L611.8,40.8 L612.3,40.8 L612.8,41.0 L613.3,41.1 L613.8,41.3 L614.3,40.8 L614.8,40.2 L615.3,39.6 L615.8,39.1 L616.3,38.5 L616.8,38.2 L617.3,38.4 L617.8,38.7 L618.3,38.9 L618.8,38.6 L619.3,38.2 L619.8,37.7 L620.3,37.3 L620.8,37.4 L621.3,37.4 L621.8,37.2 L622.3,36.7 L622.8,36.2 L623.3,35.7 L623.8,35.5 L624.3,35.6 L624.8,35.7 L625.3,35.5 L625.8,35.2 L626.3,34.9 L626.8,34.6 L627.3,34.3 L627.8,34.1 L628.3,33.9 L628.8,33.7 L629.3,33.5 L629.8,33.3 L630.3,32.9 L630.8,32.6 L631.3,32.2 L631.8,32.1 L632.3,31.9 L632.8,31.3 L633.3,30.7 L633.8,30.0 L634.4,29.4 L634.9,29.1 L635.4,29.5 L635.9,29.9 L636.4,30.2 L636.9,29.6 L637.4,29.0 L637.9,28.6 L638.4,28.8 L638.9,28.8 L639.4,28.2 L639.9,27.6 L640.4,27.0 L640.9,26.4 L641.4,25.8 L641.9,25.5 L642.4,25.8 L642.9,26.1 L643.4,26.4 L643.9,26.5 L644.4,26.1 L644.9,25.8 L645.4,25.4 L645.9,25.1 L646.4,25.0 L646.9,24.8 L647.4,24.6 L647.9,24.3 L648.4,23.9 L648.9,23.5 L649.4,23.5 L649.9,23.6 L650.4,23.3 L650.9,22.5 L651.4,21.6 L651.9,21.3 L652.4,21.9 L652.9,22.2 L653.4,21.8 L653.9,21.5 L654.4,21.1 L654.9,20.8 L655.4,20.4 L655.9,20.1 L656.4,19.9 L656.9,19.7 L657.4,19.5 L657.9,19.2 L658.4,19.0 L658.9,18.7 L659.4,18.5 L659.9,18.3 L660.4,18.1 L660.4,25.6 L659.9,25.9 L659.4,26.2 L658.9,26.5 L658.4,26.8 L657.9,27.0 L657.4,27.2 L656.9,27.4 L656.4,27.6 L655.9,27.8 L655.4,28.0 L654.9,28.2 L654.4,28.4 L653.9,28.8 L653.4,29.1 L652.9,29.5 L652.4,29.9 L651.9,30.2 L651.4,30.3 L650.9,30.5 L650.4,30.6 L649.9,30.8 L649.4,31.0 L648.9,31.2 L648.4,31.6 L647.9,32.0 L647.4,32.5 L646.9,32.9 L646.4,33.4 L645.9,33.6 L645.4,33.7 L644.9,33.9 L644.4,34.0 L643.9,34.1 L643.4,34.3 L642.9,34.4 L642.4,34.5 L641.9,34.8 L641.4,35.3 L640.9,35.8 L640.4,36.2 L639.9,36.5 L639.4,36.6 L638.9,36.7 L638.4,36.8 L637.9,36.9 L637.4,37.0 L636.9,37.1 L636.4,37.4 L635.9,37.8 L635.4,38.1 L634.9,38.3 L634.4,38.5 L633.8,38.7 L633.3,38.8 L632.8,39.1 L632.3,39.4 L631.8,39.7 L631.3,40.0 L630.8,40.3 L630.3,40.5 L629.8,40.8 L629.3,41.0 L628.8,41.4 L628.3,41.8 L627.8,42.2 L627.3,42.5 L626.8,42.9 L626.3,43.1 L625.8,43.3 L625.3,43.4 L624.8,43.6 L624.3,43.7 L623.8,43.9 L623.3,44.0 L622.8,44.2 L622.3,44.6 L621.8,44.9 L621.3,45.2 L620.8,45.5 L620.3,45.7 L619.8,45.9 L619.3,46.1 L618.8,46.2 L618.3,46.4 L617.8,46.6 L617.3,46.8 L616.8,47.0 L616.3,47.4 L615.8,47.9 L615.3,48.3 L614.8,48.6 L614.3,48.8 L613.8,48.9 L613.3,49.1 L612.8,49.2 L612.3,49.4 L611.8,49.8 L611.3,50.4 L610.8,51.0 L610.3,50.9 L609.8,50.9 L609.3,50.8 L608.8,50.9 L608.3,51.4 L607.8,51.8 L607.3,52.3 L606.8,52.5 L606.3,52.6 L605.8,52.8 L605.3,52.9 L604.8,53.1 L604.3,53.3 L603.8,53.6 L603.3,53.9 L602.8,54.2 L602.3,54.5 L601.8,54.7 L601.3,54.9 L600.8,55.2 L600.3,55.4 L599.8,55.6 L599.3,55.8 L598.8,56.1 L598.3,56.3 L597.8,56.6 L597.3,56.9 L596.8,57.2 L596.3,57.5 L595.8,57.7 L595.3,57.9 L594.8,58.2 L594.3,58.4 L593.8,58.7 L593.3,58.9 L592.8,59.2 L592.3,59.4 L591.8,59.7 L591.3,59.9 L590.8,60.1 L590.3,60.4 L589.8,60.7 L589.3,61.1 L588.8,61.5 L588.3,61.8 L587.8,62.0 L587.3,62.2 L586.8,62.4 L586.3,62.6 L585.8,62.8 L585.3,62.9 L584.8,63.3 L584.3,63.8 L583.8,64.4 L583.3,64.6 L582.8,64.7 L582.3,64.8 L581.8,64.9 L581.3,65.0 L580.8,65.3 L580.3,65.7 L579.8,66.0 L579.3,66.4 L578.8,66.6 L578.3,66.8 L577.8,67.1 L577.3,67.3 L576.8,67.5 L576.3,67.7 L575.8,68.0 L575.3,68.4 L574.8,68.8 L574.3,69.2 L573.8,69.6 L573.3,69.9 L572.8,70.1 L572.3,70.3 L571.7,70.5 L571.2,70.8 L570.7,71.0 L570.2,71.2 L569.7,71.4 L569.2,71.7 L568.7,72.2 L568.2,72.6 L567.7,73.0 L567.2,73.1 L566.7,73.3 L566.2,73.5 L565.7,73.6 L565.2,74.0 L564.7,74.6 L564.2,75.1 L563.7,75.3 L563.2,75.3 L562.7,75.4 L562.2,75.5 L561.7,75.9 L561.2,76.3 L560.7,76.8 L560.2,77.3 L559.7,77.7 L559.2,77.9 L558.7,78.0 L558.2,78.2 L557.7,78.4 L557.2,78.5 L556.7,78.7 L556.2,78.8 L555.7,79.2 L555.2,79.6 L554.7,80.0 L554.2,80.3 L553.7,80.6 L553.2,80.9 L552.7,81.1 L552.2,81.4 L551.7,81.6 L551.2,81.9 L550.7,82.4 L550.2,82.9 L549.7,83.4 L549.2,83.6 L548.7,83.8 L548.2,84.0 L547.7,84.2 L547.2,84.4 L546.7,85.0 L546.2,85.5 L545.7,85.9 L545.2,86.1 L544.7,86.2 L544.2,86.4 L543.7,86.5 L543.2,86.9 L542.7,87.4 L542.2,87.9 L541.7,88.1 L541.2,88.2 L540.7,88.4 L540.2,88.5 L539.7,89.1 L539.2,89.6 L538.7,90.1 L538.2,90.6 L537.7,91.0 L537.2,91.2 L536.7,91.4 L536.2,91.6 L535.7,91.8 L535.2,92.0 L534.7,92.2 L534.2,92.6 L533.7,93.2 L533.2,93.7 L532.7,94.2 L532.2,94.3 L531.7,94.5 L531.2,94.6 L530.7,94.8 L530.2,95.1 L529.7,95.6 L529.2,96.1 L528.7,96.6 L528.2,97.1 L527.7,97.5 L527.2,97.7 L526.7,98.0 L526.2,98.2 L525.7,98.4 L525.2,98.7 L524.7,98.9 L524.2,99.1 L523.7,99.5 L523.2,99.8 L522.7,100.2 L522.2,100.5 L521.7,100.9 L521.2,101.2 L520.7,101.5 L520.2,101.9 L519.7,102.2 L519.2,102.6 L518.7,102.9 L518.2,103.3 L517.7,103.6 L517.2,104.1 L516.7,104.6 L516.2,105.1 L515.7,105.6 L515.2,105.8 L514.7,106.0 L514.2,106.3 L513.7,106.5 L513.2,106.7 L512.7,107.1 L512.2,107.5 L511.7,107.9 L511.2,108.3 L510.7,108.7 L510.2,109.0 L509.6,109.4 L509.1,109.8 L508.6,110.2 L508.1,110.7 L507.6,111.3 L507.1,111.9 L506.6,112.4 L506.1,112.7 L505.6,113.0 L505.1,113.2 L504.6,113.5 L504.1,113.7 L503.6,113.9 L503.1,114.3 L502.6,114.7 L502.1,115.2 L501.6,115.7 L501.1,116.1 L500.6,116.6 L500.1,116.9 L499.6,117.2 L499.1,117.6 L498.6,117.9 L498.1,118.2 L497.6,118.6 L497.1,118.9 L496.6,119.3 L496.1,119.8 L495.6,120.3 L495.1,120.8 L494.6,121.3 L494.1,121.6 L493.6,122.0 L493.1,122.3 L492.6,122.7 L492.1,123.1 L491.6,123.4 L491.1,123.9 L490.6,124.6 L490.1,125.2 L489.6,125.8 L489.1,126.3 L488.6,126.6 L488.1,126.9 L487.6,127.1 L487.1,127.4 L486.6,127.6 L486.1,127.9 L485.6,128.4 L485.1,129.0 L484.6,129.7 L484.1,130.3 L483.6,130.9 L483.1,131.2 L482.6,131.5 L482.1,131.9 L481.6,132.2 L481.1,132.5 L480.6,132.9 L480.1,133.2 L479.6,133.6 L479.1,134.1 L478.6,134.5 L478.1,135.0 L477.6,135.4 L477.1,135.8 L476.6,136.2 L476.1,136.6 L475.6,137.2 L475.1,137.8 L474.6,138.4 L474.1,139.0 L473.6,139.6 L473.1,140.1 L472.6,140.5 L472.1,140.9 L471.6,141.2 L471.1,141.6 L470.6,142.0 L470.1,142.4 L469.6,142.7 L469.1,143.2 L468.6,143.7 L468.1,144.3 L467.6,144.9 L467.1,145.3 L466.6,145.7 L466.1,146.1 L465.6,146.5 L465.1,147.0 L464.6,147.4 L464.1,148.0 L463.6,148.7 L463.1,149.3 L462.6,149.9 L462.1,150.3 L461.6,150.7 L461.1,151.0 L460.6,151.4 L460.1,151.8 L459.6,152.3 L459.1,152.8 L458.6,153.4 L458.1,153.9 L457.6,154.4 L457.1,154.9 L456.6,155.3 L456.1,155.8 L455.6,156.3 L455.1,156.8 L454.6,157.2 L454.1,157.8 L453.6,158.5 L453.1,159.2 L452.6,159.9 L452.1,160.3 L451.6,160.7 L451.1,161.1 L450.6,161.4 L450.1,161.8 L449.6,162.4 L449.1,163.1 L448.6,163.7 L448.1,164.4 L447.5,165.0 L447.0,165.6 L446.5,166.0 L446.0,166.5 L445.5,166.9 L445.0,167.4 L444.5,167.9 L444.0,168.3 L443.5,168.8 L443.0,169.5 L442.5,170.3 L442.0,171.1 L441.5,171.8 L441.0,172.1 L440.5,172.5 L440.0,172.9 L439.5,173.3 L439.0,173.8 L438.5,174.6 L438.0,175.4 L437.5,176.1 L437.0,176.9 L436.5,177.4 L436.0,177.8 L435.5,178.2 L435.0,178.7 L434.5,179.1 L434.0,179.5 L433.5,180.0 L433.0,180.6 L432.5,181.3 L432.0,181.9 L431.5,182.5 L431.0,183.1 L430.5,183.7 L430.0,184.3 L429.5,184.9 L429.0,185.5 L428.5,186.1 L428.0,186.7 L427.5,187.3 L427.0,188.0 L426.5,188.6 L426.0,189.3 L425.5,189.9 L425.0,190.5 L424.5,191.1 L424.0,191.7 L423.5,192.3 L423.0,192.8 L422.5,193.4 L422.0,194.0 L421.5,194.6 L421.0,195.1 L420.5,195.9 L420.0,196.7 L419.5,197.5 L419.0,198.4 L418.5,199.0 L418.0,199.5 L417.5,200.0 L417.0,200.5 L416.5,201.0Z" fill="#a66ef0"/>
<circle cx="416.5" cy="197.3" r="2.7" fill="#a66ef0"/>
<circle cx="660.4" cy="21.9" r="3.4" fill="#a66ef0"/>
<path d="M416.5,193.6 L417.0,193.0 L417.5,192.4 L418.0,192.3 L418.5,192.4 L419.0,192.5 L419.5,191.8 L420.0,191.2 L420.5,190.5 L421.0,189.8 L421.5,189.1 L422.0,188.6 L422.5,188.8 L423.0,189.0 L423.5,189.3 L424.0,189.3 L424.5,188.8 L425.0,188.2 L425.5,187.7 L426.0,187.8 L426.5,187.8 L427.0,187.1 L427.5,186.5 L428.0,185.8 L428.5,185.2 L429.0,184.6 L429.5,184.2 L430.0,184.3 L430.5,184.4 L431.0,184.6 L431.5,184.2 L432.0,183.4 L432.5,182.7 L433.0,182.4 L433.5,182.8 L434.0,182.9 L434.5,182.2 L435.0,181.5 L435.5,180.9 L436.0,180.2 L436.5,179.9 L437.0,180.3 L437.5,180.7 L438.0,180.9 L438.5,180.1 L439.0,179.3 L439.5,178.5 L440.0,178.4 L440.5,178.6 L441.0,178.7 L441.5,178.3 L442.0,177.9 L442.5,177.5 L443.0,177.1 L443.5,176.8 L444.0,176.7 L444.5,176.6 L445.0,176.5 L445.5,176.2 L446.0,175.8 L446.5,175.5 L447.0,175.1 L447.5,174.8 L448.1,174.6 L448.6,174.4 L449.1,174.3 L449.6,174.1 L450.1,173.6 L450.6,173.2 L451.1,172.8 L451.6,172.5 L452.1,172.4 L452.6,172.3 L453.1,171.8 L453.6,171.4 L454.1,170.9 L454.6,170.7 L455.1,170.7 L455.6,170.7 L456.1,170.4 L456.6,170.0 L457.1,169.7 L457.6,169.3 L458.1,168.9 L458.6,168.7 L459.1,168.4 L459.6,168.2 L460.1,167.9 L460.6,167.6 L461.1,167.2 L461.6,166.9 L462.1,166.7 L462.6,166.4 L463.1,165.7 L463.6,165.0 L464.1,164.3 L464.6,163.7 L465.1,164.1 L465.6,164.5 L466.1,164.5 L466.6,164.1 L467.1,163.8 L467.6,163.5 L468.1,163.2 L468.6,162.9 L469.1,162.7 L469.6,162.6 L470.1,162.4 L470.6,162.1 L471.1,161.3 L471.6,160.4 L472.1,159.6 L472.6,160.0 L473.1,160.5 L473.6,160.3 L474.1,159.9 L474.6,159.4 L475.1,159.0 L475.6,158.6 L476.1,158.6 L476.6,158.7 L477.1,158.7 L477.6,158.4 L478.1,158.0 L478.6,157.5 L479.1,157.0 L479.6,156.5 L480.1,156.2 L480.6,156.2 L481.1,156.2 L481.6,156.2 L482.1,156.0 L482.6,155.5 L483.1,155.1 L483.6,154.8 L484.1,154.9 L484.6,155.0 L485.1,154.6 L485.6,154.0 L486.1,153.5 L486.6,153.0 L487.1,152.4 L487.6,152.4 L488.1,152.5 L488.6,152.7 L489.1,152.7 L489.6,152.2 L490.1,151.8 L490.6,151.4 L491.1,151.0 L491.6,150.6 L492.1,150.5 L492.6,150.4 L493.1,150.3 L493.6,150.3 L494.1,149.8 L494.6,149.4 L495.1,148.9 L495.6,148.7 L496.1,148.6 L496.6,148.5 L497.1,148.2 L497.6,147.9 L498.1,147.6 L498.6,147.3 L499.1,147.2 L499.6,147.2 L500.1,146.8 L500.6,146.1 L501.1,145.3 L501.6,144.6 L502.1,144.7 L502.6,145.2 L503.1,145.7 L503.6,145.4 L504.1,145.1 L504.6,144.8 L505.1,144.5 L505.6,144.1 L506.1,143.8 L506.6,143.6 L507.1,143.4 L507.6,143.1 L508.1,142.9 L508.6,142.6 L509.1,142.3 L509.6,142.0 L510.2,141.7 L510.7,141.4 L511.2,141.3 L511.7,141.3 L512.2,141.2 L512.7,140.9 L513.2,140.5 L513.7,140.1 L514.2,139.7 L514.7,139.7 L515.2,139.8 L515.7,139.6 L516.2,138.9 L516.7,138.1 L517.2,137.4 L517.7,136.9 L518.2,137.3 L518.7,137.7 L519.2,137.7 L519.7,137.5 L520.2,137.3 L520.7,137.0 L521.2,136.8 L521.7,136.5 L522.2,136.4 L522.7,136.3 L523.2,136.2 L523.7,136.1 L524.2,135.8 L524.7,135.5 L525.2,135.2 L525.7,134.9 L526.2,134.7 L526.7,134.4 L527.2,134.2 L527.7,134.0 L528.2,133.8 L528.7,133.4 L529.2,132.8 L529.7,132.1 L530.2,131.4 L530.7,131.4 L531.2,132.1 L531.7,132.7 L532.2,132.3 L532.7,131.9 L533.2,131.5 L533.7,131.1 L534.2,130.7 L534.7,130.6 L535.2,130.6 L535.7,130.7 L536.2,130.7 L536.7,129.9 L537.2,129.1 L537.7,128.3 L538.2,128.8 L538.7,129.5 L539.2,129.0 L539.7,128.5 L540.2,128.1 L540.7,127.8 L541.2,127.9 L541.7,128.0 L542.2,127.5 L542.7,127.1 L543.2,126.6 L543.7,126.4 L544.2,126.8 L544.7,127.2 L545.2,126.5 L545.7,125.8 L546.2,125.1 L546.7,124.9 L547.2,125.3 L547.7,125.7 L548.2,125.4 L548.7,125.2 L549.2,124.9 L549.7,124.8 L550.2,124.8 L550.7,124.8 L551.2,124.4 L551.7,123.9 L552.2,123.4 L552.7,123.0 L553.2,122.7 L553.7,122.8 L554.2,123.0 L554.7,123.2 L555.2,122.6 L555.7,122.0 L556.2,121.4 L556.7,121.2 L557.2,121.5 L557.7,121.8 L558.2,121.4 L558.7,121.0 L559.2,120.6 L559.7,120.2 L560.2,119.8 L560.7,119.8 L561.2,120.0 L561.7,120.2 L562.2,120.4 L562.7,119.7 L563.2,119.0 L563.7,118.2 L564.2,118.6 L564.7,119.1 L565.2,119.1 L565.7,118.9 L566.2,118.6 L566.7,118.4 L567.2,118.1 L567.7,117.9 L568.2,117.8 L568.7,117.6 L569.2,117.4 L569.7,116.9 L570.2,116.3 L570.7,115.8 L571.2,115.3 L571.7,115.7 L572.3,116.1 L572.8,116.2 L573.3,116.0 L573.8,115.9 L574.3,115.7 L574.8,115.5 L575.3,115.3 L575.8,115.1 L576.3,115.0 L576.8,114.5 L577.3,113.9 L577.8,113.4 L578.3,112.9 L578.8,112.9 L579.3,113.4 L579.8,113.9 L580.3,113.7 L580.8,113.0 L581.3,112.3 L581.8,111.7 L582.3,112.3 L582.8,112.8 L583.3,112.7 L583.8,112.3 L584.3,111.9 L584.8,111.6 L585.3,111.7 L585.8,111.9 L586.3,111.5 L586.8,111.0 L587.3,110.5 L587.8,110.7 L588.3,111.2 L588.8,111.0 L589.3,110.8 L589.8,110.5 L590.3,110.3 L590.8,110.1 L591.3,110.0 L591.8,109.9 L592.3,109.7 L592.8,109.3 L593.3,108.8 L593.8,108.4 L594.3,107.9 L594.8,107.5 L595.3,107.7 L595.8,108.1 L596.3,108.4 L596.8,108.6 L597.3,108.3 L597.8,108.0 L598.3,107.6 L598.8,107.3 L599.3,107.0 L599.8,107.0 L600.3,107.1 L600.8,107.2 L601.3,106.7 L601.8,106.1 L602.3,105.4 L602.8,105.4 L603.3,106.0 L603.8,106.2 L604.3,105.9 L604.8,105.5 L605.3,105.2 L605.8,104.9 L606.3,105.0 L606.8,105.3 L607.3,105.5 L607.8,105.3 L608.3,105.1 L608.8,105.0 L609.3,104.8 L609.8,104.6 L610.3,104.5 L610.8,104.3 L611.3,104.1 L611.8,103.9 L612.3,103.7 L612.8,103.5 L613.3,103.6 L613.8,103.7 L614.3,103.8 L614.8,103.1 L615.3,102.5 L615.8,101.9 L616.3,101.7 L616.8,102.4 L617.3,103.0 L617.8,102.5 L618.3,101.9 L618.8,101.2 L619.3,101.3 L619.8,101.9 L620.3,102.1 L620.8,101.5 L621.3,100.9 L621.8,100.7 L622.3,101.1 L622.8,101.3 L623.3,100.9 L623.8,100.4 L624.3,100.0 L624.8,99.6 L625.3,99.8 L625.8,100.3 L626.3,100.7 L626.8,100.5 L627.3,100.1 L627.8,99.6 L628.3,99.2 L628.8,98.8 L629.3,98.5 L629.8,98.8 L630.3,99.2 L630.8,99.5 L631.3,99.5 L631.8,99.0 L632.3,98.5 L632.8,98.1 L633.3,98.4 L633.8,98.8 L634.4,98.7 L634.9,98.5 L635.4,98.3 L635.9,98.1 L636.4,98.1 L636.9,98.2 L637.4,98.0 L637.9,97.5 L638.4,97.0 L638.9,96.6 L639.4,96.9 L639.9,97.3 L640.4,97.1 L640.9,96.7 L641.4,96.3 L641.9,96.1 L642.4,96.5 L642.9,96.8 L643.4,96.3 L643.9,95.8 L644.4,95.2 L644.9,95.2 L645.4,95.7 L645.9,96.1 L646.4,95.8 L646.9,95.6 L647.4,95.3 L647.9,95.1 L648.4,95.2 L648.9,95.4 L649.4,95.5 L649.9,95.2 L650.4,95.0 L650.9,94.7 L651.4,94.5 L651.9,94.5 L652.4,94.6 L652.9,94.8 L653.4,94.7 L653.9,94.5 L654.4,94.3 L654.9,94.1 L655.4,93.9 L655.9,93.8 L656.4,94.0 L656.9,94.2 L657.4,94.4 L657.9,94.1 L658.4,93.8 L658.9,93.4 L659.4,93.1 L659.9,93.1 L660.4,93.3 L660.4,100.6 L659.9,100.6 L659.4,100.6 L658.9,100.6 L658.4,100.7 L657.9,100.8 L657.4,100.9 L656.9,101.0 L656.4,101.2 L655.9,101.3 L655.4,101.3 L654.9,101.4 L654.4,101.5 L653.9,101.6 L653.4,101.6 L652.9,101.7 L652.4,101.8 L651.9,101.9 L651.4,102.0 L650.9,102.2 L650.4,102.3 L649.9,102.4 L649.4,102.6 L648.9,102.7 L648.4,102.7 L647.9,102.8 L647.4,102.9 L646.9,103.0 L646.4,103.0 L645.9,103.1 L645.4,103.2 L644.9,103.5 L644.4,103.8 L643.9,104.1 L643.4,104.3 L642.9,104.2 L642.4,104.2 L641.9,104.2 L641.4,104.1 L640.9,104.1 L640.4,104.2 L639.9,104.4 L639.4,104.5 L638.9,104.6 L638.4,104.7 L637.9,104.8 L637.4,104.8 L636.9,104.9 L636.4,105.0 L635.9,105.1 L635.4,105.2 L634.9,105.4 L634.4,105.6 L633.8,105.7 L633.3,105.8 L632.8,105.8 L632.3,105.9 L631.8,105.9 L631.3,106.0 L630.8,106.2 L630.3,106.5 L629.8,106.8 L629.3,107.0 L628.8,107.0 L628.3,107.1 L627.8,107.1 L627.3,107.2 L626.8,107.3 L626.3,107.3 L625.8,107.7 L625.3,108.0 L624.8,108.3 L624.3,108.4 L623.8,108.3 L623.3,108.3 L622.8,108.3 L622.3,108.2 L621.8,108.4 L621.3,108.7 L620.8,109.0 L620.3,109.2 L619.8,109.3 L619.3,109.3 L618.8,109.3 L618.3,109.3 L617.8,109.3 L617.3,109.5 L616.8,109.8 L616.3,110.1 L615.8,110.5 L615.3,110.6 L614.8,110.6 L614.3,110.6 L613.8,110.6 L613.3,110.6 L612.8,110.7 L612.3,110.8 L611.8,111.1 L611.3,111.3 L610.8,111.5 L610.3,111.7 L609.8,111.8 L609.3,111.9 L608.8,112.0 L608.3,112.1 L607.8,112.2 L607.3,112.2 L606.8,112.6 L606.3,112.9 L605.8,113.2 L605.3,113.4 L604.8,113.4 L604.3,113.5 L603.8,113.5 L603.3,113.5 L602.8,113.5 L602.3,113.7 L601.8,114.1 L601.3,114.5 L600.8,114.8 L600.3,115.0 L599.8,115.0 L599.3,115.0 L598.8,115.0 L598.3,115.0 L597.8,115.0 L597.3,115.3 L596.8,115.7 L596.3,116.0 L595.8,116.0 L595.3,116.0 L594.8,116.0 L594.3,116.1 L593.8,116.2 L593.3,116.4 L592.8,116.6 L592.3,116.8 L591.8,116.9 L591.3,117.1 L590.8,117.2 L590.3,117.3 L589.8,117.5 L589.3,117.6 L588.8,117.8 L588.3,117.9 L587.8,118.1 L587.3,118.5 L586.8,118.8 L586.3,119.1 L585.8,119.3 L585.3,119.4 L584.8,119.4 L584.3,119.5 L583.8,119.5 L583.3,119.6 L582.8,119.8 L582.3,120.1 L581.8,120.4 L581.3,120.7 L580.8,121.0 L580.3,121.1 L579.8,121.2 L579.3,121.2 L578.8,121.3 L578.3,121.4 L577.8,121.4 L577.3,121.5 L576.8,121.8 L576.3,122.1 L575.8,122.4 L575.3,122.7 L574.8,123.1 L574.3,123.2 L573.8,123.3 L573.3,123.4 L572.8,123.5 L572.3,123.5 L571.7,123.6 L571.2,123.7 L570.7,123.8 L570.2,124.1 L569.7,124.5 L569.2,124.8 L568.7,125.1 L568.2,125.1 L567.7,125.2 L567.2,125.2 L566.7,125.2 L566.2,125.3 L565.7,125.6 L565.2,125.8 L564.7,126.0 L564.2,126.3 L563.7,126.5 L563.2,126.7 L562.7,126.8 L562.2,127.0 L561.7,127.2 L561.2,127.3 L560.7,127.5 L560.2,127.7 L559.7,128.0 L559.2,128.2 L558.7,128.4 L558.2,128.5 L557.7,128.7 L557.2,128.8 L556.7,129.0 L556.2,129.3 L555.7,129.6 L555.2,129.9 L554.7,130.1 L554.2,130.1 L553.7,130.2 L553.2,130.3 L552.7,130.4 L552.2,130.6 L551.7,130.9 L551.2,131.2 L550.7,131.5 L550.2,131.8 L549.7,132.1 L549.2,132.2 L548.7,132.3 L548.2,132.5 L547.7,132.6 L547.2,132.7 L546.7,132.8 L546.2,133.0 L545.7,133.1 L545.2,133.4 L544.7,133.7 L544.2,134.0 L543.7,134.2 L543.2,134.5 L542.7,134.6 L542.2,134.8 L541.7,135.0 L541.2,135.1 L540.7,135.3 L540.2,135.5 L539.7,135.7 L539.2,136.2 L538.7,136.7 L538.2,137.2 L537.7,137.3 L537.2,137.3 L536.7,137.4 L536.2,137.4 L535.7,137.4 L535.2,137.8 L534.7,138.1 L534.2,138.5 L533.7,138.7 L533.2,138.8 L532.7,139.0 L532.2,139.1 L531.7,139.2 L531.2,139.5 L530.7,139.9 L530.2,140.1 L529.7,140.2 L529.2,140.3 L528.7,140.4 L528.2,140.7 L527.7,141.0 L527.2,141.4 L526.7,141.7 L526.2,141.8 L525.7,142.0 L525.2,142.1 L524.7,142.3 L524.2,142.4 L523.7,142.5 L523.2,142.8 L522.7,143.2 L522.2,143.5 L521.7,143.8 L521.2,143.9 L520.7,144.1 L520.2,144.3 L519.7,144.4 L519.2,144.7 L518.7,145.1 L518.2,145.4 L517.7,145.8 L517.2,146.1 L516.7,146.3 L516.2,146.4 L515.7,146.5 L515.2,146.7 L514.7,146.8 L514.2,146.9 L513.7,147.4 L513.2,147.9 L512.7,148.3 L512.2,148.4 L511.7,148.5 L511.2,148.6 L510.7,148.7 L510.2,148.9 L509.6,149.3 L509.1,149.6 L508.6,150.0 L508.1,150.3 L507.6,150.5 L507.1,150.7 L506.6,150.8 L506.1,151.0 L505.6,151.2 L505.1,151.3 L504.6,151.6 L504.1,152.0 L503.6,152.4 L503.1,152.6 L502.6,152.7 L502.1,152.8 L501.6,152.8 L501.1,153.2 L500.6,153.5 L500.1,153.9 L499.6,154.2 L499.1,154.4 L498.6,154.5 L498.1,154.7 L497.6,154.9 L497.1,155.1 L496.6,155.3 L496.1,155.7 L495.6,156.0 L495.1,156.2 L494.6,156.4 L494.1,156.6 L493.6,156.8 L493.1,157.1 L492.6,157.5 L492.1,157.9 L491.6,158.3 L491.1,158.6 L490.6,158.7 L490.1,158.9 L489.6,159.0 L489.1,159.2 L488.6,159.3 L488.1,159.7 L487.6,160.0 L487.1,160.4 L486.6,160.8 L486.1,161.1 L485.6,161.4 L485.1,161.6 L484.6,161.8 L484.1,162.0 L483.6,162.2 L483.1,162.4 L482.6,162.6 L482.1,162.8 L481.6,163.0 L481.1,163.3 L480.6,163.6 L480.1,163.9 L479.6,164.2 L479.1,164.5 L478.6,164.7 L478.1,164.9 L477.6,165.1 L477.1,165.4 L476.6,165.6 L476.1,165.9 L475.6,166.2 L475.1,166.5 L474.6,166.9 L474.1,167.2 L473.6,167.5 L473.1,167.8 L472.6,168.0 L472.1,168.3 L471.6,168.5 L471.1,168.7 L470.6,168.9 L470.1,169.2 L469.6,169.4 L469.1,169.7 L468.6,170.2 L468.1,170.6 L467.6,171.0 L467.1,171.2 L466.6,171.3 L466.1,171.5 L465.6,171.7 L465.1,172.0 L464.6,172.5 L464.1,173.0 L463.6,173.4 L463.1,173.8 L462.6,173.9 L462.1,174.0 L461.6,174.2 L461.1,174.3 L460.6,174.4 L460.1,174.6 L459.6,175.1 L459.1,175.6 L458.6,176.1 L458.1,176.3 L457.6,176.5 L457.1,176.6 L456.6,176.8 L456.1,176.9 L455.6,177.2 L455.1,177.5 L454.6,177.8 L454.1,178.1 L453.6,178.4 L453.1,178.7 L452.6,179.0 L452.1,179.3 L451.6,179.6 L451.1,179.8 L450.6,180.1 L450.1,180.4 L449.6,180.7 L449.1,181.2 L448.6,181.6 L448.1,182.0 L447.5,182.5 L447.0,182.8 L446.5,183.0 L446.0,183.2 L445.5,183.3 L445.0,183.5 L444.5,183.7 L444.0,183.9 L443.5,184.3 L443.0,184.7 L442.5,185.1 L442.0,185.6 L441.5,186.0 L441.0,186.3 L440.5,186.5 L440.0,186.7 L439.5,186.9 L439.0,187.0 L438.5,187.2 L438.0,187.4 L437.5,187.6 L437.0,187.9 L436.5,188.2 L436.0,188.6 L435.5,188.9 L435.0,189.2 L434.5,189.5 L434.0,189.8 L433.5,190.1 L433.0,190.4 L432.5,190.7 L432.0,190.9 L431.5,191.3 L431.0,191.6 L430.5,192.0 L430.0,192.3 L429.5,192.6 L429.0,192.9 L428.5,193.1 L428.0,193.4 L427.5,193.7 L427.0,194.0 L426.5,194.5 L426.0,194.9 L425.5,195.4 L425.0,195.8 L424.5,196.0 L424.0,196.2 L423.5,196.4 L423.0,196.6 L422.5,196.8 L422.0,197.1 L421.5,197.6 L421.0,198.1 L420.5,198.6 L420.0,199.1 L419.5,199.5 L419.0,199.7 L418.5,199.9 L418.0,200.1 L417.5,200.3 L417.0,200.5 L416.5,200.6Z" fill="#c4982a"/>
<circle cx="416.5" cy="197.3" r="2.5" fill="#c4982a"/>
<circle cx="660.4" cy="97.2" r="3.1" fill="#c4982a"/>
<path d="M416.5,193.5 L417.0,192.8 L417.5,192.0 L418.0,191.6 L418.5,191.7 L419.0,191.7 L419.5,191.5 L420.0,190.9 L420.5,190.3 L421.0,189.8 L421.5,189.3 L422.0,189.3 L422.5,189.3 L423.0,188.8 L423.5,187.9 L424.0,187.0 L424.5,186.1 L425.0,185.7 L425.5,186.2 L426.0,186.7 L426.5,186.5 L427.0,186.1 L427.5,185.7 L428.0,185.2 L428.5,184.8 L429.0,184.7 L429.5,184.5 L430.0,184.2 L430.5,183.5 L431.0,182.8 L431.5,182.1 L432.0,181.3 L432.5,181.4 L433.0,181.6 L433.5,181.6 L434.0,180.9 L434.5,180.1 L435.0,179.4 L435.5,178.6 L436.0,177.8 L436.5,177.6 L437.0,177.9 L437.5,178.2 L438.0,178.5 L438.5,178.0 L439.0,177.3 L439.5,176.6 L440.0,175.9 L440.5,175.5 L441.0,175.6 L441.5,175.7 L442.0,175.5 L442.5,174.9 L443.0,174.3 L443.5,173.7 L444.0,173.4 L444.5,173.5 L445.0,173.7 L445.5,173.2 L446.0,172.7 L446.5,172.2 L447.0,171.8 L447.5,171.7 L448.1,171.6 L448.6,171.1 L449.1,170.6 L449.6,170.1 L450.1,169.6 L450.6,169.0 L451.1,168.9 L451.6,169.0 L452.1,169.1 L452.6,169.3 L453.1,168.7 L453.6,168.0 L454.1,167.3 L454.6,166.6 L455.1,165.9 L455.6,165.4 L456.1,165.5 L456.6,165.6 L457.1,165.7 L457.6,165.5 L458.1,164.8 L458.6,164.2 L459.1,163.5 L459.6,162.9 L460.1,162.2 L460.6,162.0 L461.1,162.2 L461.6,162.5 L462.1,162.8 L462.6,162.6 L463.1,162.0 L463.6,161.5 L464.1,160.9 L464.6,161.0 L465.1,161.0 L465.6,160.7 L466.1,160.3 L466.6,159.8 L467.1,159.4 L467.6,159.0 L468.1,159.0 L468.6,159.0 L469.1,158.8 L469.6,158.2 L470.1,157.5 L470.6,156.8 L471.1,156.1 L471.6,155.8 L472.1,156.0 L472.6,156.2 L473.1,156.4 L473.6,155.8 L474.1,155.2 L474.6,154.6 L475.1,154.0 L475.6,153.4 L476.1,152.9 L476.6,153.1 L477.1,153.3 L477.6,153.5 L478.1,153.5 L478.6,152.7 L479.1,151.9 L479.6,151.0 L480.1,150.2 L480.6,150.5 L481.1,151.0 L481.6,151.4 L482.1,151.0 L482.6,150.6 L483.1,150.3 L483.6,149.9 L484.1,149.6 L484.6,149.4 L485.1,149.2 L485.6,149.0 L486.1,148.6 L486.6,148.0 L487.1,147.4 L487.6,146.8 L488.1,146.2 L488.6,145.7 L489.1,145.8 L489.6,145.9 L490.1,146.0 L490.6,145.8 L491.1,145.2 L491.6,144.5 L492.1,143.9 L492.6,144.1 L493.1,144.3 L493.6,144.1 L494.1,143.4 L494.6,142.7 L495.1,142.0 L495.6,142.0 L496.1,142.4 L496.6,142.6 L497.1,142.1 L497.6,141.6 L498.1,141.0 L498.6,140.5 L499.1,140.0 L499.6,139.6 L500.1,139.7 L500.6,139.8 L501.1,139.9 L501.6,140.0 L502.1,139.5 L502.6,139.0 L503.1,138.6 L503.6,138.4 L504.1,138.3 L504.6,138.1 L505.1,137.7 L505.6,137.4 L506.1,137.1 L506.6,137.1 L507.1,137.1 L507.6,136.4 L508.1,135.6 L508.6,134.8 L509.1,134.0 L509.6,133.8 L510.2,134.2 L510.7,134.6 L511.2,134.7 L511.7,134.4 L512.2,134.0 L512.7,133.7 L513.2,133.4 L513.7,133.1 L514.2,133.0 L514.7,133.0 L515.2,132.9 L515.7,132.6 L516.2,132.1 L516.7,131.6 L517.2,131.1 L517.7,130.6 L518.2,130.2 L518.7,130.1 L519.2,130.1 L519.7,130.1 L520.2,129.8 L520.7,129.4 L521.2,129.1 L521.7,128.7 L522.2,128.6 L522.7,128.6 L523.2,128.6 L523.7,127.8 L524.2,126.8 L524.7,125.8 L525.2,125.7 L525.7,126.5 L526.2,126.8 L526.7,126.2 L527.2,125.7 L527.7,125.1 L528.2,124.8 L528.7,125.1 L529.2,125.3 L529.7,124.8 L530.2,123.8 L530.7,122.8 L531.2,122.6 L531.7,123.4 L532.2,123.8 L532.7,123.3 L533.2,122.9 L533.7,122.4 L534.2,122.0 L534.7,121.5 L535.2,121.3 L535.7,121.3 L536.2,121.4 L536.7,121.4 L537.2,121.2 L537.7,120.9 L538.2,120.6 L538.7,120.3 L539.2,120.1 L539.7,119.8 L540.2,119.5 L540.7,119.2 L541.2,118.8 L541.7,118.4 L542.2,118.1 L542.7,117.7 L543.2,117.6 L543.7,117.5 L544.2,117.4 L544.7,117.3 L545.2,117.0 L545.7,116.6 L546.2,116.3 L546.7,115.9 L547.2,115.5 L547.7,115.4 L548.2,115.4 L548.7,115.4 L549.2,115.4 L549.7,114.9 L550.2,114.4 L550.7,114.0 L551.2,113.5 L551.7,113.1 L552.2,112.7 L552.7,112.7 L553.2,112.7 L553.7,112.7 L554.2,112.6 L554.7,112.2 L555.2,111.7 L555.7,111.3 L556.2,111.1 L556.7,111.3 L557.2,111.4 L557.7,110.9 L558.2,110.5 L558.7,110.0 L559.2,109.8 L559.7,109.8 L560.2,109.8 L560.7,109.2 L561.2,108.6 L561.7,108.0 L562.2,107.3 L562.7,107.3 L563.2,107.8 L563.7,108.3 L564.2,108.2 L564.7,107.6 L565.2,107.0 L565.7,106.5 L566.2,106.8 L566.7,107.1 L567.2,106.9 L567.7,106.5 L568.2,106.0 L568.7,105.6 L569.2,105.2 L569.7,104.8 L570.2,104.6 L570.7,104.6 L571.2,104.6 L571.7,104.6 L572.3,104.0 L572.8,103.4 L573.3,102.7 L573.8,102.6 L574.3,103.0 L574.8,103.3 L575.3,103.0 L575.8,102.6 L576.3,102.3 L576.8,101.9 L577.3,101.9 L577.8,101.9 L578.3,101.8 L578.8,101.3 L579.3,100.9 L579.8,100.4 L580.3,99.9 L580.8,99.5 L581.3,99.4 L581.8,99.5 L582.3,99.6 L582.8,99.6 L583.3,99.1 L583.8,98.6 L584.3,98.1 L584.8,98.0 L585.3,98.2 L585.8,98.2 L586.3,97.3 L586.8,96.5 L587.3,95.7 L587.8,96.4 L588.3,97.0 L588.8,96.2 L589.3,95.5 L589.8,94.7 L590.3,94.7 L590.8,95.4 L591.3,95.7 L591.8,94.8 L592.3,93.9 L592.8,93.1 L593.3,92.9 L593.8,93.6 L594.3,94.3 L594.8,93.7 L595.3,92.9 L595.8,92.1 L596.3,91.3 L596.8,91.3 L597.3,91.7 L597.8,92.1 L598.3,91.9 L598.8,91.5 L599.3,91.0 L599.8,90.7 L600.3,90.8 L600.8,91.0 L601.3,90.3 L601.8,89.5 L602.3,88.7 L602.8,87.9 L603.3,88.4 L603.8,89.1 L604.3,89.7 L604.8,89.2 L605.3,88.7 L605.8,88.2 L606.3,87.7 L606.8,87.2 L607.3,86.9 L607.8,87.0 L608.3,87.2 L608.8,87.4 L609.3,87.4 L609.8,87.0 L610.3,86.6 L610.8,86.2 L611.3,85.8 L611.8,85.7 L612.3,85.6 L612.8,85.4 L613.3,84.6 L613.8,83.9 L614.3,83.1 L614.8,82.7 L615.3,83.3 L615.8,84.0 L616.3,83.8 L616.8,83.4 L617.3,83.0 L617.8,82.6 L618.3,82.5 L618.8,82.5 L619.3,82.5 L619.8,81.8 L620.3,81.0 L620.8,80.1 L621.3,79.8 L621.8,80.6 L622.3,81.4 L622.8,80.9 L623.3,80.3 L623.8,79.7 L624.3,79.1 L624.8,78.8 L625.3,79.1 L625.8,79.4 L626.3,79.5 L626.8,79.0 L627.3,78.5 L627.8,78.1 L628.3,77.6 L628.8,77.1 L629.3,77.2 L629.8,77.2 L630.3,77.3 L630.8,77.1 L631.3,76.7 L631.8,76.3 L632.3,75.9 L632.8,75.5 L633.3,75.5 L633.8,75.6 L634.4,75.6 L634.9,75.4 L635.4,74.9 L635.9,74.5 L636.4,74.2 L636.9,74.1 L637.4,73.9 L637.9,73.3 L638.4,72.7 L638.9,72.1 L639.4,71.8 L639.9,72.4 L640.4,72.9 L640.9,72.7 L641.4,72.2 L641.9,71.7 L642.4,71.2 L642.9,70.7 L643.4,70.8 L643.9,70.8 L644.4,70.9 L644.9,70.7 L645.4,70.4 L645.9,70.0 L646.4,69.7 L646.9,69.6 L647.4,69.6 L647.9,69.4 L648.4,69.0 L648.9,68.6 L649.4,68.2 L649.9,68.0 L650.4,67.9 L650.9,67.7 L651.4,67.2 L651.9,66.7 L652.4,66.2 L652.9,66.0 L653.4,66.1 L653.9,66.2 L654.4,65.7 L654.9,65.1 L655.4,64.5 L655.9,63.9 L656.4,63.3 L656.9,63.1 L657.4,63.5 L657.9,63.8 L658.4,64.1 L658.9,63.7 L659.4,63.3 L659.9,62.9 L660.4,62.9 L660.4,70.8 L659.9,70.9 L659.4,71.1 L658.9,71.2 L658.4,71.3 L657.9,71.4 L657.4,71.6 L656.9,71.7 L656.4,72.0 L655.9,72.5 L655.4,73.0 L654.9,73.1 L654.4,73.1 L653.9,73.1 L653.4,73.2 L652.9,73.8 L652.4,74.3 L651.9,74.9 L651.4,75.1 L650.9,75.2 L650.4,75.2 L649.9,75.3 L649.4,75.3 L648.9,75.5 L648.4,75.8 L647.9,76.2 L647.4,76.6 L646.9,76.8 L646.4,76.9 L645.9,77.1 L645.4,77.3 L644.9,77.4 L644.4,77.7 L643.9,78.0 L643.4,78.3 L642.9,78.5 L642.4,78.7 L641.9,78.9 L641.4,79.1 L640.9,79.3 L640.4,79.5 L639.9,79.9 L639.4,80.3 L638.9,80.8 L638.4,81.2 L637.9,81.5 L637.4,81.6 L636.9,81.7 L636.4,81.8 L635.9,81.9 L635.4,82.0 L634.9,82.0 L634.4,82.1 L633.8,82.5 L633.3,83.0 L632.8,83.5 L632.3,83.9 L631.8,84.4 L631.3,84.6 L630.8,84.7 L630.3,84.8 L629.8,84.9 L629.3,85.0 L628.8,85.1 L628.3,85.2 L627.8,85.3 L627.3,85.6 L626.8,85.9 L626.3,86.2 L625.8,86.4 L625.3,86.6 L624.8,86.8 L624.3,87.0 L623.8,87.2 L623.3,87.7 L622.8,88.2 L622.3,88.6 L621.8,88.6 L621.3,88.5 L620.8,88.5 L620.3,88.6 L619.8,89.0 L619.3,89.4 L618.8,89.7 L618.3,89.9 L617.8,90.1 L617.3,90.2 L616.8,90.4 L616.3,90.7 L615.8,91.2 L615.3,91.6 L614.8,92.1 L614.3,92.5 L613.8,92.6 L613.3,92.7 L612.8,92.8 L612.3,92.8 L611.8,92.9 L611.3,93.0 L610.8,93.3 L610.3,94.0 L609.8,94.6 L609.3,94.5 L608.8,94.5 L608.3,94.4 L607.8,94.5 L607.3,94.8 L606.8,95.1 L606.3,95.4 L605.8,95.6 L605.3,95.8 L604.8,96.0 L604.3,96.2 L603.8,96.3 L603.3,96.5 L602.8,96.8 L602.3,97.1 L601.8,97.4 L601.3,97.7 L600.8,97.9 L600.3,98.1 L599.8,98.3 L599.3,98.6 L598.8,98.8 L598.3,99.0 L597.8,99.4 L597.3,99.9 L596.8,100.4 L596.3,100.5 L595.8,100.5 L595.3,100.5 L594.8,100.6 L594.3,101.1 L593.8,101.8 L593.3,102.2 L592.8,102.0 L592.3,101.9 L591.8,101.8 L591.3,102.0 L590.8,102.4 L590.3,102.7 L589.8,103.0 L589.3,103.2 L588.8,103.4 L588.3,103.6 L587.8,103.7 L587.3,103.9 L586.8,104.3 L586.3,104.7 L585.8,105.1 L585.3,105.2 L584.8,105.3 L584.3,105.4 L583.8,105.5 L583.3,106.1 L582.8,106.6 L582.3,107.1 L581.8,107.1 L581.3,107.2 L580.8,107.2 L580.3,107.2 L579.8,107.4 L579.3,107.7 L578.8,108.0 L578.3,108.3 L577.8,108.5 L577.3,108.6 L576.8,108.8 L576.3,109.0 L575.8,109.4 L575.3,109.8 L574.8,110.2 L574.3,110.3 L573.8,110.5 L573.3,110.7 L572.8,110.8 L572.3,111.2 L571.7,111.7 L571.2,112.1 L570.7,112.6 L570.2,112.7 L569.7,112.7 L569.2,112.8 L568.7,112.9 L568.2,113.0 L567.7,113.2 L567.2,113.7 L566.7,114.2 L566.2,114.6 L565.7,114.6 L565.2,114.7 L564.7,114.8 L564.2,114.8 L563.7,115.2 L563.2,115.5 L562.7,115.9 L562.2,116.2 L561.7,116.6 L561.2,116.8 L560.7,116.9 L560.2,117.0 L559.7,117.2 L559.2,117.3 L558.7,117.5 L558.2,117.6 L557.7,117.9 L557.2,118.4 L556.7,118.9 L556.2,119.2 L555.7,119.3 L555.2,119.4 L554.7,119.5 L554.2,119.7 L553.7,120.0 L553.2,120.3 L552.7,120.7 L552.2,120.9 L551.7,121.1 L551.2,121.3 L550.7,121.5 L550.2,121.7 L549.7,121.9 L549.2,122.3 L548.7,122.6 L548.2,123.0 L547.7,123.2 L547.2,123.4 L546.7,123.5 L546.2,123.6 L545.7,123.8 L545.2,123.9 L544.7,124.1 L544.2,124.5 L543.7,124.8 L543.2,125.1 L542.7,125.5 L542.2,125.7 L541.7,125.9 L541.2,126.1 L540.7,126.3 L540.2,126.5 L539.7,126.8 L539.2,127.0 L538.7,127.3 L538.2,127.6 L537.7,127.9 L537.2,128.1 L536.7,128.3 L536.2,128.5 L535.7,128.6 L535.2,128.8 L534.7,129.1 L534.2,129.6 L533.7,130.0 L533.2,130.4 L532.7,130.6 L532.2,130.7 L531.7,130.8 L531.2,130.9 L530.7,131.1 L530.2,131.4 L529.7,131.7 L529.2,132.1 L528.7,132.5 L528.2,132.8 L527.7,133.0 L527.2,133.2 L526.7,133.4 L526.2,133.6 L525.7,133.8 L525.2,134.1 L524.7,134.6 L524.2,135.2 L523.7,135.7 L523.2,136.1 L522.7,136.2 L522.2,136.2 L521.7,136.3 L521.2,136.4 L520.7,136.4 L520.2,136.5 L519.7,137.0 L519.2,137.5 L518.7,137.9 L518.2,138.4 L517.7,138.8 L517.2,138.9 L516.7,139.0 L516.2,139.1 L515.7,139.2 L515.2,139.3 L514.7,139.4 L514.2,139.7 L513.7,140.4 L513.2,141.0 L512.7,141.3 L512.2,141.4 L511.7,141.5 L511.2,141.6 L510.7,141.8 L510.2,142.2 L509.6,142.6 L509.1,143.0 L508.6,143.2 L508.1,143.4 L507.6,143.6 L507.1,143.7 L506.6,143.9 L506.1,144.1 L505.6,144.4 L505.1,144.7 L504.6,144.9 L504.1,145.2 L503.6,145.5 L503.1,145.7 L502.6,146.0 L502.1,146.3 L501.6,146.5 L501.1,146.8 L500.6,147.3 L500.1,147.8 L499.6,148.3 L499.1,148.7 L498.6,149.0 L498.1,149.2 L497.6,149.3 L497.1,149.5 L496.6,149.6 L496.1,149.8 L495.6,149.9 L495.1,150.2 L494.6,150.8 L494.1,151.4 L493.6,151.9 L493.1,152.2 L492.6,152.3 L492.1,152.4 L491.6,152.5 L491.1,152.6 L490.6,152.7 L490.1,153.0 L489.6,153.3 L489.1,153.6 L488.6,153.9 L488.1,154.2 L487.6,154.4 L487.1,154.7 L486.6,155.0 L486.1,155.4 L485.6,156.0 L485.1,156.5 L484.6,156.9 L484.1,157.0 L483.6,157.2 L483.1,157.3 L482.6,157.4 L482.1,157.6 L481.6,157.8 L481.1,158.2 L480.6,158.5 L480.1,158.8 L479.6,159.1 L479.1,159.4 L478.6,159.7 L478.1,160.0 L477.6,160.3 L477.1,160.6 L476.6,160.9 L476.1,161.1 L475.6,161.5 L475.1,161.8 L474.6,162.1 L474.1,162.5 L473.6,162.8 L473.1,163.1 L472.6,163.3 L472.1,163.6 L471.6,163.8 L471.1,164.0 L470.6,164.3 L470.1,164.5 L469.6,164.9 L469.1,165.4 L468.6,165.9 L468.1,166.1 L467.6,166.3 L467.1,166.6 L466.6,166.8 L466.1,167.5 L465.6,168.2 L465.1,168.5 L464.6,168.6 L464.1,168.6 L463.6,168.6 L463.1,169.0 L462.6,169.5 L462.1,170.0 L461.6,170.5 L461.1,171.0 L460.6,171.3 L460.1,171.5 L459.6,171.7 L459.1,171.8 L458.6,172.0 L458.1,172.2 L457.6,172.3 L457.1,172.5 L456.6,173.0 L456.1,173.4 L455.6,173.9 L455.1,174.4 L454.6,174.7 L454.1,175.0 L453.6,175.2 L453.1,175.5 L452.6,175.7 L452.1,176.0 L451.6,176.2 L451.1,176.6 L450.6,177.0 L450.1,177.4 L449.6,177.8 L449.1,178.2 L448.6,178.5 L448.1,178.8 L447.5,179.1 L447.0,179.3 L446.5,179.6 L446.0,179.9 L445.5,180.2 L445.0,180.8 L444.5,181.5 L444.0,182.1 L443.5,182.3 L443.0,182.4 L442.5,182.5 L442.0,182.6 L441.5,182.9 L441.0,183.4 L440.5,183.9 L440.0,184.1 L439.5,184.4 L439.0,184.6 L438.5,184.8 L438.0,185.3 L437.5,185.8 L437.0,186.3 L436.5,186.5 L436.0,186.7 L435.5,187.0 L435.0,187.2 L434.5,187.5 L434.0,188.0 L433.5,188.4 L433.0,188.8 L432.5,189.1 L432.0,189.4 L431.5,189.8 L431.0,190.3 L430.5,190.8 L430.0,191.3 L429.5,191.8 L429.0,192.3 L428.5,192.6 L428.0,192.8 L427.5,193.0 L427.0,193.2 L426.5,193.5 L426.0,193.7 L425.5,193.9 L425.0,194.1 L424.5,194.6 L424.0,195.1 L423.5,195.5 L423.0,196.0 L422.5,196.3 L422.0,196.7 L421.5,197.0 L421.0,197.3 L420.5,197.6 L420.0,197.9 L419.5,198.2 L419.0,198.9 L418.5,199.6 L418.0,200.3 L417.5,200.6 L417.0,200.7 L416.5,200.8Z" fill="#52e0d2"/>
<circle cx="416.5" cy="197.3" r="2.4" fill="#52e0d2"/>
<circle cx="660.4" cy="66.8" r="3.0" fill="#52e0d2"/>
<path d="M416.5,193.2 L417.0,192.4 L417.5,191.8 L418.0,191.6 L418.5,191.1 L419.0,190.2 L419.5,189.3 L420.0,188.3 L420.5,188.5 L421.0,188.6 L421.5,187.8 L422.0,186.9 L422.5,185.9 L423.0,184.9 L423.5,184.5 L424.0,184.6 L424.5,184.8 L425.0,184.3 L425.5,183.5 L426.0,182.6 L426.5,182.1 L427.0,182.1 L427.5,181.9 L428.0,181.3 L428.5,180.7 L429.0,180.1 L429.5,179.5 L430.0,179.0 L430.5,178.5 L431.0,177.9 L431.5,177.4 L432.0,176.7 L432.5,176.0 L433.0,175.3 L433.5,174.5 L434.0,173.8 L434.5,173.2 L435.0,173.1 L435.5,173.0 L436.0,172.9 L436.5,172.4 L437.0,171.6 L437.5,170.8 L438.0,169.9 L438.5,169.7 L439.0,169.7 L439.5,169.6 L440.0,168.9 L440.5,168.3 L441.0,167.6 L441.5,167.0 L442.0,166.7 L442.5,166.5 L443.0,166.2 L443.5,165.4 L444.0,164.6 L444.5,163.8 L445.0,163.0 L445.5,162.3 L446.0,162.2 L446.5,162.1 L447.0,162.1 L447.5,161.6 L448.0,161.0 L448.5,160.4 L449.0,159.9 L449.5,159.7 L450.0,159.6 L450.5,159.0 L451.0,158.3 L451.5,157.7 L452.0,157.1 L452.6,156.6 L453.1,156.4 L453.6,156.2 L454.1,156.0 L454.6,155.2 L455.1,154.5 L455.6,153.8 L456.1,153.6 L456.6,153.5 L457.1,152.9 L457.6,152.2 L458.1,151.4 L458.6,150.7 L459.1,150.0 L459.6,149.2 L460.1,149.0 L460.6,149.0 L461.1,148.9 L461.6,148.8 L462.1,148.2 L462.6,147.5 L463.1,146.8 L463.6,146.1 L464.1,145.4 L464.6,144.7 L465.1,144.6 L465.6,144.6 L466.1,144.6 L466.6,144.6 L467.1,144.2 L467.6,143.7 L468.1,143.2 L468.6,142.7 L469.1,142.3 L469.6,141.9 L470.1,141.5 L470.6,141.1 L471.1,140.7 L471.6,140.2 L472.1,139.7 L472.6,139.1 L473.1,138.6 L473.6,138.1 L474.1,137.9 L474.6,137.6 L475.1,137.4 L475.6,136.8 L476.1,136.3 L476.6,135.7 L477.1,135.1 L477.6,134.6 L478.1,134.0 L478.6,133.8 L479.1,133.6 L479.6,133.5 L480.1,133.2 L480.6,132.6 L481.1,132.1 L481.6,131.5 L482.1,131.0 L482.6,130.8 L483.1,130.6 L483.6,130.2 L484.1,129.7 L484.6,129.2 L485.1,128.9 L485.6,128.7 L486.1,128.4 L486.6,127.9 L487.1,127.5 L487.6,127.0 L488.1,126.6 L488.6,126.3 L489.1,126.0 L489.6,125.6 L490.1,124.9 L490.6,124.3 L491.1,123.6 L491.6,123.1 L492.1,123.2 L492.6,123.2 L493.1,122.9 L493.6,122.3 L494.1,121.7 L494.6,121.0 L495.1,120.4 L495.6,120.3 L496.1,120.3 L496.6,120.3 L497.1,119.9 L497.6,119.4 L498.1,118.8 L498.6,118.4 L499.1,118.2 L499.6,117.9 L500.1,117.5 L500.6,117.1 L501.1,116.6 L501.6,116.2 L502.1,115.9 L502.6,115.6 L503.1,115.3 L503.6,114.9 L504.1,114.5 L504.6,114.1 L505.1,113.7 L505.6,113.4 L506.1,113.2 L506.6,112.8 L507.1,112.2 L507.6,111.6 L508.1,111.0 L508.6,110.7 L509.1,110.7 L509.6,110.7 L510.1,110.0 L510.6,109.4 L511.1,108.7 L511.6,108.4 L512.1,108.6 L512.6,108.7 L513.1,108.2 L513.6,107.5 L514.1,106.9 L514.6,106.2 L515.1,105.9 L515.6,106.0 L516.1,106.1 L516.6,106.0 L517.1,105.5 L517.6,105.0 L518.1,104.6 L518.6,104.1 L519.1,103.9 L519.6,103.7 L520.1,103.3 L520.6,102.8 L521.1,102.2 L521.6,101.7 L522.1,101.2 L522.6,100.6 L523.1,100.4 L523.6,100.3 L524.2,100.3 L524.7,100.2 L525.2,99.8 L525.7,99.4 L526.2,99.0 L526.7,98.6 L527.2,98.3 L527.7,97.9 L528.2,97.6 L528.7,97.3 L529.2,97.0 L529.7,96.7 L530.2,96.3 L530.7,96.0 L531.2,95.6 L531.7,95.3 L532.2,95.0 L532.7,94.7 L533.2,94.4 L533.7,94.1 L534.2,93.7 L534.7,93.3 L535.2,92.9 L535.7,92.6 L536.2,92.3 L536.7,92.1 L537.2,91.6 L537.7,91.0 L538.2,90.5 L538.7,89.9 L539.2,89.3 L539.7,89.5 L540.2,89.7 L540.7,89.9 L541.2,89.6 L541.7,89.2 L542.2,88.8 L542.7,88.4 L543.2,88.0 L543.7,87.7 L544.2,87.5 L544.7,87.3 L545.2,87.1 L545.7,86.7 L546.2,86.3 L546.7,85.9 L547.2,85.5 L547.7,85.3 L548.2,85.0 L548.7,84.7 L549.2,84.2 L549.7,83.7 L550.2,83.3 L550.7,83.0 L551.2,82.9 L551.7,82.8 L552.2,82.1 L552.7,81.5 L553.2,80.8 L553.7,80.1 L554.2,80.2 L554.7,80.5 L555.2,80.7 L555.7,80.3 L556.2,79.8 L556.7,79.3 L557.2,78.8 L557.7,78.3 L558.2,78.0 L558.7,77.9 L559.2,77.9 L559.7,77.8 L560.2,77.6 L560.7,77.2 L561.2,76.9 L561.7,76.5 L562.2,76.2 L562.7,75.9 L563.2,75.7 L563.7,75.5 L564.2,75.2 L564.7,74.9 L565.2,74.3 L565.7,73.7 L566.2,73.1 L566.7,72.7 L567.2,72.9 L567.7,73.1 L568.2,73.0 L568.7,72.6 L569.2,72.3 L569.7,72.0 L570.2,71.6 L570.7,71.3 L571.2,71.1 L571.7,71.0 L572.2,70.8 L572.7,70.4 L573.2,69.8 L573.7,69.1 L574.2,68.5 L574.7,67.9 L575.2,67.5 L575.7,67.6 L576.2,67.8 L576.7,68.0 L577.2,67.5 L577.7,66.9 L578.2,66.3 L578.7,66.4 L579.2,66.8 L579.7,66.5 L580.2,65.9 L580.7,65.2 L581.2,64.6 L581.7,63.9 L582.2,64.1 L582.7,64.4 L583.2,64.7 L583.7,64.3 L584.2,63.7 L584.7,63.2 L585.2,62.6 L585.7,62.1 L586.2,61.6 L586.7,61.7 L587.2,61.8 L587.7,61.9 L588.2,61.8 L588.7,61.3 L589.2,60.7 L589.7,60.1 L590.2,60.0 L590.7,60.0 L591.2,59.9 L591.7,59.6 L592.2,59.3 L592.7,59.0 L593.2,58.7 L593.7,58.5 L594.2,58.4 L594.7,58.4 L595.2,58.0 L595.7,57.2 L596.3,56.4 L596.8,55.7 L597.3,56.2 L597.8,56.7 L598.3,56.3 L598.8,55.9 L599.3,55.4 L599.8,55.0 L600.3,54.6 L600.8,54.5 L601.3,54.5 L601.8,54.3 L602.3,54.0 L602.8,53.6 L603.3,53.3 L603.8,53.0 L604.3,52.8 L604.8,52.6 L605.3,52.3 L605.8,51.8 L606.3,51.3 L606.8,50.8 L607.3,50.3 L607.8,50.1 L608.3,50.3 L608.8,50.4 L609.3,50.3 L609.8,50.0 L610.3,49.7 L610.8,49.5 L611.3,49.2 L611.8,48.9 L612.3,48.7 L612.8,48.5 L613.3,48.3 L613.8,48.1 L614.3,47.6 L614.8,47.0 L615.3,46.5 L615.8,46.1 L616.3,46.2 L616.8,46.3 L617.3,46.0 L617.8,45.8 L618.3,45.5 L618.8,45.2 L619.3,45.0 L619.8,44.8 L620.3,44.6 L620.8,44.5 L621.3,44.3 L621.8,43.7 L622.3,43.2 L622.8,42.7 L623.3,42.2 L623.8,41.6 L624.3,41.5 L624.8,41.6 L625.3,41.7 L625.8,41.8 L626.3,41.5 L626.8,41.1 L627.3,40.7 L627.8,40.4 L628.3,40.1 L628.8,39.9 L629.3,39.7 L629.8,39.3 L630.3,38.7 L630.8,38.1 L631.3,37.5 L631.8,37.3 L632.3,37.6 L632.8,37.9 L633.3,37.7 L633.8,37.2 L634.3,36.8 L634.8,36.6 L635.3,36.7 L635.8,36.7 L636.3,36.2 L636.8,35.7 L637.3,35.2 L637.8,34.7 L638.3,34.2 L638.8,34.1 L639.3,34.2 L639.8,34.3 L640.3,34.4 L640.8,34.0 L641.3,33.5 L641.8,32.9 L642.3,32.6 L642.8,32.7 L643.3,32.7 L643.8,32.3 L644.3,31.9 L644.8,31.4 L645.3,31.0 L645.8,30.7 L646.3,30.7 L646.8,30.7 L647.3,30.7 L647.8,30.0 L648.3,29.4 L648.8,28.8 L648.8,37.7 L648.3,37.9 L647.8,38.1 L647.3,38.2 L646.8,38.5 L646.3,38.8 L645.8,39.1 L645.3,39.4 L644.8,39.6 L644.3,39.9 L643.8,40.2 L643.3,40.5 L642.8,40.9 L642.3,41.3 L641.8,41.5 L641.3,41.6 L640.8,41.8 L640.3,41.9 L639.8,42.1 L639.3,42.5 L638.8,43.0 L638.3,43.4 L637.8,43.8 L637.3,44.2 L636.8,44.4 L636.3,44.5 L635.8,44.6 L635.3,44.8 L634.8,44.9 L634.3,45.1 L633.8,45.2 L633.3,45.5 L632.8,46.0 L632.3,46.4 L631.8,46.8 L631.3,47.2 L630.8,47.4 L630.3,47.5 L629.8,47.7 L629.3,47.9 L628.8,48.1 L628.3,48.2 L627.8,48.4 L627.3,48.7 L626.8,49.0 L626.3,49.3 L625.8,49.6 L625.3,49.9 L624.8,50.1 L624.3,50.3 L623.8,50.5 L623.3,50.8 L622.8,51.0 L622.3,51.2 L621.8,51.4 L621.3,51.8 L620.8,52.2 L620.3,52.6 L619.8,53.0 L619.3,53.3 L618.8,53.5 L618.3,53.6 L617.8,53.8 L617.3,54.0 L616.8,54.2 L616.3,54.4 L615.8,54.7 L615.3,55.1 L614.8,55.5 L614.3,55.8 L613.8,56.1 L613.3,56.3 L612.8,56.5 L612.3,56.7 L611.8,56.8 L611.3,57.0 L610.8,57.3 L610.3,57.8 L609.8,58.4 L609.3,58.6 L608.8,58.7 L608.3,58.9 L607.8,59.0 L607.3,59.2 L606.8,59.5 L606.3,59.8 L605.8,60.0 L605.3,60.2 L604.8,60.4 L604.3,60.6 L603.8,60.9 L603.3,61.2 L602.8,61.6 L602.3,62.0 L601.8,62.3 L601.3,62.6 L600.8,62.8 L600.3,63.0 L599.8,63.3 L599.3,63.5 L598.8,63.7 L598.3,64.0 L597.8,64.2 L597.3,64.5 L596.8,64.8 L596.3,65.1 L595.7,65.4 L595.2,65.7 L594.7,65.9 L594.2,66.2 L593.7,66.4 L593.2,66.7 L592.7,67.0 L592.2,67.2 L591.7,67.5 L591.2,67.7 L590.7,68.2 L590.2,68.8 L589.7,69.3 L589.2,69.3 L588.7,69.4 L588.2,69.5 L587.7,69.7 L587.2,70.0 L586.7,70.4 L586.2,70.7 L585.7,71.0 L585.2,71.2 L584.7,71.5 L584.2,71.7 L583.7,72.0 L583.2,72.2 L582.7,72.4 L582.2,72.8 L581.7,73.1 L581.2,73.5 L580.7,73.8 L580.2,74.1 L579.7,74.3 L579.2,74.6 L578.7,74.8 L578.2,75.0 L577.7,75.2 L577.2,75.4 L576.7,75.8 L576.2,76.3 L575.7,76.7 L575.2,76.9 L574.7,77.1 L574.2,77.3 L573.7,77.5 L573.2,78.0 L572.7,78.5 L572.2,78.9 L571.7,79.2 L571.2,79.4 L570.7,79.6 L570.2,79.8 L569.7,79.9 L569.2,80.2 L568.7,80.6 L568.2,81.1 L567.7,81.6 L567.2,81.8 L566.7,82.0 L566.2,82.1 L565.7,82.3 L565.2,82.4 L564.7,82.8 L564.2,83.2 L563.7,83.7 L563.2,84.2 L562.7,84.7 L562.2,84.9 L561.7,85.1 L561.2,85.3 L560.7,85.5 L560.2,85.6 L559.7,85.8 L559.2,86.1 L558.7,86.6 L558.2,87.0 L557.7,87.3 L557.2,87.5 L556.7,87.7 L556.2,87.8 L555.7,88.0 L555.2,88.4 L554.7,88.8 L554.2,89.1 L553.7,89.5 L553.2,89.9 L552.7,90.2 L552.2,90.5 L551.7,90.8 L551.2,91.0 L550.7,91.3 L550.2,91.6 L549.7,91.9 L549.2,92.1 L548.7,92.5 L548.2,92.8 L547.7,93.1 L547.2,93.4 L546.7,93.7 L546.2,94.0 L545.7,94.4 L545.2,94.7 L544.7,95.0 L544.2,95.3 L543.7,95.6 L543.2,96.1 L542.7,96.6 L542.2,97.1 L541.7,97.3 L541.2,97.4 L540.7,97.6 L540.2,97.8 L539.7,98.2 L539.2,98.6 L538.7,99.1 L538.2,99.6 L537.7,100.0 L537.2,100.2 L536.7,100.4 L536.2,100.6 L535.7,100.8 L535.2,101.0 L534.7,101.2 L534.2,101.6 L533.7,102.1 L533.2,102.6 L532.7,102.9 L532.2,103.1 L531.7,103.4 L531.2,103.7 L530.7,103.9 L530.2,104.3 L529.7,104.7 L529.2,105.1 L528.7,105.4 L528.2,105.6 L527.7,105.9 L527.2,106.1 L526.7,106.5 L526.2,107.0 L525.7,107.4 L525.2,107.8 L524.7,108.1 L524.2,108.4 L523.6,108.7 L523.1,109.0 L522.6,109.4 L522.1,109.9 L521.6,110.4 L521.1,110.6 L520.6,110.9 L520.1,111.1 L519.6,111.4 L519.1,111.8 L518.6,112.2 L518.1,112.6 L517.6,113.0 L517.1,113.4 L516.6,113.7 L516.1,114.0 L515.6,114.3 L515.1,114.6 L514.6,114.9 L514.1,115.2 L513.6,115.4 L513.1,116.0 L512.6,116.5 L512.1,117.1 L511.6,117.7 L511.1,118.0 L510.6,118.2 L510.1,118.4 L509.6,118.7 L509.1,118.9 L508.6,119.1 L508.1,119.3 L507.6,119.7 L507.1,120.2 L506.6,120.6 L506.1,121.0 L505.6,121.4 L505.1,121.7 L504.6,122.1 L504.1,122.4 L503.6,122.8 L503.1,123.2 L502.6,123.6 L502.1,124.0 L501.6,124.4 L501.1,124.8 L500.6,125.2 L500.1,125.6 L499.6,126.0 L499.1,126.3 L498.6,126.6 L498.1,127.0 L497.6,127.3 L497.1,127.6 L496.6,128.0 L496.1,128.3 L495.6,128.9 L495.1,129.5 L494.6,130.0 L494.1,130.4 L493.6,130.6 L493.1,130.9 L492.6,131.1 L492.1,131.4 L491.6,131.7 L491.1,132.2 L490.6,132.6 L490.1,133.0 L489.6,133.4 L489.1,133.7 L488.6,134.1 L488.1,134.5 L487.6,135.0 L487.1,135.6 L486.6,136.1 L486.1,136.6 L485.6,136.9 L485.1,137.2 L484.6,137.5 L484.1,137.8 L483.6,138.1 L483.1,138.7 L482.6,139.4 L482.1,140.0 L481.6,140.1 L481.1,140.3 L480.6,140.5 L480.1,140.9 L479.6,141.5 L479.1,142.0 L478.6,142.4 L478.1,142.8 L477.6,143.1 L477.1,143.4 L476.6,143.7 L476.1,144.2 L475.6,144.7 L475.1,145.3 L474.6,145.8 L474.1,146.2 L473.6,146.6 L473.1,147.0 L472.6,147.3 L472.1,147.7 L471.6,148.1 L471.1,148.6 L470.6,149.1 L470.1,149.6 L469.6,150.0 L469.1,150.3 L468.6,150.7 L468.1,151.0 L467.6,151.4 L467.1,151.8 L466.6,152.3 L466.1,152.9 L465.6,153.4 L465.1,154.0 L464.6,154.3 L464.1,154.7 L463.6,155.1 L463.1,155.4 L462.6,155.8 L462.1,156.2 L461.6,156.7 L461.1,157.3 L460.6,157.9 L460.1,158.5 L459.6,158.9 L459.1,159.3 L458.6,159.7 L458.1,160.0 L457.6,160.4 L457.1,160.8 L456.6,161.4 L456.1,162.0 L455.6,162.6 L455.1,163.1 L454.6,163.5 L454.1,163.8 L453.6,164.1 L453.1,164.5 L452.6,164.9 L452.0,165.5 L451.5,166.1 L451.0,166.7 L450.5,167.4 L450.0,167.9 L449.5,168.3 L449.0,168.7 L448.5,169.0 L448.0,169.4 L447.5,169.8 L447.0,170.2 L446.5,170.6 L446.0,171.0 L445.5,171.5 L445.0,172.1 L444.5,172.6 L444.0,173.1 L443.5,173.5 L443.0,173.9 L442.5,174.4 L442.0,174.8 L441.5,175.3 L441.0,175.9 L440.5,176.5 L440.0,177.1 L439.5,177.7 L439.0,178.2 L438.5,178.6 L438.0,179.1 L437.5,179.5 L437.0,179.9 L436.5,180.4 L436.0,180.8 L435.5,181.3 L435.0,181.9 L434.5,182.6 L434.0,183.2 L433.5,183.8 L433.0,184.2 L432.5,184.6 L432.0,185.0 L431.5,185.3 L431.0,185.7 L430.5,186.1 L430.0,186.8 L429.5,187.5 L429.0,188.2 L428.5,188.9 L428.0,189.6 L427.5,190.1 L427.0,190.5 L426.5,191.0 L426.0,191.4 L425.5,191.8 L425.0,192.2 L424.5,192.6 L424.0,193.1 L423.5,193.5 L423.0,194.2 L422.5,194.9 L422.0,195.6 L421.5,196.0 L421.0,196.5 L420.5,196.9 L420.0,197.3 L419.5,197.8 L419.0,198.4 L418.5,199.0 L418.0,199.7 L417.5,200.1 L417.0,200.6 L416.5,201.1Z" fill="#7a4646"/>
<circle cx="416.5" cy="197.3" r="2.9" fill="#7a4646"/>
<circle cx="648.8" cy="33.7" r="3.6" fill="#7a4646"/>
<path d="M416.5,194.1 L417.0,193.9 L417.5,193.8 L418.0,193.7 L418.5,193.5 L419.0,193.2 L419.5,193.0 L420.0,192.8 L420.5,192.8 L421.0,192.7 L421.5,192.4 L422.0,192.1 L422.5,191.8 L423.0,191.7 L423.5,191.8 L424.0,191.8 L424.5,191.6 L425.0,191.4 L425.5,191.2 L426.0,191.0 L426.5,190.9 L427.0,190.8 L427.5,190.6 L428.0,190.4 L428.5,190.2 L429.0,190.1 L429.5,189.9 L430.0,189.8 L430.5,189.7 L431.0,189.6 L431.5,189.5 L432.0,189.3 L432.5,189.1 L433.0,188.9 L433.5,188.7 L434.0,188.5 L434.5,188.3 L435.0,188.2 L435.5,188.1 L436.0,187.9 L436.5,187.7 L437.0,187.5 L437.5,187.3 L438.0,187.1 L438.5,187.0 L439.0,186.9 L439.5,186.9 L440.0,186.7 L440.5,186.5 L441.0,186.3 L441.5,186.1 L442.0,185.9 L442.5,185.7 L443.0,185.7 L443.5,185.6 L444.0,185.5 L444.5,185.4 L445.0,185.2 L445.5,185.0 L446.0,184.8 L446.5,184.7 L447.0,184.5 L447.5,184.4 L448.0,184.2 L448.5,184.1 L449.0,183.9 L449.5,183.7 L450.0,183.4 L450.5,183.2 L451.0,183.2 L451.5,183.2 L452.0,183.1 L452.5,182.9 L453.1,182.7 L453.6,182.6 L454.1,182.4 L454.6,182.2 L455.1,182.1 L455.6,182.0 L456.1,181.8 L456.6,181.6 L457.1,181.4 L457.6,181.1 L458.1,180.9 L458.6,180.7 L459.1,180.7 L459.6,180.7 L460.1,180.6 L460.6,180.4 L461.1,180.3 L461.6,180.1 L462.1,179.9 L462.6,179.8 L463.1,179.7 L463.6,179.6 L464.1,179.5 L464.6,179.2 L465.1,179.0 L465.6,178.8 L466.1,178.7 L466.6,178.7 L467.1,178.6 L467.6,178.3 L468.1,178.1 L468.6,177.8 L469.1,177.7 L469.6,177.7 L470.1,177.7 L470.6,177.4 L471.1,177.1 L471.6,176.9 L472.1,176.6 L472.6,176.7 L473.1,176.8 L473.6,176.7 L474.1,176.5 L474.6,176.3 L475.1,176.1 L475.6,176.0 L476.1,175.8 L476.6,175.7 L477.1,175.6 L477.6,175.4 L478.1,175.3 L478.6,175.1 L479.1,174.9 L479.6,174.8 L480.1,174.6 L480.6,174.5 L481.1,174.4 L481.6,174.3 L482.1,174.2 L482.6,174.0 L483.1,173.8 L483.6,173.6 L484.1,173.5 L484.6,173.3 L485.1,173.2 L485.6,173.1 L486.1,173.0 L486.6,172.9 L487.1,172.7 L487.6,172.4 L488.1,172.2 L488.6,171.9 L489.1,171.9 L489.6,171.9 L490.1,171.9 L490.6,171.8 L491.1,171.5 L491.6,171.3 L492.1,171.1 L492.6,170.9 L493.1,170.8 L493.6,170.8 L494.1,170.7 L494.6,170.6 L495.1,170.4 L495.6,170.1 L496.1,169.9 L496.6,169.7 L497.1,169.6 L497.6,169.6 L498.1,169.7 L498.6,169.5 L499.1,169.4 L499.6,169.2 L500.1,169.0 L500.6,168.8 L501.1,168.6 L501.6,168.5 L502.1,168.4 L502.6,168.4 L503.1,168.2 L503.6,168.1 L504.1,167.9 L504.6,167.8 L505.1,167.6 L505.6,167.5 L506.1,167.4 L506.6,167.2 L507.1,167.1 L507.6,167.0 L508.1,166.9 L508.6,166.7 L509.1,166.5 L509.6,166.4 L510.1,166.2 L510.6,166.1 L511.1,166.0 L511.6,165.9 L512.1,165.9 L512.6,165.8 L513.1,165.5 L513.6,165.2 L514.1,164.9 L514.6,164.8 L515.1,165.0 L515.6,165.0 L516.1,164.8 L516.6,164.6 L517.1,164.5 L517.6,164.3 L518.1,164.1 L518.6,164.0 L519.1,163.9 L519.6,163.8 L520.1,163.7 L520.6,163.5 L521.1,163.4 L521.6,163.2 L522.1,163.1 L522.6,163.0 L523.1,162.9 L523.6,162.7 L524.1,162.5 L524.6,162.4 L525.1,162.3 L525.7,162.2 L526.2,162.0 L526.7,161.8 L527.2,161.6 L527.7,161.4 L528.2,161.2 L528.7,161.2 L529.2,161.1 L529.7,161.1 L530.2,161.0 L530.7,160.9 L531.2,160.7 L531.7,160.6 L532.2,160.5 L532.7,160.4 L533.2,160.3 L533.7,160.2 L534.2,160.1 L534.7,159.9 L535.2,159.8 L535.7,159.7 L536.2,159.6 L536.7,159.5 L537.2,159.3 L537.7,159.1 L538.2,158.9 L538.7,158.7 L539.2,158.7 L539.7,158.7 L540.2,158.6 L540.7,158.2 L541.2,157.9 L541.7,157.9 L542.2,158.0 L542.7,158.0 L543.2,157.9 L543.7,157.7 L544.2,157.6 L544.7,157.4 L545.2,157.3 L545.7,157.2 L546.2,157.1 L546.7,157.0 L547.2,156.9 L547.7,156.7 L548.2,156.5 L548.7,156.3 L549.2,156.3 L549.7,156.3 L550.2,156.2 L550.7,156.0 L551.2,155.9 L551.7,155.7 L552.2,155.6 L552.7,155.5 L553.2,155.4 L553.7,155.3 L554.2,155.2 L554.7,155.0 L555.2,154.9 L555.7,154.8 L556.2,154.6 L556.7,154.5 L557.2,154.5 L557.7,154.4 L558.2,154.2 L558.7,154.0 L559.2,153.8 L559.7,153.6 L560.2,153.3 L560.7,153.4 L561.2,153.4 L561.7,153.5 L562.2,153.2 L562.7,153.0 L563.2,152.7 L563.7,152.6 L564.2,152.6 L564.7,152.7 L565.2,152.6 L565.7,152.4 L566.2,152.3 L566.7,152.2 L567.2,152.0 L567.7,152.0 L568.2,151.9 L568.7,151.9 L569.2,151.8 L569.7,151.6 L570.2,151.5 L570.7,151.3 L571.2,151.3 L571.7,151.2 L572.2,151.1 L572.7,151.0 L573.2,150.8 L573.7,150.6 L574.2,150.4 L574.7,150.3 L575.2,150.3 L575.7,150.3 L576.2,150.2 L576.7,150.1 L577.2,149.9 L577.7,149.8 L578.2,149.7 L578.7,149.6 L579.2,149.5 L579.7,149.4 L580.2,149.2 L580.7,149.0 L581.2,148.9 L581.7,148.7 L582.2,148.7 L582.7,148.7 L583.2,148.6 L583.7,148.5 L584.2,148.3 L584.7,148.1 L585.2,147.9 L585.7,147.7 L586.2,147.6 L586.7,147.6 L587.2,147.7 L587.7,147.7 L588.2,147.5 L588.7,147.4 L589.2,147.3 L589.7,147.1 L590.2,147.0 L590.7,147.0 L591.2,146.9 L591.7,146.9 L592.2,146.8 L592.7,146.6 L593.2,146.3 L593.7,146.1 L594.2,146.0 L594.7,146.0 L595.2,146.1 L595.7,146.1 L596.2,145.9 L596.7,145.8 L597.2,145.6 L597.7,145.5 L598.3,145.5 L598.8,145.5 L599.3,145.4 L599.8,145.3 L600.3,145.2 L600.8,145.1 L601.3,145.0 L601.8,144.9 L602.3,144.8 L602.8,144.7 L603.3,144.6 L603.8,144.5 L604.3,144.4 L604.8,144.3 L605.3,144.2 L605.8,144.0 L606.3,143.9 L606.8,143.8 L607.3,143.7 L607.8,143.7 L608.3,143.6 L608.8,143.6 L609.3,143.4 L609.8,143.3 L610.3,143.2 L610.8,143.1 L611.3,143.0 L611.8,143.0 L612.3,143.0 L612.8,142.7 L613.3,142.5 L613.8,142.3 L614.3,142.2 L614.8,142.3 L615.3,142.3 L615.8,142.2 L616.3,142.1 L616.8,142.0 L617.3,142.0 L617.8,141.9 L618.3,141.8 L618.8,141.7 L619.3,141.6 L619.8,141.5 L620.3,141.4 L620.8,141.2 L621.3,141.1 L621.8,140.9 L622.3,140.9 L622.8,140.9 L623.3,140.9 L623.8,140.7 L624.3,140.5 L624.8,140.3 L625.3,140.2 L625.8,140.3 L626.3,140.4 L626.8,140.4 L627.3,140.2 L627.8,140.0 L628.3,139.8 L628.8,139.6 L629.3,139.6 L629.8,139.6 L630.3,139.6 L630.8,139.7 L631.3,139.5 L631.8,139.3 L632.3,139.1 L632.8,138.9 L633.3,138.8 L633.8,138.9 L634.3,139.0 L634.8,139.1 L635.3,138.9 L635.8,138.7 L636.3,138.6 L636.8,138.4 L637.3,138.3 L637.8,138.3 L638.3,138.4 L638.8,138.4 L639.3,138.3 L639.8,138.2 L640.3,138.0 L640.8,137.9 L641.3,137.8 L641.8,137.8 L642.3,137.7 L642.8,137.7 L643.3,137.7 L643.8,137.5 L644.3,137.4 L644.8,137.2 L645.3,137.1 L645.8,137.0 L646.3,137.1 L646.8,137.1 L647.3,137.1 L647.8,137.0 L648.3,136.8 L648.8,136.7 L649.3,136.6 L649.8,136.5 L650.3,136.5 L650.8,136.5 L651.3,136.5 L651.8,136.4 L652.3,136.3 L652.8,136.2 L653.3,136.1 L653.8,136.0 L654.3,136.0 L654.8,135.9 L655.3,135.9 L655.8,135.7 L656.3,135.6 L656.8,135.5 L657.3,135.3 L657.8,135.3 L658.3,135.4 L658.8,135.4 L659.3,135.4 L659.8,135.3 L660.3,135.2 L660.8,135.1 L661.3,135.0 L661.8,135.0 L661.8,141.4 L661.3,141.4 L660.8,141.5 L660.3,141.6 L659.8,141.7 L659.3,141.7 L658.8,141.8 L658.3,141.9 L657.8,141.9 L657.3,142.0 L656.8,142.1 L656.3,142.1 L655.8,142.2 L655.3,142.3 L654.8,142.4 L654.3,142.5 L653.8,142.5 L653.3,142.6 L652.8,142.6 L652.3,142.7 L651.8,142.8 L651.3,142.8 L650.8,142.9 L650.3,143.0 L649.8,143.0 L649.3,143.2 L648.8,143.3 L648.3,143.4 L647.8,143.5 L647.3,143.5 L646.8,143.6 L646.3,143.6 L645.8,143.7 L645.3,143.7 L644.8,143.8 L644.3,143.9 L643.8,144.0 L643.3,144.1 L642.8,144.2 L642.3,144.2 L641.8,144.3 L641.3,144.3 L640.8,144.4 L640.3,144.4 L639.8,144.5 L639.3,144.6 L638.8,144.7 L638.3,144.8 L637.8,144.9 L637.3,145.0 L636.8,145.0 L636.3,145.1 L635.8,145.2 L635.3,145.3 L634.8,145.4 L634.3,145.5 L633.8,145.7 L633.3,145.8 L632.8,145.8 L632.3,145.9 L631.8,145.9 L631.3,146.0 L630.8,146.0 L630.3,146.1 L629.8,146.2 L629.3,146.2 L628.8,146.3 L628.3,146.4 L627.8,146.5 L627.3,146.6 L626.8,146.7 L626.3,146.8 L625.8,146.8 L625.3,146.9 L624.8,147.0 L624.3,147.1 L623.8,147.2 L623.3,147.3 L622.8,147.5 L622.3,147.6 L621.8,147.6 L621.3,147.7 L620.8,147.8 L620.3,147.8 L619.8,147.9 L619.3,148.0 L618.8,148.0 L618.3,148.1 L617.8,148.3 L617.3,148.4 L616.8,148.5 L616.3,148.6 L615.8,148.6 L615.3,148.7 L614.8,148.8 L614.3,148.9 L613.8,149.1 L613.3,149.3 L612.8,149.3 L612.3,149.3 L611.8,149.4 L611.3,149.4 L610.8,149.5 L610.3,149.7 L609.8,149.8 L609.3,149.9 L608.8,149.9 L608.3,150.0 L607.8,150.1 L607.3,150.2 L606.8,150.3 L606.3,150.5 L605.8,150.6 L605.3,150.7 L604.8,150.8 L604.3,150.9 L603.8,151.0 L603.3,151.0 L602.8,151.1 L602.3,151.2 L601.8,151.3 L601.3,151.3 L600.8,151.4 L600.3,151.5 L599.8,151.7 L599.3,151.8 L598.8,151.9 L598.3,152.0 L597.7,152.1 L597.2,152.2 L596.7,152.2 L596.2,152.3 L595.7,152.4 L595.2,152.5 L594.7,152.6 L594.2,152.7 L593.7,152.9 L593.2,153.0 L592.7,153.1 L592.2,153.2 L591.7,153.3 L591.2,153.4 L590.7,153.5 L590.2,153.6 L589.7,153.7 L589.2,153.7 L588.7,153.9 L588.2,154.0 L587.7,154.1 L587.2,154.2 L586.7,154.3 L586.2,154.4 L585.7,154.5 L585.2,154.6 L584.7,154.7 L584.2,154.8 L583.7,154.9 L583.2,155.0 L582.7,155.1 L582.2,155.2 L581.7,155.3 L581.2,155.4 L580.7,155.5 L580.2,155.7 L579.7,155.8 L579.2,155.9 L578.7,156.0 L578.2,156.1 L577.7,156.2 L577.2,156.3 L576.7,156.4 L576.2,156.5 L575.7,156.7 L575.2,156.8 L574.7,157.0 L574.2,157.1 L573.7,157.2 L573.2,157.3 L572.7,157.4 L572.2,157.5 L571.7,157.6 L571.2,157.6 L570.7,157.7 L570.2,157.9 L569.7,158.0 L569.2,158.2 L568.7,158.3 L568.2,158.3 L567.7,158.4 L567.2,158.5 L566.7,158.7 L566.2,158.8 L565.7,159.0 L565.2,159.1 L564.7,159.2 L564.2,159.3 L563.7,159.4 L563.2,159.5 L562.7,159.6 L562.2,159.7 L561.7,159.8 L561.2,159.9 L560.7,160.1 L560.2,160.2 L559.7,160.4 L559.2,160.4 L558.7,160.5 L558.2,160.6 L557.7,160.7 L557.2,160.8 L556.7,160.9 L556.2,161.1 L555.7,161.3 L555.2,161.4 L554.7,161.6 L554.2,161.7 L553.7,161.8 L553.2,161.8 L552.7,161.9 L552.2,162.0 L551.7,162.1 L551.2,162.3 L550.7,162.5 L550.2,162.6 L549.7,162.8 L549.2,162.9 L548.7,162.9 L548.2,163.0 L547.7,163.1 L547.2,163.2 L546.7,163.3 L546.2,163.5 L545.7,163.7 L545.2,163.8 L544.7,163.9 L544.2,164.0 L543.7,164.1 L543.2,164.3 L542.7,164.4 L542.2,164.6 L541.7,164.7 L541.2,164.8 L540.7,164.9 L540.2,165.0 L539.7,165.1 L539.2,165.2 L538.7,165.3 L538.2,165.4 L537.7,165.6 L537.2,165.7 L536.7,165.9 L536.2,166.0 L535.7,166.1 L535.2,166.2 L534.7,166.3 L534.2,166.4 L533.7,166.5 L533.2,166.7 L532.7,166.8 L532.2,166.9 L531.7,167.1 L531.2,167.2 L530.7,167.4 L530.2,167.5 L529.7,167.6 L529.2,167.7 L528.7,167.9 L528.2,168.0 L527.7,168.1 L527.2,168.2 L526.7,168.4 L526.2,168.5 L525.7,168.7 L525.1,168.8 L524.6,169.0 L524.1,169.1 L523.6,169.2 L523.1,169.4 L522.6,169.5 L522.1,169.6 L521.6,169.7 L521.1,169.8 L520.6,169.9 L520.1,170.0 L519.6,170.2 L519.1,170.4 L518.6,170.6 L518.1,170.8 L517.6,170.9 L517.1,171.0 L516.6,171.1 L516.1,171.2 L515.6,171.3 L515.1,171.4 L514.6,171.5 L514.1,171.6 L513.6,171.8 L513.1,172.0 L512.6,172.1 L512.1,172.2 L511.6,172.4 L511.1,172.5 L510.6,172.6 L510.1,172.7 L509.6,172.9 L509.1,173.0 L508.6,173.1 L508.1,173.3 L507.6,173.4 L507.1,173.6 L506.6,173.7 L506.1,173.8 L505.6,174.0 L505.1,174.1 L504.6,174.2 L504.1,174.4 L503.6,174.5 L503.1,174.7 L502.6,174.8 L502.1,174.9 L501.6,175.1 L501.1,175.2 L500.6,175.3 L500.1,175.4 L499.6,175.5 L499.1,175.7 L498.6,175.9 L498.1,176.0 L497.6,176.2 L497.1,176.3 L496.6,176.5 L496.1,176.6 L495.6,176.7 L495.1,176.9 L494.6,177.0 L494.1,177.1 L493.6,177.3 L493.1,177.5 L492.6,177.6 L492.1,177.7 L491.6,177.9 L491.1,178.0 L490.6,178.1 L490.1,178.3 L489.6,178.5 L489.1,178.7 L488.6,178.8 L488.1,178.9 L487.6,179.0 L487.1,179.1 L486.6,179.3 L486.1,179.4 L485.6,179.6 L485.1,179.7 L484.6,179.8 L484.1,180.0 L483.6,180.1 L483.1,180.2 L482.6,180.4 L482.1,180.6 L481.6,180.8 L481.1,180.9 L480.6,181.0 L480.1,181.1 L479.6,181.2 L479.1,181.3 L478.6,181.5 L478.1,181.7 L477.6,181.9 L477.1,182.0 L476.6,182.2 L476.1,182.3 L475.6,182.4 L475.1,182.5 L474.6,182.7 L474.1,182.9 L473.6,183.1 L473.1,183.2 L472.6,183.3 L472.1,183.4 L471.6,183.6 L471.1,183.7 L470.6,183.9 L470.1,184.0 L469.6,184.2 L469.1,184.4 L468.6,184.5 L468.1,184.6 L467.6,184.8 L467.1,184.9 L466.6,185.0 L466.1,185.2 L465.6,185.4 L465.1,185.6 L464.6,185.8 L464.1,185.9 L463.6,186.0 L463.1,186.1 L462.6,186.2 L462.1,186.4 L461.6,186.6 L461.1,186.8 L460.6,187.0 L460.1,187.1 L459.6,187.3 L459.1,187.4 L458.6,187.5 L458.1,187.6 L457.6,187.7 L457.1,187.9 L456.6,188.1 L456.1,188.2 L455.6,188.4 L455.1,188.6 L454.6,188.8 L454.1,188.9 L453.6,189.0 L453.1,189.2 L452.5,189.3 L452.0,189.4 L451.5,189.6 L451.0,189.7 L450.5,189.8 L450.0,190.0 L449.5,190.1 L449.0,190.3 L448.5,190.5 L448.0,190.6 L447.5,190.8 L447.0,190.9 L446.5,191.1 L446.0,191.2 L445.5,191.4 L445.0,191.6 L444.5,191.8 L444.0,192.0 L443.5,192.1 L443.0,192.3 L442.5,192.4 L442.0,192.5 L441.5,192.6 L441.0,192.7 L440.5,192.9 L440.0,193.1 L439.5,193.3 L439.0,193.4 L438.5,193.5 L438.0,193.7 L437.5,193.8 L437.0,194.0 L436.5,194.2 L436.0,194.4 L435.5,194.6 L435.0,194.8 L434.5,194.9 L434.0,195.1 L433.5,195.2 L433.0,195.3 L432.5,195.4 L432.0,195.6 L431.5,195.7 L431.0,195.8 L430.5,196.0 L430.0,196.2 L429.5,196.3 L429.0,196.5 L428.5,196.7 L428.0,196.8 L427.5,197.0 L427.0,197.1 L426.5,197.3 L426.0,197.4 L425.5,197.6 L425.0,197.8 L424.5,197.9 L424.0,198.1 L423.5,198.3 L423.0,198.5 L422.5,198.7 L422.0,198.9 L421.5,199.0 L421.0,199.1 L420.5,199.2 L420.0,199.4 L419.5,199.5 L419.0,199.7 L418.5,199.9 L418.0,200.1 L417.5,200.3 L417.0,200.4 L416.5,200.5Z" fill="#f03cbf"/>
<circle cx="416.5" cy="197.3" r="3.6" fill="#f03cbf"/>
<circle cx="661.8" cy="138.2" r="3.1" fill="#f03cbf"/>
<rect x="427.1" y="18.1" width="73.10000000000002" height="92.8" fill="#000"/>
<rect x="424.5" y="15.5" width="73.10000000000002" height="92.8" fill="#fff" stroke="#333" stroke-width="0.9"/>
<line x1="426.10" y1="20.50" x2="444.30" y2="20.50" stroke="#666" stroke-width="0.9"/>
<rect x="432.70" y="18.00" width="5.00" height="5.00" fill="#474747"/>
<text x="446.80" y="23.40" font-size="8" font-weight="normal" text-anchor="start" fill="#1a1a1a" letter-spacing="0.35">P(VDF-TrFE)</text>
<line x1="426.10" y1="30.85" x2="444.30" y2="30.85" stroke="#e87070" stroke-width="0.9"/>
<circle cx="435.20" cy="30.85" r="2.75" fill="#e8373c"/>
<text x="446.80" y="33.75" font-size="8" font-weight="normal" text-anchor="start" fill="#1a1a1a" letter-spacing="0.35">CFO5</text>
<line x1="426.10" y1="41.20" x2="444.30" y2="41.20" stroke="#7aa0e8" stroke-width="0.9"/>
<polygon points="435.20,38.33 438.20,43.45 432.20,43.45" fill="#3a6fe0"/>
<text x="446.80" y="44.10" font-size="8" font-weight="normal" text-anchor="start" fill="#1a1a1a" letter-spacing="0.35">CFO10</text>
<line x1="426.10" y1="51.55" x2="444.30" y2="51.55" stroke="#80c8a0" stroke-width="0.9"/>
<polygon points="435.20,54.42 438.20,49.30 432.20,49.30" fill="#44b06a"/>
<text x="446.80" y="54.45" font-size="8" font-weight="normal" text-anchor="start" fill="#1a1a1a" letter-spacing="0.35">CFO20</text>
<line x1="426.10" y1="61.90" x2="444.30" y2="61.90" stroke="#f080d8" stroke-width="0.9"/>
<rect x="432.70" y="59.40" width="5.00" height="5.00" fill="#f03cbf"/>
<text x="446.80" y="64.80" font-size="8" font-weight="normal" text-anchor="start" fill="#1a1a1a" letter-spacing="0.35">CFO20NP</text>
<line x1="426.10" y1="72.25" x2="444.30" y2="72.25" stroke="#c0a0f0" stroke-width="0.9"/>
<polygon points="435.20,69.00 438.45,72.25 435.20,75.50 431.95,72.25" fill="#a66ef0"/>
<text x="446.80" y="75.15" font-size="8" font-weight="normal" text-anchor="start" fill="#1a1a1a" letter-spacing="0.35">FO20</text>
<line x1="426.10" y1="82.60" x2="444.30" y2="82.60" stroke="#c8a860" stroke-width="0.9"/>
<polygon points="432.32,82.60 437.45,79.60 437.45,85.60" fill="#c4982a"/>
<text x="446.80" y="85.50" font-size="8" font-weight="normal" text-anchor="start" fill="#1a1a1a" letter-spacing="0.35">Nd20</text>
<line x1="426.10" y1="92.95" x2="444.30" y2="92.95" stroke="#80e8e0" stroke-width="0.9"/>
<polygon points="438.07,92.95 432.95,89.95 432.95,95.95" fill="#52e0d2"/>
<text x="446.80" y="95.85" font-size="8" font-weight="normal" text-anchor="start" fill="#1a1a1a" letter-spacing="0.35">NFM20</text>
<line x1="426.10" y1="103.30" x2="444.30" y2="103.30" stroke="#906868" stroke-width="0.9"/>
<circle cx="435.20" cy="103.30" r="2.75" fill="#7a4646"/>
<text x="446.80" y="106.20" font-size="8" font-weight="normal" text-anchor="start" fill="#1a1a1a" letter-spacing="0.35">NZF20</text>
<line x1="48.40" y1="274.90" x2="337.00" y2="274.90" stroke="#7a7a7a" stroke-width="1.7"/>
<line x1="337.00" y1="274.90" x2="337.00" y2="482.55" stroke="#6a6a6a" stroke-width="1.6"/>
<line x1="48.40" y1="274.90" x2="48.40" y2="480.75" stroke="#222" stroke-width="1.0"/>
<line x1="47.90" y1="480.75" x2="337.00" y2="480.75" stroke="#6a6a6a" stroke-width="1.7"/>
<line x1="44.20" y1="480.75" x2="48.40" y2="480.75" stroke="#222" stroke-width="1.1"/>
<line x1="44.20" y1="443.33" x2="48.40" y2="443.33" stroke="#222" stroke-width="1.1"/>
<line x1="44.20" y1="405.91" x2="48.40" y2="405.91" stroke="#222" stroke-width="1.1"/>
<line x1="44.20" y1="368.49" x2="48.40" y2="368.49" stroke="#222" stroke-width="1.1"/>
<line x1="44.20" y1="331.07" x2="48.40" y2="331.07" stroke="#222" stroke-width="1.1"/>
<line x1="44.20" y1="293.65" x2="48.40" y2="293.65" stroke="#222" stroke-width="1.1"/>
<line x1="46.40" y1="462.04" x2="48.40" y2="462.04" stroke="#222" stroke-width="1.1"/>
<line x1="46.40" y1="424.62" x2="48.40" y2="424.62" stroke="#222" stroke-width="1.1"/>
<line x1="46.40" y1="387.20" x2="48.40" y2="387.20" stroke="#222" stroke-width="1.1"/>
<line x1="46.40" y1="349.78" x2="48.40" y2="349.78" stroke="#222" stroke-width="1.1"/>
<line x1="46.40" y1="312.36" x2="48.40" y2="312.36" stroke="#222" stroke-width="1.1"/>
<line x1="77.50" y1="480.75" x2="77.50" y2="484.95" stroke="#222" stroke-width="1.1"/>
<line x1="135.12" y1="480.75" x2="135.12" y2="484.95" stroke="#222" stroke-width="1.1"/>
<line x1="192.75" y1="480.75" x2="192.75" y2="484.95" stroke="#222" stroke-width="1.1"/>
<line x1="250.38" y1="480.75" x2="250.38" y2="484.95" stroke="#222" stroke-width="1.1"/>
<line x1="308.00" y1="480.75" x2="308.00" y2="484.95" stroke="#222" stroke-width="1.1"/>
<line x1="48.69" y1="480.75" x2="48.69" y2="482.75" stroke="#222" stroke-width="1.1"/>
<line x1="106.31" y1="480.75" x2="106.31" y2="482.75" stroke="#222" stroke-width="1.1"/>
<line x1="163.94" y1="480.75" x2="163.94" y2="482.75" stroke="#222" stroke-width="1.1"/>
<line x1="221.56" y1="480.75" x2="221.56" y2="482.75" stroke="#222" stroke-width="1.1"/>
<line x1="279.19" y1="480.75" x2="279.19" y2="482.75" stroke="#222" stroke-width="1.1"/>
<line x1="336.81" y1="480.75" x2="336.81" y2="482.75" stroke="#222" stroke-width="1.1"/>
<text x="41.75" y="484.25" font-size="10.2" font-weight="bold" text-anchor="end" fill="#111" letter-spacing="0.35">0.2</text>
<text x="41.75" y="446.83" font-size="10.2" font-weight="bold" text-anchor="end" fill="#111" letter-spacing="0.35">0.4</text>
<text x="41.75" y="409.41" font-size="10.2" font-weight="bold" text-anchor="end" fill="#111" letter-spacing="0.35">0.6</text>
<text x="41.75" y="371.99" font-size="10.2" font-weight="bold" text-anchor="end" fill="#111" letter-spacing="0.35">0.8</text>
<text x="41.75" y="334.57" font-size="10.2" font-weight="bold" text-anchor="end" fill="#111" letter-spacing="0.35">1.0</text>
<text x="41.75" y="297.15" font-size="10.2" font-weight="bold" text-anchor="end" fill="#111" letter-spacing="0.35">1.2</text>
<text x="77.67" y="496.30" font-size="10.2" font-weight="bold" text-anchor="middle" fill="#111" letter-spacing="0.35">0</text>
<text x="135.30" y="496.30" font-size="10.2" font-weight="bold" text-anchor="middle" fill="#111" letter-spacing="0.35">5</text>
<text x="192.93" y="496.30" font-size="10.2" font-weight="bold" text-anchor="middle" fill="#111" letter-spacing="0.35">10</text>
<text x="250.55" y="496.30" font-size="10.2" font-weight="bold" text-anchor="middle" fill="#111" letter-spacing="0.35">15</text>
<text x="308.18" y="496.30" font-size="10.2" font-weight="bold" text-anchor="middle" fill="#111" letter-spacing="0.35">20</text>
<text x="148.50" y="513.00" font-size="17.0" font-weight="bold" fill="#111" letter-spacing="0.327" >Filler wt%</text>
<text transform="translate(15.9,418.9) rotate(-90)" font-size="17" font-weight="bold" fill="#111" letter-spacing="0.45">E<tspan font-size="10.7" font-weight="normal" dy="5.5">Y</tspan><tspan dy="-5.5"> (GPa)</tspan></text>
<text x="57.40" y="300.50" font-size="22.5" font-weight="bold" fill="#000" letter-spacing="0.000" >c</text>
<text x="71.61" y="300.40" font-size="17.5" font-weight="normal" fill="#000" letter-spacing="0.000" >)</text>
<rect x="132.3" y="290.3" width="73.1" height="81.59999999999997" fill="#000"/>
<rect x="129.5" y="287.3" width="73.1" height="81.59999999999997" fill="#fff" stroke="#333" stroke-width="0.9"/>
<rect x="137.80" y="290.00" width="5.00" height="5.00" fill="#474747"/>
<text x="152.60" y="295.50" font-size="8.2" font-weight="normal" text-anchor="start" fill="#1a1a1a" letter-spacing="0.25">P(VDF-TrFE)</text>
<circle cx="140.30" cy="302.83" r="2.75" fill="#e8373c"/>
<text x="152.60" y="305.83" font-size="8.2" font-weight="normal" text-anchor="start" fill="#1a1a1a" letter-spacing="0.25">CFO5</text>
<polygon points="140.30,310.29 143.30,315.41 137.30,315.41" fill="#3a6fe0"/>
<text x="152.60" y="316.16" font-size="8.2" font-weight="normal" text-anchor="start" fill="#1a1a1a" letter-spacing="0.25">CFO10</text>
<polygon points="140.30,326.37 143.30,321.24 137.30,321.24" fill="#44b06a"/>
<text x="152.60" y="326.49" font-size="8.2" font-weight="normal" text-anchor="start" fill="#1a1a1a" letter-spacing="0.25">CFO20</text>
<polygon points="140.30,330.57 143.55,333.82 140.30,337.07 137.05,333.82" fill="#a66ef0"/>
<text x="152.60" y="336.82" font-size="8.2" font-weight="normal" text-anchor="start" fill="#1a1a1a" letter-spacing="0.25">FO20</text>
<polygon points="137.43,344.15 142.55,341.15 142.55,347.15" fill="#c4982a"/>
<text x="152.60" y="347.15" font-size="8.2" font-weight="normal" text-anchor="start" fill="#1a1a1a" letter-spacing="0.25">NdFeB20</text>
<polygon points="143.18,354.48 138.05,351.48 138.05,357.48" fill="#52e0d2"/>
<text x="152.60" y="357.48" font-size="8.2" font-weight="normal" text-anchor="start" fill="#1a1a1a" letter-spacing="0.25">NFM20</text>
<circle cx="140.30" cy="364.81" r="2.75" fill="#7a4646"/>
<text x="152.60" y="367.81" font-size="8.2" font-weight="normal" text-anchor="start" fill="#1a1a1a" letter-spacing="0.25">NZF20</text>
<line x1="308.00" y1="317.97" x2="308.00" y2="351.65" stroke="#c8a8e8" stroke-width="0.8"/>
<line x1="305.80" y1="317.97" x2="310.20" y2="317.97" stroke="#c8a8e8" stroke-width="0.8"/>
<line x1="305.80" y1="351.65" x2="310.20" y2="351.65" stroke="#c8a8e8" stroke-width="0.8"/>
<line x1="308.00" y1="321.71" x2="308.00" y2="350.72" stroke="#8a6a78" stroke-width="0.8"/>
<line x1="305.80" y1="321.71" x2="310.20" y2="321.71" stroke="#8a6a78" stroke-width="0.8"/>
<line x1="305.80" y1="350.72" x2="310.20" y2="350.72" stroke="#8a6a78" stroke-width="0.8"/>
<line x1="308.00" y1="371.30" x2="308.00" y2="465.78" stroke="#a8e0d8" stroke-width="0.8"/>
<line x1="305.80" y1="371.30" x2="310.20" y2="371.30" stroke="#a8e0d8" stroke-width="0.8"/>
<line x1="305.80" y1="465.78" x2="310.20" y2="465.78" stroke="#a8e0d8" stroke-width="0.8"/>
<line x1="308.00" y1="402.17" x2="308.00" y2="451.75" stroke="#d4b870" stroke-width="0.8"/>
<line x1="305.80" y1="402.17" x2="310.20" y2="402.17" stroke="#d4b870" stroke-width="0.8"/>
<line x1="305.80" y1="451.75" x2="310.20" y2="451.75" stroke="#d4b870" stroke-width="0.8"/>
<line x1="308.00" y1="370.36" x2="308.00" y2="407.78" stroke="#70d8cc" stroke-width="0.8"/>
<line x1="305.80" y1="370.36" x2="310.20" y2="370.36" stroke="#70d8cc" stroke-width="0.8"/>
<line x1="305.80" y1="407.78" x2="310.20" y2="407.78" stroke="#70d8cc" stroke-width="0.8"/>
<line x1="308.00" y1="446.14" x2="308.00" y2="477.94" stroke="#a0dcc8" stroke-width="0.8"/>
<line x1="305.80" y1="446.14" x2="310.20" y2="446.14" stroke="#a0dcc8" stroke-width="0.8"/>
<line x1="305.80" y1="477.94" x2="310.20" y2="477.94" stroke="#a0dcc8" stroke-width="0.8"/>
<line x1="135.12" y1="462.04" x2="135.12" y2="473.27" stroke="#e08080" stroke-width="0.8"/>
<line x1="132.93" y1="462.04" x2="137.32" y2="462.04" stroke="#e08080" stroke-width="0.8"/>
<line x1="132.93" y1="473.27" x2="137.32" y2="473.27" stroke="#e08080" stroke-width="0.8"/>
<circle cx="135.12" cy="467.65" r="2.75" fill="#e8373c"/>
<rect x="75.20" y="393.88" width="4.60" height="4.60" fill="#474747"/>
<polygon points="192.75,449.21 195.99,454.74 189.51,454.74" fill="#3a6fe0"/>
<rect x="305.50" y="459.54" width="5.00" height="5.00" fill="#111"/>
<polygon points="304.89,427.24 310.43,424.00 310.43,430.48" fill="#c4982a"/>
<polygon points="311.11,389.07 305.57,385.83 305.57,392.31" fill="#52e0d2"/>
<circle cx="308.00" cy="335.75" r="2.86" fill="#7a4646"/>
<text x="61.10" y="386.20" font-size="9.4" font-weight="bold" text-anchor="start" fill="#2222dc" letter-spacing="0.3">P(VDF-TrFE)</text>
<text x="71.50" y="408.00" font-size="7.6" font-weight="bold" text-anchor="start" fill="#1a1a1a" letter-spacing="0.2">0.65</text>
<text x="109.80" y="439.90" font-size="9.4" font-weight="bold" text-anchor="start" fill="#2222dc" letter-spacing="0.3">CFO5</text>
<text x="128.80" y="455.00" font-size="7.6" font-weight="bold" text-anchor="start" fill="#1a1a1a" letter-spacing="0.2">0.27</text>
<text x="175.40" y="425.00" font-size="9.4" font-weight="bold" text-anchor="start" fill="#2222dc" letter-spacing="0.3">CFO10</text>
<text x="185.90" y="441.70" font-size="7.6" font-weight="bold" text-anchor="start" fill="#1a1a1a" letter-spacing="0.2">0.35</text>
<text x="195.20" y="473.20" font-size="9.4" font-weight="bold" text-anchor="start" fill="#2222dc" letter-spacing="0.3">CFO20 &amp; CFO20NP</text>
<text x="282.70" y="463.10" font-size="7.6" font-weight="bold" text-anchor="start" fill="#1a1a1a" letter-spacing="0.2">0.30</text>
<text x="236.40" y="416.30" font-size="9.4" font-weight="bold" text-anchor="start" fill="#2222dc" letter-spacing="0.3">NdFeB20</text>
<text x="280.30" y="425.30" font-size="7.6" font-weight="bold" text-anchor="start" fill="#1a1a1a" letter-spacing="0.2">0.48</text>
<text x="244.20" y="386.00" font-size="9.4" font-weight="bold" text-anchor="start" fill="#2222dc" letter-spacing="0.3">NFM20</text>
<text x="281.50" y="382.50" font-size="7.6" font-weight="bold" text-anchor="start" fill="#1a1a1a" letter-spacing="0.2">0.69</text>
<text x="257.20" y="338.40" font-size="9.4" font-weight="bold" text-anchor="start" fill="#2222dc" letter-spacing="0.3">FO20</text>
<text x="257.40" y="350.60" font-size="9.4" font-weight="bold" text-anchor="start" fill="#2222dc" letter-spacing="0.3">NZFO20</text>
<text x="279.60" y="315.90" font-size="7.6" font-weight="bold" text-anchor="start" fill="#1a1a1a" letter-spacing="0.2">0.98</text>
<text x="279.60" y="326.90" font-size="7.6" font-weight="bold" text-anchor="start" fill="#1a1a1a" letter-spacing="0.2">0.97</text>
<line x1="393.40" y1="274.90" x2="681.50" y2="274.90" stroke="#7a7a7a" stroke-width="1.7"/>
<line x1="681.50" y1="274.90" x2="681.50" y2="482.55" stroke="#333" stroke-width="1.4"/>
<line x1="393.40" y1="274.90" x2="393.40" y2="480.75" stroke="#222" stroke-width="1.0"/>
<line x1="392.90" y1="480.75" x2="681.50" y2="480.75" stroke="#6a6a6a" stroke-width="1.7"/>
<line x1="389.20" y1="480.75" x2="393.40" y2="480.75" stroke="#222" stroke-width="1.1"/>
<line x1="389.20" y1="439.58" x2="393.40" y2="439.58" stroke="#222" stroke-width="1.1"/>
<line x1="389.20" y1="398.41" x2="393.40" y2="398.41" stroke="#222" stroke-width="1.1"/>
<line x1="389.20" y1="357.24" x2="393.40" y2="357.24" stroke="#222" stroke-width="1.1"/>
<line x1="389.20" y1="316.07" x2="393.40" y2="316.07" stroke="#222" stroke-width="1.1"/>
<line x1="389.20" y1="274.90" x2="393.40" y2="274.90" stroke="#222" stroke-width="1.1"/>
<line x1="391.40" y1="460.17" x2="393.40" y2="460.17" stroke="#222" stroke-width="1.1"/>
<line x1="391.40" y1="419.00" x2="393.40" y2="419.00" stroke="#222" stroke-width="1.1"/>
<line x1="391.40" y1="377.82" x2="393.40" y2="377.82" stroke="#222" stroke-width="1.1"/>
<line x1="391.40" y1="336.65" x2="393.40" y2="336.65" stroke="#222" stroke-width="1.1"/>
<line x1="391.40" y1="295.49" x2="393.40" y2="295.49" stroke="#222" stroke-width="1.1"/>
<line x1="422.30" y1="480.75" x2="422.30" y2="484.95" stroke="#222" stroke-width="1.1"/>
<line x1="479.80" y1="480.75" x2="479.80" y2="484.95" stroke="#222" stroke-width="1.1"/>
<line x1="537.30" y1="480.75" x2="537.30" y2="484.95" stroke="#222" stroke-width="1.1"/>
<line x1="594.80" y1="480.75" x2="594.80" y2="484.95" stroke="#222" stroke-width="1.1"/>
<line x1="652.30" y1="480.75" x2="652.30" y2="484.95" stroke="#222" stroke-width="1.1"/>
<line x1="393.55" y1="480.75" x2="393.55" y2="482.75" stroke="#222" stroke-width="1.1"/>
<line x1="451.05" y1="480.75" x2="451.05" y2="482.75" stroke="#222" stroke-width="1.1"/>
<line x1="508.55" y1="480.75" x2="508.55" y2="482.75" stroke="#222" stroke-width="1.1"/>
<line x1="566.05" y1="480.75" x2="566.05" y2="482.75" stroke="#222" stroke-width="1.1"/>
<line x1="623.55" y1="480.75" x2="623.55" y2="482.75" stroke="#222" stroke-width="1.1"/>
<line x1="681.05" y1="480.75" x2="681.05" y2="482.75" stroke="#222" stroke-width="1.1"/>
<text x="386.65" y="484.25" font-size="10.2" font-weight="bold" text-anchor="end" fill="#111" letter-spacing="0.35">5</text>
<text x="386.65" y="443.08" font-size="10.2" font-weight="bold" text-anchor="end" fill="#111" letter-spacing="0.35">10</text>
<text x="386.65" y="401.91" font-size="10.2" font-weight="bold" text-anchor="end" fill="#111" letter-spacing="0.35">15</text>
<text x="386.65" y="360.74" font-size="10.2" font-weight="bold" text-anchor="end" fill="#111" letter-spacing="0.35">20</text>
<text x="386.65" y="319.57" font-size="10.2" font-weight="bold" text-anchor="end" fill="#111" letter-spacing="0.35">25</text>
<text x="386.65" y="278.40" font-size="10.2" font-weight="bold" text-anchor="end" fill="#111" letter-spacing="0.35">30</text>
<text x="422.48" y="496.30" font-size="10.2" font-weight="bold" text-anchor="middle" fill="#111" letter-spacing="0.35">0</text>
<text x="479.98" y="496.30" font-size="10.2" font-weight="bold" text-anchor="middle" fill="#111" letter-spacing="0.35">5</text>
<text x="537.47" y="496.30" font-size="10.2" font-weight="bold" text-anchor="middle" fill="#111" letter-spacing="0.35">10</text>
<text x="594.97" y="496.30" font-size="10.2" font-weight="bold" text-anchor="middle" fill="#111" letter-spacing="0.35">15</text>
<text x="652.47" y="496.30" font-size="10.2" font-weight="bold" text-anchor="middle" fill="#111" letter-spacing="0.35">20</text>
<text x="490.19" y="513.00" font-size="17.0" font-weight="bold" fill="#111" letter-spacing="0.316" >Filler wt%</text>
<text transform="translate(365,428.3) rotate(-90)" font-size="16.3" font-weight="bold" fill="#111">|d<tspan font-size="10.5" font-weight="normal" dy="4">33</tspan><tspan dy="-4">| </tspan><tspan letter-spacing="1.3">(pC.N</tspan><tspan font-size="10" font-weight="normal" dy="-8.5" letter-spacing="0.3">-1</tspan><tspan dy="8.5" dx="0.6">)</tspan></text>
<text x="405.21" y="298.70" font-size="22.2" font-weight="bold" fill="#000" letter-spacing="0.000" >d</text>
<text x="420.51" y="299.20" font-size="17.6" font-weight="normal" fill="#000" letter-spacing="0.000" >)</text>
<rect x="408.09999999999997" y="352.5" width="72.80000000000001" height="82.60000000000002" fill="#000"/>
<rect x="405.4" y="349.7" width="72.80000000000001" height="82.60000000000002" fill="#fff" stroke="#333" stroke-width="0.9"/>
<rect x="413.30" y="352.90" width="5.00" height="5.00" fill="#474747"/>
<text x="428.00" y="358.40" font-size="8.2" font-weight="normal" text-anchor="start" fill="#1a1a1a" letter-spacing="0.25">P(VDF-TrFE)</text>
<circle cx="415.80" cy="365.75" r="2.75" fill="#e8373c"/>
<text x="428.00" y="368.75" font-size="8.2" font-weight="normal" text-anchor="start" fill="#1a1a1a" letter-spacing="0.25">CFO5</text>
<polygon points="415.80,373.22 418.80,378.35 412.80,378.35" fill="#3a6fe0"/>
<text x="428.00" y="379.10" font-size="8.2" font-weight="normal" text-anchor="start" fill="#1a1a1a" letter-spacing="0.25">CFO10</text>
<polygon points="415.80,389.32 418.80,384.20 412.80,384.20" fill="#44b06a"/>
<text x="428.00" y="389.45" font-size="8.2" font-weight="normal" text-anchor="start" fill="#1a1a1a" letter-spacing="0.25">CFO20</text>
<polygon points="415.80,393.55 419.05,396.80 415.80,400.05 412.55,396.80" fill="#a66ef0"/>
<text x="428.00" y="399.80" font-size="8.2" font-weight="normal" text-anchor="start" fill="#1a1a1a" letter-spacing="0.25">FO20</text>
<polygon points="412.93,407.15 418.05,404.15 418.05,410.15" fill="#c4982a"/>
<text x="428.00" y="410.15" font-size="8.2" font-weight="normal" text-anchor="start" fill="#1a1a1a" letter-spacing="0.25">NdFeB20</text>
<polygon points="418.68,417.50 413.55,414.50 413.55,420.50" fill="#52e0d2"/>
<text x="428.00" y="420.50" font-size="8.2" font-weight="normal" text-anchor="start" fill="#1a1a1a" letter-spacing="0.25">NZFO20</text>
<circle cx="415.80" cy="427.85" r="2.75" fill="#7a4646"/>
<text x="428.00" y="430.85" font-size="8.2" font-weight="normal" text-anchor="start" fill="#1a1a1a" letter-spacing="0.25">NFM20</text>
<line x1="422.30" y1="307.84" x2="422.30" y2="324.30" stroke="#707070" stroke-width="0.8"/>
<line x1="420.10" y1="307.84" x2="424.50" y2="307.84" stroke="#707070" stroke-width="0.8"/>
<line x1="420.10" y1="324.30" x2="424.50" y2="324.30" stroke="#707070" stroke-width="0.8"/>
<rect x="419.80" y="313.57" width="5.00" height="5.00" fill="#474747"/>
<text x="422.30" y="327.30" font-size="6.8" font-weight="bold" text-anchor="middle" fill="#1a1a1a" letter-spacing="0.2">25</text>
<line x1="479.80" y1="291.37" x2="479.80" y2="307.84" stroke="#e06060" stroke-width="0.8"/>
<line x1="477.60" y1="291.37" x2="482.00" y2="291.37" stroke="#e06060" stroke-width="0.8"/>
<line x1="477.60" y1="307.84" x2="482.00" y2="307.84" stroke="#e06060" stroke-width="0.8"/>
<circle cx="479.80" cy="299.60" r="2.86" fill="#e8373c"/>
<text x="479.80" y="311.40" font-size="6.8" font-weight="bold" text-anchor="middle" fill="#1a1a1a" letter-spacing="0.2">27</text>
<line x1="537.30" y1="381.94" x2="537.30" y2="398.41" stroke="#5080e0" stroke-width="0.8"/>
<line x1="535.10" y1="381.94" x2="539.50" y2="381.94" stroke="#5080e0" stroke-width="0.8"/>
<line x1="535.10" y1="398.41" x2="539.50" y2="398.41" stroke="#5080e0" stroke-width="0.8"/>
<polygon points="537.30,386.96 540.66,392.70 533.94,392.70" fill="#3a6fe0"/>
<text x="537.30" y="401.00" font-size="6.8" font-weight="bold" text-anchor="middle" fill="#1a1a1a" letter-spacing="0.2">16</text>
<line x1="652.30" y1="316.07" x2="652.30" y2="332.54" stroke="#7ee0d8" stroke-width="0.8"/>
<line x1="650.10" y1="316.07" x2="654.50" y2="316.07" stroke="#7ee0d8" stroke-width="0.8"/>
<line x1="650.10" y1="332.54" x2="654.50" y2="332.54" stroke="#7ee0d8" stroke-width="0.8"/>
<polygon points="655.40,324.30 649.87,321.06 649.87,327.54" fill="#52e0d2"/>
<line x1="652.30" y1="357.24" x2="652.30" y2="373.71" stroke="#d4b060" stroke-width="0.8"/>
<line x1="650.10" y1="357.24" x2="654.50" y2="357.24" stroke="#d4b060" stroke-width="0.8"/>
<line x1="650.10" y1="373.71" x2="654.50" y2="373.71" stroke="#d4b060" stroke-width="0.8"/>
<polygon points="649.19,365.47 654.73,362.23 654.73,368.71" fill="#c4982a"/>
<line x1="652.30" y1="381.94" x2="652.30" y2="394.29" stroke="#c8a8ec" stroke-width="0.8"/>
<line x1="650.10" y1="381.94" x2="654.50" y2="381.94" stroke="#c8a8ec" stroke-width="0.8"/>
<line x1="650.10" y1="394.29" x2="654.50" y2="394.29" stroke="#c8a8ec" stroke-width="0.8"/>
<line x1="652.30" y1="396.76" x2="652.30" y2="406.64" stroke="#90d0a8" stroke-width="0.8"/>
<line x1="650.10" y1="396.76" x2="654.50" y2="396.76" stroke="#90d0a8" stroke-width="0.8"/>
<line x1="650.10" y1="406.64" x2="654.50" y2="406.64" stroke="#90d0a8" stroke-width="0.8"/>
<polygon points="652.30,401.51 655.54,395.98 649.06,395.98" fill="#44b06a"/>
<polygon points="652.30,386.67 655.81,390.18 652.30,393.69 648.79,390.18" fill="#a66ef0"/>
<line x1="652.30" y1="439.58" x2="652.30" y2="456.05" stroke="#9a6a6a" stroke-width="0.8"/>
<line x1="650.10" y1="439.58" x2="654.50" y2="439.58" stroke="#9a6a6a" stroke-width="0.8"/>
<line x1="650.10" y1="456.05" x2="654.50" y2="456.05" stroke="#9a6a6a" stroke-width="0.8"/>
<circle cx="652.30" cy="447.81" r="2.86" fill="#7a4646"/>
<text x="646.60" y="326.60" font-size="6.8" font-weight="bold" text-anchor="end" fill="#1a1a1a" letter-spacing="0.2">24</text>
<text x="646.00" y="368.10" font-size="6.8" font-weight="bold" text-anchor="end" fill="#1a1a1a" letter-spacing="0.2">19</text>
<text x="644.70" y="392.60" font-size="6.8" font-weight="bold" text-anchor="end" fill="#1a1a1a" letter-spacing="0.2">16</text>
<text x="645.60" y="400.30" font-size="6.8" font-weight="bold" text-anchor="end" fill="#1a1a1a" letter-spacing="0.2">15</text>
<text x="645.20" y="450.40" font-size="6.8" font-weight="bold" text-anchor="end" fill="#1a1a1a" letter-spacing="0.2">9</text>
<text x="522.00" y="373.60" font-size="9.4" font-weight="bold" text-anchor="start" fill="#2222dc" letter-spacing="0.3">CFO10</text>
<text x="484.90" y="320.70" font-size="9.4" font-weight="bold" text-anchor="start" fill="#2222dc" letter-spacing="0.3">CFO5</text>
<text x="406.10" y="339.00" font-size="9.4" font-weight="bold" text-anchor="start" fill="#2222dc" letter-spacing="0.3">P(VDF-TrFE)</text>
<text x="626.30" y="329.00" font-size="9.4" font-weight="bold" text-anchor="end" fill="#2222dc" letter-spacing="0.3">NZFO20</text>
<text x="631.10" y="367.00" font-size="9.4" font-weight="bold" text-anchor="end" fill="#2222dc" letter-spacing="0.3">NdFeB20</text>
<text x="628.30" y="392.10" font-size="9.4" font-weight="bold" text-anchor="end" fill="#2222dc" letter-spacing="0.3">FO20</text>
<text x="634.60" y="407.80" font-size="9.4" font-weight="bold" text-anchor="end" fill="#2222dc" letter-spacing="0.3">CFO20</text>
<text x="636.00" y="452.20" font-size="9.4" font-weight="bold" text-anchor="end" fill="#2222dc" letter-spacing="0.3">NFM20</text>
</svg></body></html>
